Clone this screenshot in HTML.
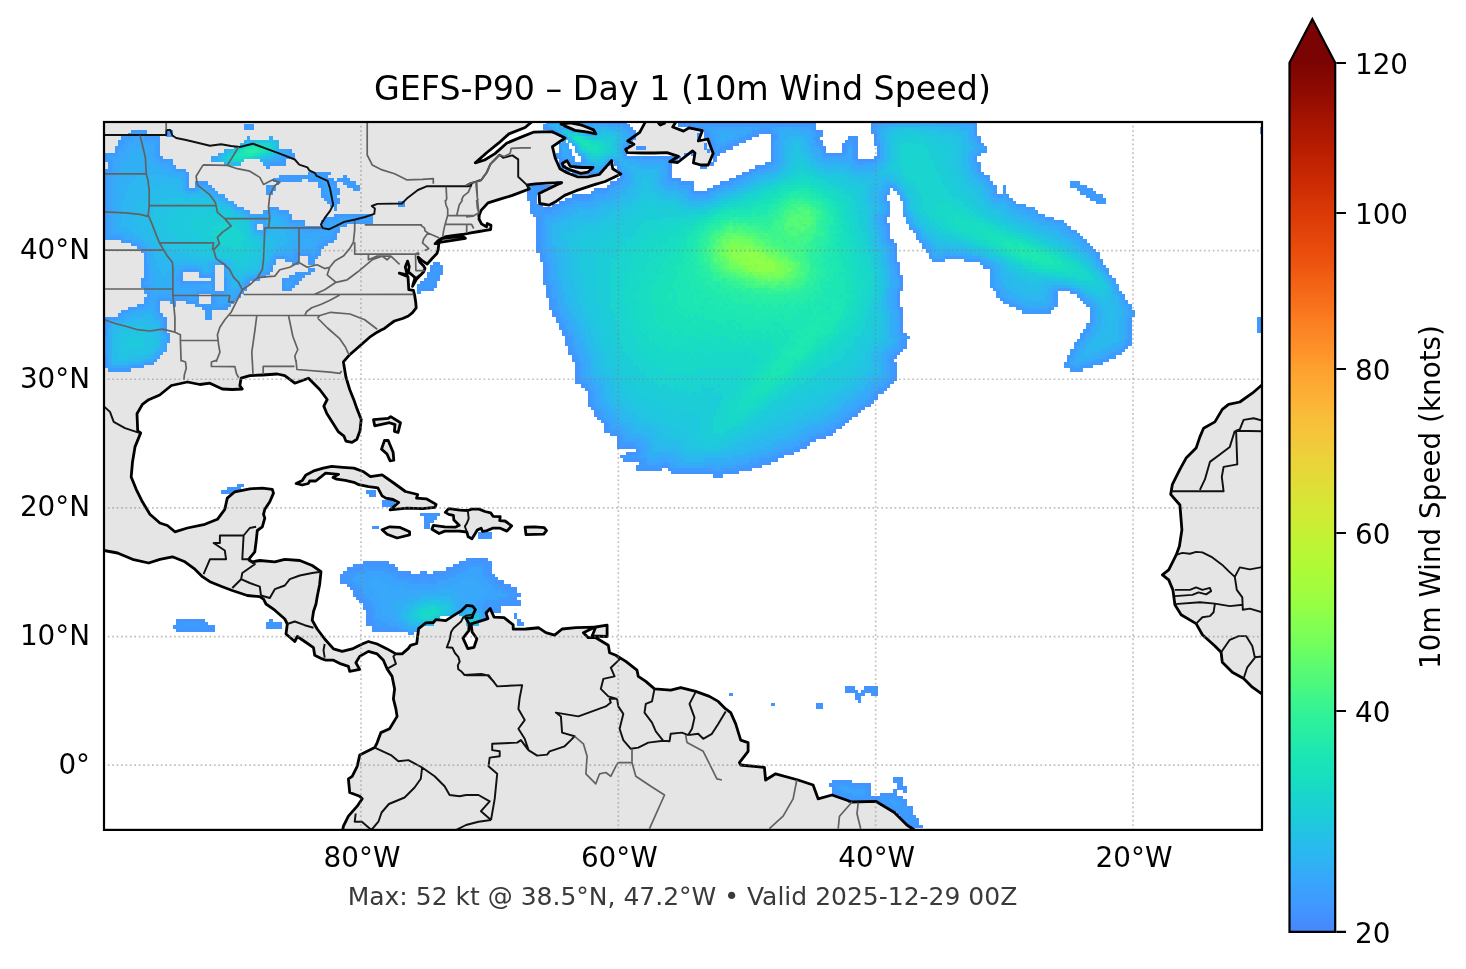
<!DOCTYPE html>
<html lang="en"><head><meta charset="utf-8"><title>GEFS-P90 – Day 1 (10m Wind Speed)</title>
<style>html,body{margin:0;padding:0;background:#fff;overflow:hidden}svg{display:block}</style></head>
<body>
<svg width="1466" height="969" viewBox="0 0 1466 969">
<defs><clipPath id="ax"><rect x="104" y="122" width="1158" height="707.9"/></clipPath>
<linearGradient id="cb" x1="0" y1="0" x2="0" y2="1"><stop offset="0.0000" stop-color="#7a0403"/><stop offset="0.0156" stop-color="#850702"/><stop offset="0.0312" stop-color="#8e0a01"/><stop offset="0.0469" stop-color="#980e01"/><stop offset="0.0625" stop-color="#a41301"/><stop offset="0.0781" stop-color="#ac1701"/><stop offset="0.0938" stop-color="#b41b01"/><stop offset="0.1094" stop-color="#be2102"/><stop offset="0.1250" stop-color="#c52603"/><stop offset="0.1406" stop-color="#cc2b04"/><stop offset="0.1562" stop-color="#d43305"/><stop offset="0.1719" stop-color="#da3907"/><stop offset="0.1875" stop-color="#df3f08"/><stop offset="0.2031" stop-color="#e5470b"/><stop offset="0.2188" stop-color="#ea4e0d"/><stop offset="0.2344" stop-color="#ed5510"/><stop offset="0.2500" stop-color="#f26014"/><stop offset="0.2656" stop-color="#f56918"/><stop offset="0.2812" stop-color="#f8721c"/><stop offset="0.2969" stop-color="#fb7e21"/><stop offset="0.3125" stop-color="#fc8725"/><stop offset="0.3281" stop-color="#fe9029"/><stop offset="0.3438" stop-color="#fe9b2d"/><stop offset="0.3594" stop-color="#fea431"/><stop offset="0.3750" stop-color="#fdac34"/><stop offset="0.3906" stop-color="#fcb336"/><stop offset="0.4062" stop-color="#f9bc39"/><stop offset="0.4219" stop-color="#f6c33a"/><stop offset="0.4375" stop-color="#f2c93a"/><stop offset="0.4531" stop-color="#ecd13a"/><stop offset="0.4688" stop-color="#e7d739"/><stop offset="0.4844" stop-color="#e1dd37"/><stop offset="0.5000" stop-color="#d9e436"/><stop offset="0.5156" stop-color="#d2e935"/><stop offset="0.5312" stop-color="#cbed34"/><stop offset="0.5469" stop-color="#c1f334"/><stop offset="0.5625" stop-color="#b9f635"/><stop offset="0.5781" stop-color="#b1f936"/><stop offset="0.5938" stop-color="#a7fc3a"/><stop offset="0.6094" stop-color="#9ffd3f"/><stop offset="0.6250" stop-color="#96fe44"/><stop offset="0.6406" stop-color="#88ff4e"/><stop offset="0.6562" stop-color="#7dff56"/><stop offset="0.6719" stop-color="#71fe5f"/><stop offset="0.6875" stop-color="#61fc6c"/><stop offset="0.7031" stop-color="#55fa76"/><stop offset="0.7188" stop-color="#4af880"/><stop offset="0.7344" stop-color="#3cf58e"/><stop offset="0.7500" stop-color="#32f298"/><stop offset="0.7656" stop-color="#2aefa1"/><stop offset="0.7812" stop-color="#22ebaa"/><stop offset="0.7969" stop-color="#1ce6b4"/><stop offset="0.8125" stop-color="#19e2bb"/><stop offset="0.8281" stop-color="#18ddc2"/><stop offset="0.8438" stop-color="#19d5cd"/><stop offset="0.8594" stop-color="#1bd0d5"/><stop offset="0.8750" stop-color="#1fc9dd"/><stop offset="0.8906" stop-color="#25c0e7"/><stop offset="0.9062" stop-color="#2ab9ee"/><stop offset="0.9219" stop-color="#2fb2f4"/><stop offset="0.9375" stop-color="#37a8fa"/><stop offset="0.9531" stop-color="#3ba0fd"/><stop offset="0.9688" stop-color="#4099ff"/><stop offset="0.9844" stop-color="#448ffe"/><stop offset="1.0000" stop-color="#4687fb"/></linearGradient>
</defs>
<rect width="1466" height="969" fill="#fff"/>
<g clip-path="url(#ax)">
<path d="M441.5 238.5 L462.5 236.1 465.4 238.4 439.8 242.3ZM562.2 163.5 L566.9 160.6 570.4 166.4 582 167.5 593 167.5 587.8 172.2 580.8 173.3 570.4 169.9 563.4 166.4ZM561.1 124.1 L570.4 122.9 582 125.2 593.6 129.9 595.9 133.9 587.8 132.2 575 130.4 565.7 126.4ZM296.1 483.5 L302.3 480.4 306 474.9 314.6 470.6 323.2 468.1 331.7 466.3 342.8 467.3 353.9 468.1 363.7 471.8 370.4 476.7 382.1 474.9 394.4 483.5 405.4 491.5 417.7 494.5 416.5 498.2 426.3 498.8 436.1 504.4 434.9 507.4 422.6 508.7 406.7 508.1 390.1 509.9 398.7 502.5 393.1 499.5 385.8 498.2 382.1 495.8 377.8 487.8 368.6 486.6 358.8 484.7 353.9 482.3 345.3 480.4 336.7 479.2 333 477.4 338.5 474.3 325.6 473.1 315.8 481 309.6 481 308.4 483.5 302.3 485ZM382.1 529.8 L389.6 526.8 399.6 527.3 409.6 531.8 409.6 534.8 397.1 538 387.1 534.3ZM373.5 419.6 L388.2 418.4 390.7 416.6 400.5 422.7 398.1 432.5 394.4 431.3 395 424.6 389.5 422.7 374.7 425.8ZM384.5 440.5 L388.2 440.5 393.1 452.2 393.8 460.2 390.1 460.8 387 454 381.5 449.1ZM525.1 527.2 L534.6 526.8 544.2 527.7 546.5 530.6 543.7 534.1 526 534.7ZM595.8 627 L607.1 625.2 607.1 636.5 592.1 636ZM445.3 512.4 L448.7 508.6 460.1 510.1 467.8 510.5 471.6 509.1 479.2 509.1 484.9 511.5 490.7 512.9 493.1 516.3 500.2 516.7 499.7 520.6 505 521 511.7 525.8 506.9 531.1 500.2 528.2 492.6 528.2 486.9 530.6 482.6 531.5 481.1 528.2 477.3 530.1 472 538.7 468.2 536.8 466.8 532 459.2 531.1 451.5 531.1 444.8 531.1 439.1 533.5 431.9 529.2 433.4 525.3 444.8 526.8 455.3 527.2 459.2 525.3 453.9 520.1 453.4 515.3 448.7 514.4ZM645.5 121.7 L639.7 132.4 627.7 141 633.9 144.3 625.7 149.3 627.3 152.6 643 153 654.6 153 666.9 152.6 678.5 156.3 669.8 161.7 677.7 162.5 692.5 150.9 695 153 693.4 162.9 700.8 165 708.2 165 713.2 153.4 707.8 139 698.3 141 702.4 130.7 689.2 127.8 683.5 131.1 672.7 127 676 121.7ZM532.7 120 L530.9 122.6 525.1 127.5 508.9 133.9 498.5 143.2 486.9 152.5 475.3 162.9 484.6 160 495 153.6 506.6 143.2 520.5 137.4 533.3 132.2 551.8 131.6 565.1 138 552.4 146.7 555.3 158.3 559.9 168.7 566.9 172.8 577.3 176.8 587.8 176.8 599.3 174.5 611.5 160.6 612.7 168.7 620.8 173.9 605.1 181.5 593.6 184.9 576.2 190.7 564.6 195.4 556.4 201.2 548.9 205.2 539.6 203.5 539.1 193.6 547.2 189.6 561.7 182.6 547.2 183.2 535.6 183.8 527.5 184.9 529.2 189 512.4 195.4 500.8 198.8 488 202.9 481.1 210.4 478.8 216.2 479.4 213.2 479 219 481.5 223.9 486.5 226.8 487.3 223.5 491 225.2 490.6 229.7 485.6 230.4 479 231.5 470.8 232.8 462.5 234.5 454.3 235.3 446 236.6 441.5 238.5 437.8 241 435.1 243.7 438.8 243.7 438.2 249.5 436.9 253.6 432.8 257.8 427.2 264 422.9 261.2 418.1 257.1 419.8 262.1 423.7 266 425 268.5 423.7 271.8 421.3 274.3 417.1 277.6 420.8 274.8 416.7 278.9 412.5 286.3 415 277.6 411.3 274.3 408.4 271.9 409.2 266.5 407.6 261.1 405.3 266.9 407.2 274.8 399.3 273.1 408 276.8 408.8 289.6 413.4 290.4 414.6 295 415.8 302.8 416.2 307.8 412.5 312.7 408.4 316 402.6 318.5 394.4 321 389.4 324.7 384.5 328.4 381.2 330 377.2 332.2 369.7 337.2 359.7 346 349.7 354.7 343.4 361.9 345.9 377 349.7 389.5 353.9 400 356.9 408.6 361.2 419.6 360 430.7 356.9 439.3 352 442.4 345.9 441.1 344 436.2 338.5 431.9 333 423.3 326.8 413.5 323.8 406.1 327.2 399.5 319.7 389.5 308.5 378.2 294.8 383.2 284.8 375.7 277.3 374 262.3 375 249.8 375.7 241.1 378.2 239.8 385.7 242.3 389 232.3 389.5 222.3 389 209.9 383.2 199.9 384.5 187.4 382 171.4 385.5 159.7 395 148.7 399.7 142.4 404.4 137 413.7 137.7 430.9 140.7 432.9 135 446.9 132.5 461.9 131.2 476.9 136.2 489.3 142.4 501.8 149.9 514.3 159.9 523 167.4 525.5 174.9 531.8 187.4 528 204.9 524.3 217.4 519.3 224.8 509.3 227.3 498.1 234.8 491.8 249.8 488.8 262.3 488.1 272.3 489.3 273.5 493.1 269.8 501.8 264.8 509.3 263.5 514.3 264.8 518.1 262.3 526.8 257.3 530.5 256.1 541.8 254.8 551.8 248.6 559.3 252.3 561.8 259.8 560.5 274.8 561.8 284.8 559.3 299.8 560.5 312.2 565.5 321 571.7 319.7 584.2 317.2 596.7 316 603.9 316 604 313.5 611.5 312.2 620.2 317.2 629 324.7 639 333.5 648.9 342.2 651.4 352.2 648.9 362.2 644 368.4 641.5 377.2 644 387.1 648.9 395.9 653.9 402.1 653.9 408.4 648.4 410.5 645.4 416.7 643.5 418.6 628.7 425.8 622.9 433.4 622.5 435.8 619.6 445.8 620.6 455.4 614.4 461.1 611 466.9 605.3 472.6 606.2 475.4 609.6 473.1 614.4 472.1 617.7 465.9 618.2 469.2 623.9 468.8 630.6 463 638.2 467.8 648.7 474 647.3 476.9 638.7 472.1 632 471.1 623.9 485 619.6 487.9 618.7 486 612.9 490.2 608.6 494.1 617.2 504.1 617.7 513.2 624.9 513.2 629.2 524.2 629.2 537.5 628.2 525.9 629 538.4 627.7 545.9 632.7 554.6 635.2 562.1 629 575.9 627.7 594.6 627.2 585.9 631.5 583.4 632.7 588.3 637.7 595.8 637.7 602.1 641.5 608.3 645.2 609.6 652.7 615.8 655.2 625.8 661.4 637 670.2 638.3 676.4 645.8 681.4 654.5 688.9 670.7 690.1 680.7 687.6 695.7 691.4 709.4 696.4 718.2 701.4 725.7 708.9 730.7 712.6 735.7 723.9 740.7 740.1 748.1 742.6 748.1 751.3 739.4 762.6 740.7 765 764.4 767.5 765.6 780 775.6 773.8 798.1 780 813.1 785 818.1 798.8 832 795 852 802 875.7 801.3 894.4 812.5 906.9 825 914.4 830 930 835 345 835 342.7 830 343.4 826.2 348.4 816.2 357.2 806.2 362.2 798.8 359.7 796.3 349.7 792.5 348.4 778.8 352.2 776.3 357.2 766.3 359.7 755.1 374.7 747.6 377.2 742.6 380.9 732.6 389.6 728.8 397.1 716.4 395.9 708.9 393.4 698.9 394.6 688.9 392.1 676.4 387.1 668.9 383.4 660.2 377.2 653.9 368.4 651.4 359.7 656.4 355.9 662.7 359.7 669.4 349.7 671.4 348.4 666.4 340.9 663.9 333.5 660.2 326 660.2 322.2 658.9 314.7 655.2 313.5 647.7 304.7 641.5 297.3 636.5 294.8 641.5 286 634 287.3 624 284.8 619 274.8 610.2 266 604 263.5 599.2 259.8 596.7 247.3 595.5 232.3 590.5 222.3 586.7 209.9 581.7 202.4 576.7 194.9 569.2 184.9 561.8 172.4 556.8 159.9 559.3 148.7 563 132.5 559.3 117.5 553 104 550.5 98 560 98 116 600 116ZM1266 381.5 L1261 385.7 1252.3 393.2 1239.8 402 1228.6 404.4 1222.3 409.4 1214.9 421.9 1203.6 428.2 1199.9 436.9 1196.1 448.1 1186.1 458.1 1179.9 469.4 1172.4 484.3 1170.7 494.3 1179.9 505 1181.9 529.9 1179.4 546.2 1176.2 554.9 1168.7 569.9 1162.4 574.9 1168.7 579.9 1172.9 589.9 1174.9 604.8 1181.1 614.8 1196.1 623.6 1202.4 634.8 1214.9 646 1221.1 652.3 1222.3 662.3 1232.3 672.3 1243.6 678.5 1252.3 687.2 1266 696.7 1272 700 1272 380Z" fill="#e5e5e5" fill-rule="nonzero"/>
<g shape-rendering="crispEdges">
<path fill="#4294ff" d="M607.0 120.3H626.6V123.8H607.0ZM677.8 120.3H816.4V123.8H677.8ZM870.8 120.3H877.5V123.8H870.8ZM626.3 123.5H629.8V127.0H626.3ZM677.8 123.5H691.0V127.0H677.8ZM812.9 123.5H816.4V127.0H812.9ZM870.8 123.5H874.3V127.0H870.8ZM629.5 126.7H633.1V130.2H629.5ZM690.7 126.7H703.8V130.2H690.7ZM812.9 126.7H816.4V130.2H812.9ZM870.8 126.7H874.3V130.2H870.8ZM632.8 129.9H636.3V133.5H632.8ZM703.5 129.9H707.0V133.5H703.5ZM758.2 129.9H771.4V133.5H758.2ZM816.1 129.9H822.8V133.5H816.1ZM870.8 129.9H874.3V133.5H870.8ZM632.8 133.2H636.3V136.7H632.8ZM697.1 133.2H700.6V136.7H697.1ZM703.5 133.2H707.0V136.7H703.5ZM751.8 133.2H758.5V136.7H751.8ZM771.1 133.2H774.6V136.7H771.1ZM819.3 133.2H822.8V136.7H819.3ZM874.0 133.2H877.5V136.7H874.0ZM632.8 136.4H636.3V139.9H632.8ZM697.1 136.4H700.6V139.9H697.1ZM703.5 136.4H710.3V139.9H703.5ZM745.3 136.4H752.1V139.9H745.3ZM771.1 136.4H774.6V139.9H771.1ZM816.1 136.4H819.6V139.9H816.1ZM848.3 136.4H858.2V139.9H848.3ZM874.0 136.4H877.5V139.9H874.0ZM710.0 139.6H713.5V143.1H710.0ZM738.9 139.6H745.6V143.1H738.9ZM771.1 139.6H774.6V143.1H771.1ZM819.3 139.6H822.8V143.1H819.3ZM845.1 139.6H848.6V143.1H845.1ZM854.7 139.6H858.2V143.1H854.7ZM703.5 142.8H707.0V146.3H703.5ZM710.0 142.8H713.5V146.3H710.0ZM732.5 142.8H739.2V146.3H732.5ZM771.1 142.8H774.6V146.3H771.1ZM819.3 142.8H822.8V146.3H819.3ZM841.8 142.8H845.4V146.3H841.8ZM854.7 142.8H858.2V146.3H854.7ZM639.2 146.0H645.9V149.5H639.2ZM703.5 146.0H707.0V149.5H703.5ZM710.0 146.0H713.5V149.5H710.0ZM726.0 146.0H732.8V149.5H726.0ZM771.1 146.0H774.6V149.5H771.1ZM822.5 146.0H826.1V149.5H822.5ZM841.8 146.0H845.4V149.5H841.8ZM854.7 146.0H858.2V149.5H854.7ZM706.7 149.2H710.3V152.8H706.7ZM713.2 149.2H716.7V152.8H713.2ZM719.6 149.2H726.3V152.8H719.6ZM771.1 149.2H774.6V152.8H771.1ZM822.5 149.2H826.1V152.8H822.5ZM841.8 149.2H845.4V152.8H841.8ZM854.7 149.2H858.2V152.8H854.7ZM555.6 152.5H559.1V156.0H555.6ZM684.2 152.5H687.7V156.0H684.2ZM690.7 152.5H694.2V156.0H690.7ZM713.2 152.5H719.9V156.0H713.2ZM771.1 152.5H774.6V156.0H771.1ZM825.8 152.5H842.1V156.0H825.8ZM854.7 152.5H858.2V156.0H854.7ZM555.6 155.7H559.1V159.2H555.6ZM642.4 155.7H681.3V159.2H642.4ZM713.2 155.7H716.7V159.2H713.2ZM771.1 155.7H774.6V159.2H771.1ZM854.7 155.7H858.2V159.2H854.7ZM558.8 158.9H565.5V162.4H558.8ZM671.4 158.9H678.1V162.4H671.4ZM713.2 158.9H716.7V162.4H713.2ZM771.1 158.9H774.6V162.4H771.1ZM857.9 158.9H874.3V162.4H857.9ZM558.8 162.1H562.3V165.6H558.8ZM568.4 162.1H571.9V165.6H568.4ZM668.1 162.1H671.7V165.6H668.1ZM710.0 162.1H713.5V165.6H710.0ZM764.6 162.1H771.4V165.6H764.6ZM558.8 165.3H565.5V168.8H558.8ZM574.9 165.3H578.4V168.8H574.9ZM668.1 165.3H671.7V168.8H668.1ZM700.3 165.3H707.0V168.8H700.3ZM755.0 165.3H764.9V168.8H755.0ZM565.2 168.5H571.9V172.1H565.2ZM668.1 168.5H671.7V172.1H668.1ZM748.6 168.5H755.3V172.1H748.6ZM571.6 171.8H594.5V175.3H571.6ZM668.1 171.8H671.7V175.3H668.1ZM742.1 171.8H748.9V175.3H742.1ZM619.9 175.0H623.4V178.5H619.9ZM668.1 175.0H671.7V178.5H668.1ZM735.7 175.0H742.4V178.5H735.7ZM616.7 178.2H620.2V181.7H616.7ZM671.4 178.2H681.3V181.7H671.4ZM729.3 178.2H736.0V181.7H729.3ZM555.6 181.4H562.3V184.9H555.6ZM610.2 181.4H617.0V184.9H610.2ZM681.0 181.4H694.2V184.9H681.0ZM719.6 181.4H729.6V184.9H719.6ZM529.8 184.6H552.6V188.1H529.8ZM607.0 184.6H610.5V188.1H607.0ZM690.7 184.6H694.2V188.1H690.7ZM713.2 184.6H719.9V188.1H713.2ZM526.6 187.8H530.1V191.4H526.6ZM539.5 187.8H546.2V191.4H539.5ZM594.2 187.8H607.3V191.4H594.2ZM690.7 187.8H694.2V191.4H690.7ZM706.7 187.8H713.5V191.4H706.7ZM526.6 191.1H530.1V194.6H526.6ZM536.3 191.1H539.8V194.6H536.3ZM590.9 191.1H594.5V194.6H590.9ZM693.9 191.1H707.0V194.6H693.9ZM526.6 194.3H530.1V197.8H526.6ZM533.0 194.3H536.6V197.8H533.0ZM571.6 194.3H591.2V197.8H571.6ZM526.6 197.5H530.1V201.0H526.6ZM533.0 197.5H536.6V201.0H533.0ZM565.2 197.5H571.9V201.0H565.2ZM529.8 200.7H536.6V204.2H529.8ZM558.8 200.7H565.5V204.2H558.8ZM529.8 203.9H533.3V207.4H529.8ZM536.3 203.9H543.0V207.4H536.3ZM552.3 203.9H559.1V207.4H552.3ZM529.8 207.1H533.3V210.7H529.8ZM542.7 207.1H552.6V210.7H542.7ZM529.8 210.4H533.3V213.9H529.8ZM533.0 213.6H536.6V217.1H533.0ZM886.9 213.6H890.4V217.1H886.9ZM903.0 213.6H906.5V217.1H903.0ZM536.3 216.8H539.8V220.3H536.3ZM883.7 216.8H887.2V220.3H883.7ZM536.3 220.0H539.8V223.5H536.3ZM883.7 220.0H887.2V223.5H883.7ZM536.3 223.2H539.8V226.7H536.3ZM886.9 223.2H890.4V226.7H886.9ZM536.3 226.4H539.8V230.0H536.3ZM886.9 226.4H890.4V230.0H886.9ZM536.3 229.7H539.8V233.2H536.3ZM886.9 229.7H890.4V233.2H886.9ZM536.3 232.9H539.8V236.4H536.3ZM886.9 232.9H890.4V236.4H886.9ZM536.3 236.1H539.8V239.6H536.3ZM886.9 236.1H890.4V239.6H886.9ZM536.3 239.3H539.8V242.8H536.3ZM890.1 239.3H893.6V242.8H890.1ZM536.3 242.5H539.8V246.0H536.3ZM893.3 242.5H896.8V246.0H893.3ZM536.3 245.7H539.8V249.3H536.3ZM893.3 245.7H896.8V249.3H893.3ZM536.3 249.0H539.8V252.5H536.3ZM893.3 249.0H896.8V252.5H893.3ZM539.5 252.2H543.0V255.7H539.5ZM893.3 252.2H896.8V255.7H893.3ZM539.5 255.4H543.0V258.9H539.5ZM893.3 255.4H896.8V258.9H893.3ZM539.5 258.6H543.0V262.1H539.5ZM893.3 258.6H896.8V262.1H893.3ZM433.3 261.8H440.1V265.3H433.3ZM542.7 261.8H546.2V265.3H542.7ZM896.5 261.8H900.0V265.3H896.5ZM430.1 265.0H433.6V268.6H430.1ZM439.8 265.0H443.3V268.6H439.8ZM542.7 265.0H546.2V268.6H542.7ZM896.5 265.0H900.0V268.6H896.5ZM430.1 268.3H433.6V271.8H430.1ZM439.8 268.3H443.3V271.8H439.8ZM542.7 268.3H546.2V271.8H542.7ZM896.5 268.3H900.0V271.8H896.5ZM426.9 271.5H430.4V275.0H426.9ZM439.8 271.5H443.3V275.0H439.8ZM542.7 271.5H546.2V275.0H542.7ZM896.5 271.5H900.0V275.0H896.5ZM426.9 274.7H430.4V278.2H426.9ZM436.5 274.7H440.1V278.2H436.5ZM542.7 274.7H546.2V278.2H542.7ZM899.7 274.7H903.3V278.2H899.7ZM423.7 277.9H427.2V281.4H423.7ZM436.5 277.9H440.1V281.4H436.5ZM542.7 277.9H546.2V281.4H542.7ZM899.7 277.9H903.3V281.4H899.7ZM420.4 281.1H424.0V284.6H420.4ZM433.3 281.1H436.8V284.6H433.3ZM542.7 281.1H546.2V284.6H542.7ZM899.7 281.1H903.3V284.6H899.7ZM433.3 284.3H436.8V287.9H433.3ZM545.9 284.3H549.4V287.9H545.9ZM899.7 284.3H903.3V287.9H899.7ZM420.4 287.6H433.6V291.1H420.4ZM545.9 287.6H549.4V291.1H545.9ZM899.7 287.6H903.3V291.1H899.7ZM545.9 290.8H549.4V294.3H545.9ZM896.5 290.8H900.0V294.3H896.5ZM545.9 294.0H549.4V297.5H545.9ZM896.5 294.0H900.0V297.5H896.5ZM549.1 297.2H552.6V300.7H549.1ZM896.5 297.2H900.0V300.7H896.5ZM549.1 300.4H552.6V303.9H549.1ZM896.5 300.4H900.0V303.9H896.5ZM549.1 303.6H552.6V307.2H549.1ZM896.5 303.6H900.0V307.2H896.5ZM549.1 306.9H552.6V310.4H549.1ZM899.7 306.9H903.3V310.4H899.7ZM552.3 310.1H555.9V313.6H552.3ZM899.7 310.1H903.3V313.6H899.7ZM552.3 313.3H555.9V316.8H552.3ZM899.7 313.3H903.3V316.8H899.7ZM555.6 316.5H559.1V320.0H555.6ZM899.7 316.5H903.3V320.0H899.7ZM555.6 319.7H559.1V323.2H555.6ZM899.7 319.7H903.3V323.2H899.7ZM558.8 322.9H562.3V326.5H558.8ZM899.7 322.9H903.3V326.5H899.7ZM558.8 326.2H562.3V329.7H558.8ZM899.7 326.2H903.3V329.7H899.7ZM562.0 329.4H565.5V332.9H562.0ZM899.7 329.4H903.3V332.9H899.7ZM562.0 332.6H565.5V336.1H562.0ZM903.0 332.6H906.5V336.1H903.0ZM565.2 335.8H568.7V339.3H565.2ZM565.2 339.0H568.7V342.5H565.2ZM903.0 339.0H906.5V342.5H903.0ZM565.2 342.2H568.7V345.8H565.2ZM903.0 342.2H906.5V345.8H903.0ZM568.4 345.5H571.9V349.0H568.4ZM903.0 345.5H906.5V349.0H903.0ZM568.4 348.7H571.9V352.2H568.4ZM899.7 348.7H903.3V352.2H899.7ZM568.4 351.9H571.9V355.4H568.4ZM896.5 351.9H900.0V355.4H896.5ZM571.6 355.1H575.2V358.6H571.6ZM893.3 355.1H896.8V358.6H893.3ZM571.6 358.3H575.2V361.8H571.6ZM890.1 358.3H893.6V361.8H890.1ZM574.9 361.5H578.4V365.1H574.9ZM893.3 361.5H896.8V365.1H893.3ZM574.9 364.8H578.4V368.3H574.9ZM893.3 364.8H896.8V368.3H893.3ZM574.9 368.0H578.4V371.5H574.9ZM893.3 368.0H896.8V371.5H893.3ZM574.9 371.2H578.4V374.7H574.9ZM893.3 371.2H896.8V374.7H893.3ZM574.9 374.4H578.4V377.9H574.9ZM893.3 374.4H896.8V377.9H893.3ZM574.9 377.6H578.4V381.1H574.9ZM893.3 377.6H896.8V381.1H893.3ZM574.9 380.8H581.6V384.4H574.9ZM890.1 380.8H893.6V384.4H890.1ZM581.3 384.1H584.8V387.6H581.3ZM886.9 384.1H890.4V387.6H886.9ZM584.5 387.3H588.0V390.8H584.5ZM883.7 387.3H887.2V390.8H883.7ZM587.7 390.5H591.2V394.0H587.7ZM877.2 390.5H884.0V394.0H877.2ZM587.7 393.7H591.2V397.2H587.7ZM874.0 393.7H877.5V397.2H874.0ZM587.7 396.9H591.2V400.4H587.7ZM874.0 396.9H877.5V400.4H874.0ZM587.7 400.1H591.2V403.7H587.7ZM870.8 400.1H874.3V403.7H870.8ZM587.7 403.4H591.2V406.9H587.7ZM864.4 403.4H871.1V406.9H864.4ZM590.9 406.6H594.5V410.1H590.9ZM861.1 406.6H864.7V410.1H861.1ZM594.2 409.8H597.7V413.3H594.2ZM857.9 409.8H861.4V413.3H857.9ZM594.2 413.0H597.7V416.5H594.2ZM851.5 413.0H858.2V416.5H851.5ZM597.4 416.2H600.9V419.7H597.4ZM848.3 416.2H851.8V419.7H848.3ZM600.6 419.4H604.1V423.0H600.6ZM845.1 419.4H848.6V423.0H845.1ZM603.8 422.7H607.3V426.2H603.8ZM841.8 422.7H845.4V426.2H841.8ZM603.8 425.9H607.3V429.4H603.8ZM835.4 425.9H842.1V429.4H835.4ZM603.8 429.1H610.5V432.6H603.8ZM832.2 429.1H835.7V432.6H832.2ZM610.2 432.3H617.0V435.8H610.2ZM825.8 432.3H832.5V435.8H825.8ZM616.7 435.5H620.2V439.0H616.7ZM816.1 435.5H826.1V439.0H816.1ZM616.7 438.7H620.2V442.3H616.7ZM809.7 438.7H816.4V442.3H809.7ZM616.7 442.0H620.2V445.5H616.7ZM806.5 442.0H810.0V445.5H806.5ZM616.7 445.2H636.3V448.7H616.7ZM800.0 445.2H806.8V448.7H800.0ZM636.0 448.4H639.5V451.9H636.0ZM793.6 448.4H800.3V451.9H793.6ZM626.3 451.6H636.3V455.1H626.3ZM783.9 451.6H793.9V455.1H783.9ZM619.9 454.8H626.6V458.4H619.9ZM777.5 454.8H784.2V458.4H777.5ZM623.1 458.1H639.5V461.6H623.1ZM771.1 458.1H777.8V461.6H771.1ZM639.2 461.3H642.7V464.8H639.2ZM761.4 461.3H771.4V464.8H761.4ZM636.0 464.5H639.5V468.0H636.0ZM661.7 464.5H668.4V468.0H661.7ZM751.8 464.5H761.7V468.0H751.8ZM636.0 467.7H662.0V471.2H636.0ZM668.1 467.7H671.7V471.2H668.1ZM738.9 467.7H752.1V471.2H738.9ZM671.4 470.9H713.5V474.4H671.4ZM722.8 470.9H739.2V474.4H722.8ZM713.2 474.1H723.1V477.7H713.2ZM237.1 483.8H243.8V487.3H237.1ZM227.4 487.0H240.6V490.5H227.4ZM221.0 490.2H234.2V493.7H221.0ZM365.8 490.2H375.7V493.7H365.8ZM369.0 493.4H375.7V497.0H369.0ZM381.8 499.9H395.0V503.4H381.8ZM381.8 503.1H395.0V506.6H381.8ZM420.4 512.7H440.1V516.3H420.4ZM423.7 516.0H427.2V519.5H423.7ZM433.3 516.0H436.8V519.5H433.3ZM423.7 519.2H427.2V522.7H423.7ZM430.1 519.2H433.6V522.7H430.1ZM423.7 522.4H430.4V525.9H423.7ZM372.2 525.6H378.9V529.1H372.2ZM423.7 525.6H430.4V529.1H423.7ZM478.4 532.0H491.5V535.6H478.4ZM478.4 535.3H491.5V538.8H478.4ZM465.5 557.8H488.3V561.3H465.5ZM362.5 561.0H388.6V564.5H362.5ZM459.1 561.0H491.5V564.5H459.1ZM352.9 564.2H395.0V567.7H352.9ZM452.6 564.2H465.8V567.7H452.6ZM484.8 564.2H491.5V567.7H484.8ZM346.5 567.4H362.8V570.9H346.5ZM388.3 567.4H398.2V570.9H388.3ZM446.2 567.4H459.4V570.9H446.2ZM484.8 567.4H491.5V570.9H484.8ZM343.2 570.6H353.2V574.2H343.2ZM394.7 570.6H411.1V574.2H394.7ZM420.4 570.6H427.2V574.2H420.4ZM433.3 570.6H452.9V574.2H433.3ZM484.8 570.6H491.5V574.2H484.8ZM340.0 573.9H346.8V577.4H340.0ZM397.9 573.9H446.5V577.4H397.9ZM488.0 573.9H494.7V577.4H488.0ZM340.0 577.1H346.8V580.6H340.0ZM410.8 577.1H420.7V580.6H410.8ZM426.9 577.1H433.6V580.6H426.9ZM491.2 577.1H498.0V580.6H491.2ZM340.0 580.3H350.0V583.8H340.0ZM494.4 580.3H504.4V583.8H494.4ZM346.5 583.5H353.2V587.0H346.5ZM497.7 583.5H510.8V587.0H497.7ZM349.7 586.7H356.4V590.2H349.7ZM504.1 586.7H517.3V590.2H504.1ZM352.9 589.9H359.6V593.5H352.9ZM510.5 589.9H517.3V593.5H510.5ZM352.9 593.2H359.6V596.7H352.9ZM513.7 593.2H520.5V596.7H513.7ZM356.1 596.4H362.8V599.9H356.1ZM510.5 596.4H517.3V599.9H510.5ZM359.3 599.6H366.1V603.1H359.3ZM500.9 599.6H520.5V603.1H500.9ZM362.5 602.8H369.3V606.3H362.5ZM497.7 602.8H520.5V606.3H497.7ZM362.5 606.0H369.3V609.5H362.5ZM484.8 606.0H494.7V609.5H484.8ZM497.7 606.0H501.2V609.5H497.7ZM365.8 609.2H372.5V612.8H365.8ZM484.8 609.2H488.3V612.8H484.8ZM491.2 609.2H501.2V612.8H491.2ZM365.8 612.5H372.5V616.0H365.8ZM513.7 612.5H517.3V616.0H513.7ZM365.8 615.7H372.5V619.2H365.8ZM513.7 615.7H517.3V619.2H513.7ZM176.0 618.9H205.2V622.4H176.0ZM269.3 618.9H272.8V622.4H269.3ZM365.8 618.9H372.5V622.4H365.8ZM517.0 618.9H520.5V622.4H517.0ZM176.0 622.1H179.5V625.6H176.0ZM204.9 622.1H208.4V625.6H204.9ZM266.0 622.1H269.6V625.6H266.0ZM272.5 622.1H282.4V625.6H272.5ZM365.8 622.1H375.7V625.6H365.8ZM517.0 622.1H523.7V625.6H517.0ZM172.8 625.3H176.3V628.8H172.8ZM208.1 625.3H214.9V628.8H208.1ZM266.0 625.3H282.4V628.8H266.0ZM372.2 625.3H375.7V628.8H372.2ZM176.0 628.5H214.9V632.1H176.0ZM372.2 628.5H398.2V632.1H372.2ZM845.1 686.4H855.0V690.0H845.1ZM864.4 686.4H877.5V690.0H864.4ZM845.1 689.7H858.2V693.2H845.1ZM861.1 689.7H871.1V693.2H861.1ZM874.0 689.7H877.5V693.2H874.0ZM729.3 692.9H732.8V696.4H729.3ZM854.7 692.9H864.7V696.4H854.7ZM870.8 692.9H877.5V696.4H870.8ZM854.7 696.1H861.4V699.6H854.7ZM857.9 699.3H861.4V702.8H857.9ZM771.1 702.5H774.6V706.0H771.1ZM816.1 702.5H822.8V706.0H816.1ZM816.1 705.7H822.8V709.3H816.1ZM893.3 776.5H903.3V780.0H893.3ZM832.2 779.7H851.8V783.2H832.2ZM893.3 779.7H896.8V783.2H893.3ZM899.7 779.7H903.3V783.2H899.7ZM829.0 782.9H832.5V786.5H829.0ZM851.5 782.9H871.1V786.5H851.5ZM896.5 782.9H903.3V786.5H896.5ZM832.2 786.2H835.7V789.7H832.2ZM867.6 786.2H871.1V789.7H867.6ZM896.5 786.2H906.5V789.7H896.5ZM832.2 789.4H835.7V792.9H832.2ZM867.6 789.4H871.1V792.9H867.6ZM893.3 789.4H896.8V792.9H893.3ZM903.0 789.4H906.5V792.9H903.0ZM832.2 792.6H838.9V796.1H832.2ZM867.6 792.6H871.1V796.1H867.6ZM880.4 792.6H896.8V796.1H880.4ZM838.6 795.8H848.6V799.3H838.6ZM870.8 795.8H880.7V799.3H870.8ZM896.5 795.8H903.3V799.3H896.5ZM848.3 799.0H880.7V802.5H848.3ZM903.0 799.0H906.5V802.5H903.0ZM880.4 802.2H887.2V805.8H880.4ZM903.0 802.2H906.5V805.8H903.0ZM886.9 805.5H890.4V809.0H886.9ZM906.2 805.5H912.9V809.0H906.2ZM890.1 808.7H896.8V812.2H890.1ZM909.4 808.7H912.9V812.2H909.4ZM896.5 811.9H900.0V815.4H896.5ZM909.4 811.9H912.9V815.4H909.4ZM899.7 815.1H903.3V818.6H899.7ZM912.6 815.1H916.1V818.6H912.6ZM903.0 818.3H906.5V821.8H903.0ZM915.8 818.3H919.3V821.8H915.8ZM906.2 821.5H909.7V825.1H906.2ZM915.8 821.5H919.3V825.1H915.8ZM909.4 824.8H922.6V828.3H909.4Z"/>
<path fill="#3e9bfe" d="M545.9 120.3H555.9V123.8H545.9ZM581.3 120.3H607.3V123.8H581.3ZM877.2 120.3H900.0V123.8H877.2ZM935.1 120.3H977.2V123.8H935.1ZM243.5 123.5H253.5V127.0H243.5ZM542.7 123.5H546.2V127.0H542.7ZM623.1 123.5H626.6V127.0H623.1ZM690.7 123.5H813.2V127.0H690.7ZM973.7 123.5H977.2V127.0H973.7ZM243.5 126.7H253.5V130.2H243.5ZM542.7 126.7H552.6V130.2H542.7ZM626.3 126.7H629.8V130.2H626.3ZM703.5 126.7H707.0V130.2H703.5ZM758.2 126.7H771.4V130.2H758.2ZM809.7 126.7H813.2V130.2H809.7ZM973.7 126.7H977.2V130.2H973.7ZM1260.0 126.7H1263.5V130.2H1260.0ZM130.9 129.9H147.3V133.5H130.9ZM166.3 129.9H173.1V133.5H166.3ZM629.5 129.9H633.1V133.5H629.5ZM706.7 129.9H710.3V133.5H706.7ZM751.8 129.9H758.5V133.5H751.8ZM771.1 129.9H774.6V133.5H771.1ZM812.9 129.9H816.4V133.5H812.9ZM874.0 129.9H877.5V133.5H874.0ZM973.7 129.9H977.2V133.5H973.7ZM1260.0 129.9H1263.5V133.5H1260.0ZM127.7 133.2H134.5V136.7H127.7ZM143.8 133.2H147.3V136.7H143.8ZM166.3 133.2H173.1V136.7H166.3ZM706.7 133.2H710.3V136.7H706.7ZM745.3 133.2H752.1V136.7H745.3ZM774.3 133.2H777.8V136.7H774.3ZM816.1 133.2H819.6V136.7H816.1ZM973.7 133.2H977.2V136.7H973.7ZM121.3 136.4H131.2V139.9H121.3ZM143.8 136.4H160.2V139.9H143.8ZM629.5 136.4H633.1V139.9H629.5ZM710.0 136.4H713.5V139.9H710.0ZM738.9 136.4H745.6V139.9H738.9ZM774.3 136.4H777.8V139.9H774.3ZM812.9 136.4H816.4V139.9H812.9ZM976.9 136.4H980.5V139.9H976.9ZM118.1 139.6H124.8V143.1H118.1ZM156.7 139.6H160.2V143.1H156.7ZM629.5 139.6H633.1V143.1H629.5ZM713.2 139.6H716.7V143.1H713.2ZM732.5 139.6H739.2V143.1H732.5ZM816.1 139.6H819.6V143.1H816.1ZM848.3 139.6H855.0V143.1H848.3ZM874.0 139.6H877.5V143.1H874.0ZM976.9 139.6H980.5V143.1H976.9ZM118.1 142.8H121.6V146.3H118.1ZM156.7 142.8H160.2V146.3H156.7ZM626.3 142.8H629.8V146.3H626.3ZM713.2 142.8H716.7V146.3H713.2ZM726.0 142.8H732.8V146.3H726.0ZM816.1 142.8H819.6V146.3H816.1ZM845.1 142.8H848.6V146.3H845.1ZM851.5 142.8H855.0V146.3H851.5ZM874.0 142.8H880.7V146.3H874.0ZM980.2 142.8H983.7V146.3H980.2ZM114.9 146.0H121.6V149.5H114.9ZM156.7 146.0H160.2V149.5H156.7ZM558.8 146.0H562.3V149.5H558.8ZM623.1 146.0H626.6V149.5H623.1ZM636.0 146.0H639.5V149.5H636.0ZM713.2 146.0H716.7V149.5H713.2ZM719.6 146.0H726.3V149.5H719.6ZM819.3 146.0H822.8V149.5H819.3ZM845.1 146.0H848.6V149.5H845.1ZM851.5 146.0H855.0V149.5H851.5ZM877.2 146.0H880.7V149.5H877.2ZM983.4 146.0H986.9V149.5H983.4ZM114.9 149.2H118.4V152.8H114.9ZM156.7 149.2H160.2V152.8H156.7ZM288.6 149.2H292.1V152.8H288.6ZM558.8 149.2H562.3V152.8H558.8ZM623.1 149.2H626.6V152.8H623.1ZM716.4 149.2H719.9V152.8H716.4ZM845.1 149.2H848.6V152.8H845.1ZM851.5 149.2H855.0V152.8H851.5ZM877.2 149.2H880.7V152.8H877.2ZM980.2 149.2H986.9V152.8H980.2ZM105.2 152.5H118.4V156.0H105.2ZM156.7 152.5H160.2V156.0H156.7ZM288.6 152.5H295.3V156.0H288.6ZM558.8 152.5H562.3V156.0H558.8ZM568.4 152.5H571.9V156.0H568.4ZM623.1 152.5H626.6V156.0H623.1ZM822.5 152.5H826.1V156.0H822.5ZM841.8 152.5H845.4V156.0H841.8ZM851.5 152.5H855.0V156.0H851.5ZM877.2 152.5H880.7V156.0H877.2ZM976.9 152.5H980.5V156.0H976.9ZM105.2 155.7H108.7V159.2H105.2ZM156.7 155.7H163.4V159.2H156.7ZM285.3 155.7H295.3V159.2H285.3ZM558.8 155.7H562.3V159.2H558.8ZM571.6 155.7H575.2V159.2H571.6ZM626.3 155.7H642.7V159.2H626.3ZM851.5 155.7H855.0V159.2H851.5ZM874.0 155.7H880.7V159.2H874.0ZM973.7 155.7H977.2V159.2H973.7ZM105.2 158.9H111.9V162.4H105.2ZM159.9 158.9H173.1V162.4H159.9ZM282.1 158.9H285.6V162.4H282.1ZM565.2 158.9H575.2V162.4H565.2ZM581.3 158.9H584.8V162.4H581.3ZM668.1 158.9H671.7V162.4H668.1ZM854.7 158.9H858.2V162.4H854.7ZM874.0 158.9H877.5V162.4H874.0ZM973.7 158.9H977.2V162.4H973.7ZM108.4 162.1H111.9V165.6H108.4ZM169.5 162.1H173.1V165.6H169.5ZM269.3 162.1H285.6V165.6H269.3ZM571.6 162.1H581.6V165.6H571.6ZM607.0 162.1H610.5V165.6H607.0ZM613.5 162.1H617.0V165.6H613.5ZM771.1 162.1H774.6V165.6H771.1ZM857.9 162.1H864.7V165.6H857.9ZM976.9 162.1H980.5V165.6H976.9ZM108.4 165.3H111.9V168.8H108.4ZM172.8 165.3H176.3V168.8H172.8ZM266.0 165.3H269.6V168.8H266.0ZM578.1 165.3H591.2V168.8H578.1ZM603.8 165.3H607.3V168.8H603.8ZM616.7 165.3H620.2V168.8H616.7ZM764.6 165.3H768.2V168.8H764.6ZM976.9 165.3H980.5V168.8H976.9ZM105.2 168.5H111.9V172.1H105.2ZM176.0 168.5H185.9V172.1H176.0ZM590.9 168.5H594.5V172.1H590.9ZM600.6 168.5H604.1V172.1H600.6ZM616.7 168.5H620.2V172.1H616.7ZM755.0 168.5H758.5V172.1H755.0ZM976.9 168.5H980.5V172.1H976.9ZM105.2 171.8H108.7V175.3H105.2ZM185.6 171.8H189.1V175.3H185.6ZM307.9 171.8H330.7V175.3H307.9ZM594.2 171.8H600.9V175.3H594.2ZM619.9 171.8H623.4V175.3H619.9ZM748.6 171.8H752.1V175.3H748.6ZM980.2 171.8H983.7V175.3H980.2ZM105.2 175.0H108.7V178.5H105.2ZM185.6 175.0H189.1V178.5H185.6ZM278.9 175.0H311.4V178.5H278.9ZM323.9 175.0H327.5V178.5H323.9ZM343.2 175.0H346.8V178.5H343.2ZM742.1 175.0H745.6V178.5H742.1ZM983.4 175.0H990.1V178.5H983.4ZM105.2 178.2H108.7V181.7H105.2ZM185.6 178.2H189.1V181.7H185.6ZM272.5 178.2H301.7V181.7H272.5ZM307.9 178.2H321.0V181.7H307.9ZM323.9 178.2H333.9V181.7H323.9ZM336.8 178.2H350.0V181.7H336.8ZM619.9 178.2H623.4V181.7H619.9ZM668.1 178.2H671.7V181.7H668.1ZM735.7 178.2H739.2V181.7H735.7ZM986.6 178.2H990.1V181.7H986.6ZM105.2 181.4H108.7V184.9H105.2ZM185.6 181.4H189.1V184.9H185.6ZM195.3 181.4H208.4V184.9H195.3ZM275.7 181.4H279.2V184.9H275.7ZM317.5 181.4H321.0V184.9H317.5ZM330.4 181.4H337.1V184.9H330.4ZM343.2 181.4H356.4V184.9H343.2ZM616.7 181.4H620.2V184.9H616.7ZM677.8 181.4H681.3V184.9H677.8ZM729.3 181.4H732.8V184.9H729.3ZM989.8 181.4H993.3V184.9H989.8ZM1070.2 181.4H1080.2V184.9H1070.2ZM105.2 184.6H108.7V188.1H105.2ZM185.6 184.6H189.1V188.1H185.6ZM195.3 184.6H198.8V188.1H195.3ZM208.1 184.6H211.7V188.1H208.1ZM266.0 184.6H276.0V188.1H266.0ZM317.5 184.6H324.2V188.1H317.5ZM333.6 184.6H337.1V188.1H333.6ZM346.5 184.6H359.6V188.1H346.5ZM610.2 184.6H613.8V188.1H610.2ZM719.6 184.6H723.1V188.1H719.6ZM890.1 184.6H893.6V188.1H890.1ZM993.0 184.6H996.5V188.1H993.0ZM1002.7 184.6H1006.2V188.1H1002.7ZM1070.2 184.6H1086.6V188.1H1070.2ZM105.2 187.8H108.7V191.4H105.2ZM188.8 187.8H195.6V191.4H188.8ZM211.4 187.8H214.9V191.4H211.4ZM266.0 187.8H269.6V191.4H266.0ZM272.5 187.8H276.0V191.4H272.5ZM320.7 187.8H324.2V191.4H320.7ZM333.6 187.8H340.3V191.4H333.6ZM352.9 187.8H359.6V191.4H352.9ZM529.8 187.8H539.8V191.4H529.8ZM607.0 187.8H610.5V191.4H607.0ZM713.2 187.8H716.7V191.4H713.2ZM886.9 187.8H890.4V191.4H886.9ZM893.3 187.8H896.8V191.4H893.3ZM993.0 187.8H996.5V191.4H993.0ZM1002.7 187.8H1006.2V191.4H1002.7ZM1076.7 187.8H1093.1V191.4H1076.7ZM105.2 191.1H108.7V194.6H105.2ZM266.0 191.1H272.8V194.6H266.0ZM320.7 191.1H324.2V194.6H320.7ZM333.6 191.1H340.3V194.6H333.6ZM529.8 191.1H536.6V194.6H529.8ZM594.2 191.1H607.3V194.6H594.2ZM690.7 191.1H694.2V194.6H690.7ZM706.7 191.1H710.3V194.6H706.7ZM886.9 191.1H890.4V194.6H886.9ZM993.0 191.1H996.5V194.6H993.0ZM1002.7 191.1H1006.2V194.6H1002.7ZM1079.9 191.1H1096.3V194.6H1079.9ZM105.2 194.3H108.7V197.8H105.2ZM320.7 194.3H327.5V197.8H320.7ZM333.6 194.3H337.1V197.8H333.6ZM529.8 194.3H533.3V197.8H529.8ZM590.9 194.3H594.5V197.8H590.9ZM883.7 194.3H887.2V197.8H883.7ZM996.2 194.3H1003.0V197.8H996.2ZM1005.9 194.3H1009.4V197.8H1005.9ZM1086.3 194.3H1102.7V197.8H1086.3ZM105.2 197.5H108.7V201.0H105.2ZM323.9 197.5H330.7V201.0H323.9ZM333.6 197.5H340.3V201.0H333.6ZM529.8 197.5H533.3V201.0H529.8ZM571.6 197.5H591.2V201.0H571.6ZM883.7 197.5H887.2V201.0H883.7ZM1009.1 197.5H1012.6V201.0H1009.1ZM1089.5 197.5H1105.9V201.0H1089.5ZM105.2 200.7H108.7V204.2H105.2ZM327.2 200.7H340.3V204.2H327.2ZM397.9 200.7H404.7V204.2H397.9ZM565.2 200.7H571.9V204.2H565.2ZM886.9 200.7H890.4V204.2H886.9ZM1012.3 200.7H1015.8V204.2H1012.3ZM1096.0 200.7H1105.9V204.2H1096.0ZM105.2 203.9H108.7V207.4H105.2ZM330.4 203.9H337.1V207.4H330.4ZM397.9 203.9H404.7V207.4H397.9ZM533.0 203.9H536.6V207.4H533.0ZM558.8 203.9H565.5V207.4H558.8ZM886.9 203.9H890.4V207.4H886.9ZM1015.5 203.9H1025.5V207.4H1015.5ZM105.2 207.1H108.7V210.7H105.2ZM269.3 207.1H279.2V210.7H269.3ZM333.6 207.1H337.1V210.7H333.6ZM533.0 207.1H543.0V210.7H533.0ZM552.3 207.1H559.1V210.7H552.3ZM886.9 207.1H890.4V210.7H886.9ZM1025.2 207.1H1035.1V210.7H1025.2ZM105.2 210.4H108.7V213.9H105.2ZM262.8 210.4H269.6V213.9H262.8ZM278.9 210.4H288.9V213.9H278.9ZM533.0 210.4H552.6V213.9H533.0ZM886.9 210.4H890.4V213.9H886.9ZM1034.8 210.4H1038.4V213.9H1034.8ZM105.2 213.6H108.7V217.1H105.2ZM288.6 213.6H292.1V217.1H288.6ZM333.6 213.6H372.5V217.1H333.6ZM536.3 213.6H543.0V217.1H536.3ZM883.7 213.6H887.2V217.1H883.7ZM1038.1 213.6H1044.8V217.1H1038.1ZM105.2 216.8H108.7V220.3H105.2ZM288.6 216.8H292.1V220.3H288.6ZM323.9 216.8H337.1V220.3H323.9ZM369.0 216.8H372.5V220.3H369.0ZM539.5 216.8H543.0V220.3H539.5ZM1044.5 216.8H1054.4V220.3H1044.5ZM105.2 220.0H108.7V223.5H105.2ZM288.6 220.0H304.9V223.5H288.6ZM320.7 220.0H327.5V223.5H320.7ZM343.2 220.0H372.5V223.5H343.2ZM539.5 220.0H543.0V223.5H539.5ZM1054.1 220.0H1064.1V223.5H1054.1ZM105.2 223.2H108.7V226.7H105.2ZM301.4 223.2H304.9V226.7H301.4ZM320.7 223.2H324.2V226.7H320.7ZM336.8 223.2H346.8V226.7H336.8ZM539.5 223.2H543.0V226.7H539.5ZM883.7 223.2H887.2V226.7H883.7ZM1063.8 223.2H1067.3V226.7H1063.8ZM105.2 226.4H108.7V230.0H105.2ZM301.4 226.4H324.2V230.0H301.4ZM336.8 226.4H340.3V230.0H336.8ZM539.5 226.4H543.0V230.0H539.5ZM909.4 226.4H912.9V230.0H909.4ZM1067.0 226.4H1070.5V230.0H1067.0ZM105.2 229.7H108.7V233.2H105.2ZM333.6 229.7H340.3V233.2H333.6ZM539.5 229.7H543.0V233.2H539.5ZM912.6 229.7H916.1V233.2H912.6ZM1070.2 229.7H1077.0V233.2H1070.2ZM105.2 232.9H108.7V236.4H105.2ZM333.6 232.9H337.1V236.4H333.6ZM539.5 232.9H543.0V236.4H539.5ZM915.8 232.9H919.3V236.4H915.8ZM1076.7 232.9H1080.2V236.4H1076.7ZM105.2 236.1H121.6V239.6H105.2ZM330.4 236.1H337.1V239.6H330.4ZM539.5 236.1H543.0V239.6H539.5ZM915.8 236.1H919.3V239.6H915.8ZM1079.9 236.1H1083.4V239.6H1079.9ZM121.3 239.3H131.2V242.8H121.3ZM323.9 239.3H333.9V242.8H323.9ZM539.5 239.3H543.0V242.8H539.5ZM886.9 239.3H890.4V242.8H886.9ZM919.0 239.3H922.6V242.8H919.0ZM1083.1 239.3H1086.6V242.8H1083.1ZM130.9 242.5H137.7V246.0H130.9ZM320.7 242.5H327.5V246.0H320.7ZM539.5 242.5H543.0V246.0H539.5ZM890.1 242.5H893.6V246.0H890.1ZM922.3 242.5H925.8V246.0H922.3ZM1086.3 242.5H1089.8V246.0H1086.3ZM137.4 245.7H140.9V249.3H137.4ZM317.5 245.7H324.2V249.3H317.5ZM539.5 245.7H543.0V249.3H539.5ZM922.3 245.7H925.8V249.3H922.3ZM1089.5 245.7H1093.1V249.3H1089.5ZM140.6 249.0H144.1V252.5H140.6ZM317.5 249.0H321.0V252.5H317.5ZM539.5 249.0H543.0V252.5H539.5ZM925.5 249.0H929.0V252.5H925.5ZM1092.8 249.0H1096.3V252.5H1092.8ZM143.8 252.2H147.3V255.7H143.8ZM295.0 252.2H311.4V255.7H295.0ZM314.3 252.2H321.0V255.7H314.3ZM542.7 252.2H546.2V255.7H542.7ZM928.7 252.2H932.2V255.7H928.7ZM1096.0 252.2H1099.5V255.7H1096.0ZM143.8 255.4H147.3V258.9H143.8ZM275.7 255.4H285.6V258.9H275.7ZM295.0 255.4H298.5V258.9H295.0ZM307.9 255.4H317.8V258.9H307.9ZM542.7 255.4H546.2V258.9H542.7ZM928.7 255.4H932.2V258.9H928.7ZM944.8 255.4H964.4V258.9H944.8ZM1096.0 255.4H1099.5V258.9H1096.0ZM143.8 258.6H147.3V262.1H143.8ZM272.5 258.6H276.0V262.1H272.5ZM285.3 258.6H298.5V262.1H285.3ZM307.9 258.6H314.6V262.1H307.9ZM542.7 258.6H546.2V262.1H542.7ZM931.9 258.6H945.1V262.1H931.9ZM964.1 258.6H980.5V262.1H964.1ZM1099.2 258.6H1102.7V262.1H1099.2ZM143.8 261.8H147.3V265.3H143.8ZM272.5 261.8H276.0V265.3H272.5ZM291.8 261.8H298.5V265.3H291.8ZM307.9 261.8H314.6V265.3H307.9ZM545.9 261.8H549.4V265.3H545.9ZM893.3 261.8H896.8V265.3H893.3ZM980.2 261.8H983.7V265.3H980.2ZM1099.2 261.8H1102.7V265.3H1099.2ZM143.8 265.0H147.3V268.6H143.8ZM269.3 265.0H272.8V268.6H269.3ZM433.3 265.0H440.1V268.6H433.3ZM545.9 265.0H549.4V268.6H545.9ZM983.4 265.0H990.1V268.6H983.4ZM1102.4 265.0H1105.9V268.6H1102.4ZM143.8 268.3H147.3V271.8H143.8ZM182.4 268.3H198.8V271.8H182.4ZM269.3 268.3H272.8V271.8H269.3ZM307.9 268.3H314.6V271.8H307.9ZM433.3 268.3H440.1V271.8H433.3ZM545.9 268.3H549.4V271.8H545.9ZM989.8 268.3H993.3V271.8H989.8ZM1105.6 268.3H1109.1V271.8H1105.6ZM143.8 271.5H147.3V275.0H143.8ZM179.2 271.5H182.7V275.0H179.2ZM198.5 271.5H202.0V275.0H198.5ZM211.4 271.5H214.9V275.0H211.4ZM266.0 271.5H269.6V275.0H266.0ZM295.0 271.5H311.4V275.0H295.0ZM430.1 271.5H440.1V275.0H430.1ZM545.9 271.5H549.4V275.0H545.9ZM989.8 271.5H993.3V275.0H989.8ZM1105.6 271.5H1109.1V275.0H1105.6ZM143.8 274.7H147.3V278.2H143.8ZM179.2 274.7H182.7V278.2H179.2ZM198.5 274.7H214.9V278.2H198.5ZM259.6 274.7H266.3V278.2H259.6ZM288.6 274.7H304.9V278.2H288.6ZM430.1 274.7H436.8V278.2H430.1ZM545.9 274.7H549.4V278.2H545.9ZM896.5 274.7H900.0V278.2H896.5ZM989.8 274.7H993.3V278.2H989.8ZM1108.8 274.7H1112.4V278.2H1108.8ZM140.6 277.9H147.3V281.4H140.6ZM179.2 277.9H182.7V281.4H179.2ZM211.4 277.9H214.9V281.4H211.4ZM224.2 277.9H227.7V281.4H224.2ZM250.0 277.9H259.9V281.4H250.0ZM282.1 277.9H292.1V281.4H282.1ZM295.0 277.9H301.7V281.4H295.0ZM426.9 277.9H436.8V281.4H426.9ZM545.9 277.9H549.4V281.4H545.9ZM989.8 277.9H993.3V281.4H989.8ZM1112.1 277.9H1115.6V281.4H1112.1ZM140.6 281.1H144.1V284.6H140.6ZM179.2 281.1H214.9V284.6H179.2ZM224.2 281.1H227.7V284.6H224.2ZM246.7 281.1H250.3V284.6H246.7ZM282.1 281.1H285.6V284.6H282.1ZM291.8 281.1H298.5V284.6H291.8ZM423.7 281.1H433.6V284.6H423.7ZM545.9 281.1H549.4V284.6H545.9ZM989.8 281.1H993.3V284.6H989.8ZM140.6 284.3H147.3V287.9H140.6ZM211.4 284.3H214.9V287.9H211.4ZM224.2 284.3H227.7V287.9H224.2ZM243.5 284.3H247.0V287.9H243.5ZM282.1 284.3H285.6V287.9H282.1ZM288.6 284.3H295.3V287.9H288.6ZM417.2 284.3H433.6V287.9H417.2ZM549.1 284.3H552.6V287.9H549.1ZM989.8 284.3H993.3V287.9H989.8ZM143.8 287.6H147.3V291.1H143.8ZM211.4 287.6H214.9V291.1H211.4ZM224.2 287.6H227.7V291.1H224.2ZM243.5 287.6H247.0V291.1H243.5ZM282.1 287.6H292.1V291.1H282.1ZM417.2 287.6H420.7V291.1H417.2ZM549.1 287.6H552.6V291.1H549.1ZM896.5 287.6H900.0V291.1H896.5ZM993.0 287.6H996.5V291.1H993.0ZM1057.4 287.6H1070.5V291.1H1057.4ZM143.8 290.8H150.5V294.3H143.8ZM195.3 290.8H211.7V294.3H195.3ZM214.6 290.8H224.5V294.3H214.6ZM240.3 290.8H243.8V294.3H240.3ZM417.2 290.8H420.7V294.3H417.2ZM549.1 290.8H552.6V294.3H549.1ZM996.2 290.8H999.8V294.3H996.2ZM1054.1 290.8H1057.7V294.3H1054.1ZM1070.2 290.8H1077.0V294.3H1070.2ZM1118.5 290.8H1122.0V294.3H1118.5ZM147.0 294.0H150.5V297.5H147.0ZM195.3 294.0H198.8V297.5H195.3ZM211.4 294.0H214.9V297.5H211.4ZM237.1 294.0H240.6V297.5H237.1ZM549.1 294.0H552.6V297.5H549.1ZM996.2 294.0H999.8V297.5H996.2ZM1054.1 294.0H1057.7V297.5H1054.1ZM1076.7 294.0H1080.2V297.5H1076.7ZM1121.7 294.0H1125.2V297.5H1121.7ZM143.8 297.2H150.5V300.7H143.8ZM156.7 297.2H189.1V300.7H156.7ZM195.3 297.2H198.8V300.7H195.3ZM211.4 297.2H214.9V300.7H211.4ZM233.9 297.2H237.4V300.7H233.9ZM552.3 297.2H555.9V300.7H552.3ZM999.5 297.2H1006.2V300.7H999.5ZM1054.1 297.2H1057.7V300.7H1054.1ZM1079.9 297.2H1083.4V300.7H1079.9ZM1121.7 297.2H1125.2V300.7H1121.7ZM143.8 300.4H147.3V303.9H143.8ZM156.7 300.4H160.2V303.9H156.7ZM169.5 300.4H176.3V303.9H169.5ZM185.6 300.4H198.8V303.9H185.6ZM211.4 300.4H214.9V303.9H211.4ZM230.7 300.4H234.2V303.9H230.7ZM552.3 300.4H555.9V303.9H552.3ZM1002.7 300.4H1012.6V303.9H1002.7ZM1054.1 300.4H1057.7V303.9H1054.1ZM1083.1 300.4H1086.6V303.9H1083.1ZM1124.9 300.4H1128.4V303.9H1124.9ZM137.4 303.6H144.1V307.2H137.4ZM156.7 303.6H160.2V307.2H156.7ZM172.8 303.6H176.3V307.2H172.8ZM195.3 303.6H214.9V307.2H195.3ZM224.2 303.6H231.0V307.2H224.2ZM552.3 303.6H555.9V307.2H552.3ZM1009.1 303.6H1019.1V307.2H1009.1ZM1054.1 303.6H1057.7V307.2H1054.1ZM1086.3 303.6H1089.8V307.2H1086.3ZM1128.1 303.6H1131.7V307.2H1128.1ZM127.7 306.9H137.7V310.4H127.7ZM156.7 306.9H160.2V310.4H156.7ZM201.7 306.9H227.7V310.4H201.7ZM552.3 306.9H555.9V310.4H552.3ZM896.5 306.9H900.0V310.4H896.5ZM1015.5 306.9H1025.5V310.4H1015.5ZM1047.7 306.9H1054.4V310.4H1047.7ZM1089.5 306.9H1093.1V310.4H1089.5ZM1128.1 306.9H1131.7V310.4H1128.1ZM121.3 310.1H128.0V313.6H121.3ZM156.7 310.1H160.2V313.6H156.7ZM204.9 310.1H211.7V313.6H204.9ZM555.6 310.1H559.1V313.6H555.6ZM1022.0 310.1H1051.2V313.6H1022.0ZM1089.5 310.1H1093.1V313.6H1089.5ZM1131.4 310.1H1134.9V313.6H1131.4ZM118.1 313.3H121.6V316.8H118.1ZM159.9 313.3H163.4V316.8H159.9ZM204.9 313.3H211.7V316.8H204.9ZM555.6 313.3H559.1V316.8H555.6ZM1089.5 313.3H1093.1V316.8H1089.5ZM1131.4 313.3H1134.9V316.8H1131.4ZM105.2 316.5H118.4V320.0H105.2ZM163.1 316.5H166.6V320.0H163.1ZM204.9 316.5H211.7V320.0H204.9ZM558.8 316.5H562.3V320.0H558.8ZM1089.5 316.5H1093.1V320.0H1089.5ZM1128.1 316.5H1131.7V320.0H1128.1ZM1256.8 316.5H1263.5V320.0H1256.8ZM105.2 319.7H108.7V323.2H105.2ZM163.1 319.7H166.6V323.2H163.1ZM558.8 319.7H562.3V323.2H558.8ZM1089.5 319.7H1093.1V323.2H1089.5ZM1128.1 319.7H1131.7V323.2H1128.1ZM1256.8 319.7H1263.5V323.2H1256.8ZM105.2 322.9H108.7V326.5H105.2ZM163.1 322.9H166.6V326.5H163.1ZM562.0 322.9H565.5V326.5H562.0ZM1086.3 322.9H1093.1V326.5H1086.3ZM1128.1 322.9H1131.7V326.5H1128.1ZM1256.8 322.9H1263.5V326.5H1256.8ZM105.2 326.2H108.7V329.7H105.2ZM163.1 326.2H166.6V329.7H163.1ZM562.0 326.2H565.5V329.7H562.0ZM1086.3 326.2H1089.8V329.7H1086.3ZM1128.1 326.2H1131.7V329.7H1128.1ZM1256.8 326.2H1263.5V329.7H1256.8ZM105.2 329.4H108.7V332.9H105.2ZM163.1 329.4H166.6V332.9H163.1ZM565.2 329.4H568.7V332.9H565.2ZM1083.1 329.4H1089.8V332.9H1083.1ZM1128.1 329.4H1131.7V332.9H1128.1ZM1256.8 329.4H1263.5V332.9H1256.8ZM105.2 332.6H108.7V336.1H105.2ZM166.3 332.6H169.8V336.1H166.3ZM565.2 332.6H568.7V336.1H565.2ZM899.7 332.6H903.3V336.1H899.7ZM1079.9 332.6H1086.6V336.1H1079.9ZM1128.1 332.6H1131.7V336.1H1128.1ZM166.3 335.8H169.8V339.3H166.3ZM568.4 335.8H571.9V339.3H568.4ZM903.0 335.8H909.7V339.3H903.0ZM1079.9 335.8H1083.4V339.3H1079.9ZM1128.1 335.8H1131.7V339.3H1128.1ZM166.3 339.0H169.8V342.5H166.3ZM568.4 339.0H571.9V342.5H568.4ZM899.7 339.0H903.3V342.5H899.7ZM1076.7 339.0H1083.4V342.5H1076.7ZM1128.1 339.0H1131.7V342.5H1128.1ZM568.4 342.2H571.9V345.8H568.4ZM899.7 342.2H903.3V345.8H899.7ZM1073.5 342.2H1080.2V345.8H1073.5ZM1124.9 342.2H1131.7V345.8H1124.9ZM571.6 345.5H575.2V349.0H571.6ZM899.7 345.5H903.3V349.0H899.7ZM1073.5 345.5H1077.0V349.0H1073.5ZM1121.7 345.5H1128.4V349.0H1121.7ZM571.6 348.7H575.2V352.2H571.6ZM896.5 348.7H900.0V352.2H896.5ZM1070.2 348.7H1077.0V352.2H1070.2ZM1118.5 348.7H1125.2V352.2H1118.5ZM571.6 351.9H575.2V355.4H571.6ZM893.3 351.9H896.8V355.4H893.3ZM1070.2 351.9H1073.8V355.4H1070.2ZM1112.1 351.9H1122.0V355.4H1112.1ZM105.2 355.1H108.7V358.6H105.2ZM574.9 355.1H578.4V358.6H574.9ZM890.1 355.1H893.6V358.6H890.1ZM1067.0 355.1H1073.8V358.6H1067.0ZM1105.6 355.1H1115.6V358.6H1105.6ZM105.2 358.3H108.7V361.8H105.2ZM153.5 358.3H157.0V361.8H153.5ZM574.9 358.3H578.4V361.8H574.9ZM886.9 358.3H890.4V361.8H886.9ZM1067.0 358.3H1070.5V361.8H1067.0ZM1099.2 358.3H1109.1V361.8H1099.2ZM105.2 361.5H108.7V365.1H105.2ZM143.8 361.5H153.8V365.1H143.8ZM578.1 361.5H581.6V365.1H578.1ZM890.1 361.5H893.6V365.1H890.1ZM1063.8 361.5H1070.5V365.1H1063.8ZM1089.5 361.5H1102.7V365.1H1089.5ZM105.2 364.8H108.7V368.3H105.2ZM130.9 364.8H144.1V368.3H130.9ZM578.1 364.8H581.6V368.3H578.1ZM890.1 364.8H893.6V368.3H890.1ZM1063.8 364.8H1073.8V368.3H1063.8ZM1079.9 364.8H1093.1V368.3H1079.9ZM108.4 368.0H131.2V371.5H108.4ZM578.1 368.0H581.6V371.5H578.1ZM890.1 368.0H893.6V371.5H890.1ZM1070.2 368.0H1083.4V371.5H1070.2ZM578.1 371.2H581.6V374.7H578.1ZM890.1 371.2H893.6V374.7H890.1ZM578.1 374.4H581.6V377.9H578.1ZM890.1 374.4H893.6V377.9H890.1ZM578.1 377.6H581.6V381.1H578.1ZM890.1 377.6H893.6V381.1H890.1ZM581.3 380.8H584.8V384.4H581.3ZM886.9 380.8H890.4V384.4H886.9ZM584.5 384.1H588.0V387.6H584.5ZM883.7 384.1H887.2V387.6H883.7ZM587.7 387.3H591.2V390.8H587.7ZM877.2 387.3H884.0V390.8H877.2ZM590.9 390.5H594.5V394.0H590.9ZM874.0 390.5H877.5V394.0H874.0ZM590.9 393.7H594.5V397.2H590.9ZM870.8 393.7H874.3V397.2H870.8ZM590.9 396.9H594.5V400.4H590.9ZM870.8 396.9H874.3V400.4H870.8ZM590.9 400.1H594.5V403.7H590.9ZM864.4 400.1H871.1V403.7H864.4ZM590.9 403.4H594.5V406.9H590.9ZM861.1 403.4H864.7V406.9H861.1ZM594.2 406.6H597.7V410.1H594.2ZM857.9 406.6H861.4V410.1H857.9ZM597.4 409.8H600.9V413.3H597.4ZM851.5 409.8H858.2V413.3H851.5ZM597.4 413.0H600.9V416.5H597.4ZM848.3 413.0H851.8V416.5H848.3ZM600.6 416.2H604.1V419.7H600.6ZM845.1 416.2H848.6V419.7H845.1ZM603.8 419.4H607.3V423.0H603.8ZM841.8 419.4H845.4V423.0H841.8ZM607.0 422.7H610.5V426.2H607.0ZM835.4 422.7H842.1V426.2H835.4ZM607.0 425.9H610.5V429.4H607.0ZM832.2 425.9H835.7V429.4H832.2ZM610.2 429.1H617.0V432.6H610.2ZM825.8 429.1H832.5V432.6H825.8ZM616.7 432.3H620.2V435.8H616.7ZM816.1 432.3H826.1V435.8H816.1ZM619.9 435.5H623.4V439.0H619.9ZM809.7 435.5H816.4V439.0H809.7ZM619.9 438.7H623.4V442.3H619.9ZM806.5 438.7H810.0V442.3H806.5ZM619.9 442.0H636.3V445.5H619.9ZM800.0 442.0H806.8V445.5H800.0ZM636.0 445.2H639.5V448.7H636.0ZM793.6 445.2H800.3V448.7H793.6ZM639.2 448.4H642.7V451.9H639.2ZM783.9 448.4H793.9V451.9H783.9ZM636.0 451.6H639.5V455.1H636.0ZM777.5 451.6H784.2V455.1H777.5ZM626.3 454.8H639.5V458.4H626.3ZM771.1 454.8H777.8V458.4H771.1ZM639.2 458.1H645.9V461.6H639.2ZM758.2 458.1H771.4V461.6H758.2ZM642.4 461.3H645.9V464.8H642.4ZM661.7 461.3H668.4V464.8H661.7ZM748.6 461.3H761.7V464.8H748.6ZM639.2 464.5H662.0V468.0H639.2ZM668.1 464.5H671.7V468.0H668.1ZM735.7 464.5H752.1V468.0H735.7ZM671.4 467.7H713.5V471.2H671.4ZM722.8 467.7H739.2V471.2H722.8ZM713.2 470.9H723.1V474.4H713.2ZM426.9 516.0H433.6V519.5H426.9ZM426.9 519.2H430.4V522.7H426.9ZM465.5 564.2H485.1V567.7H465.5ZM362.5 567.4H388.6V570.9H362.5ZM459.1 567.4H469.0V570.9H459.1ZM481.6 567.4H485.1V570.9H481.6ZM352.9 570.6H366.1V574.2H352.9ZM385.1 570.6H395.0V574.2H385.1ZM452.6 570.6H462.6V574.2H452.6ZM481.6 570.6H485.1V574.2H481.6ZM346.5 573.9H356.4V577.4H346.5ZM391.5 573.9H398.2V577.4H391.5ZM446.2 573.9H456.1V577.4H446.2ZM481.6 573.9H488.3V577.4H481.6ZM346.5 577.1H353.2V580.6H346.5ZM394.7 577.1H411.1V580.6H394.7ZM420.4 577.1H427.2V580.6H420.4ZM433.3 577.1H449.7V580.6H433.3ZM484.8 577.1H491.5V580.6H484.8ZM349.7 580.3H356.4V583.8H349.7ZM407.6 580.3H436.8V583.8H407.6ZM488.0 580.3H494.7V583.8H488.0ZM352.9 583.5H359.6V587.0H352.9ZM491.2 583.5H498.0V587.0H491.2ZM356.1 586.7H362.8V590.2H356.1ZM494.4 586.7H504.4V590.2H494.4ZM359.3 589.9H362.8V593.5H359.3ZM500.9 589.9H510.8V593.5H500.9ZM359.3 593.2H366.1V596.7H359.3ZM507.3 593.2H514.0V596.7H507.3ZM362.5 596.4H369.3V599.9H362.5ZM497.7 596.4H510.8V599.9H497.7ZM365.8 599.6H372.5V603.1H365.8ZM484.8 599.6H501.2V603.1H484.8ZM369.0 602.8H372.5V606.3H369.0ZM481.6 602.8H498.0V606.3H481.6ZM369.0 606.0H375.7V609.5H369.0ZM481.6 606.0H485.1V609.5H481.6ZM494.4 606.0H498.0V609.5H494.4ZM372.2 609.2H375.7V612.8H372.2ZM481.6 609.2H485.1V612.8H481.6ZM372.2 612.5H375.7V616.0H372.2ZM484.8 612.5H488.3V616.0H484.8ZM372.2 615.7H375.7V619.2H372.2ZM484.8 615.7H488.3V619.2H484.8ZM372.2 618.9H378.9V622.4H372.2ZM179.2 622.1H205.2V625.6H179.2ZM269.3 622.1H272.8V625.6H269.3ZM375.4 622.1H388.6V625.6H375.4ZM176.0 625.3H208.4V628.8H176.0ZM375.4 625.3H398.2V628.8H375.4ZM397.9 628.5H407.9V632.1H397.9ZM407.6 631.8H414.3V635.3H407.6ZM870.8 689.7H874.3V693.2H870.8ZM896.5 779.7H900.0V783.2H896.5ZM832.2 782.9H851.8V786.5H832.2ZM835.4 786.2H838.9V789.7H835.4ZM848.3 786.2H867.9V789.7H848.3ZM835.4 789.4H842.1V792.9H835.4ZM864.4 789.4H867.9V792.9H864.4ZM838.6 792.6H851.8V796.1H838.6ZM864.4 792.6H867.9V796.1H864.4ZM848.3 795.8H871.1V799.3H848.3ZM880.4 795.8H896.8V799.3H880.4ZM880.4 799.0H890.4V802.5H880.4ZM893.3 799.0H903.3V802.5H893.3ZM886.9 802.2H893.6V805.8H886.9ZM899.7 802.2H903.3V805.8H899.7ZM890.1 805.5H906.5V809.0H890.1ZM896.5 808.7H909.7V812.2H896.5ZM899.7 811.9H909.7V815.4H899.7ZM903.0 815.1H912.9V818.6H903.0ZM906.2 818.3H916.1V821.8H906.2ZM909.4 821.5H916.1V825.1H909.4Z"/>
<path fill="#3aa3fc" d="M555.6 120.3H581.6V123.8H555.6ZM899.7 120.3H935.4V123.8H899.7ZM545.9 123.5H549.4V127.0H545.9ZM558.8 123.5H562.3V127.0H558.8ZM581.3 123.5H594.5V127.0H581.3ZM607.0 123.5H623.4V127.0H607.0ZM874.0 123.5H884.0V127.0H874.0ZM590.9 126.7H594.5V130.2H590.9ZM623.1 126.7H626.6V130.2H623.1ZM706.7 126.7H745.6V130.2H706.7ZM751.8 126.7H758.5V130.2H751.8ZM771.1 126.7H777.8V130.2H771.1ZM796.8 126.7H810.0V130.2H796.8ZM874.0 126.7H877.5V130.2H874.0ZM552.3 129.9H559.1V133.5H552.3ZM594.2 129.9H597.7V133.5H594.2ZM626.3 129.9H629.8V133.5H626.3ZM710.0 129.9H713.5V133.5H710.0ZM745.3 129.9H752.1V133.5H745.3ZM774.3 129.9H777.8V133.5H774.3ZM809.7 129.9H813.2V133.5H809.7ZM134.2 133.2H144.1V136.7H134.2ZM629.5 133.2H633.1V136.7H629.5ZM710.0 133.2H716.7V136.7H710.0ZM738.9 133.2H745.6V136.7H738.9ZM809.7 133.2H816.4V136.7H809.7ZM877.2 133.2H880.7V136.7H877.2ZM130.9 136.4H137.7V139.9H130.9ZM140.6 136.4H144.1V139.9H140.6ZM246.7 136.4H250.3V139.9H246.7ZM713.2 136.4H716.7V139.9H713.2ZM732.5 136.4H739.2V139.9H732.5ZM877.2 136.4H880.7V139.9H877.2ZM973.7 136.4H977.2V139.9H973.7ZM124.5 139.6H134.5V143.1H124.5ZM140.6 139.6H157.0V143.1H140.6ZM626.3 139.6H629.8V143.1H626.3ZM726.0 139.6H732.8V143.1H726.0ZM774.3 139.6H777.8V143.1H774.3ZM812.9 139.6H816.4V143.1H812.9ZM877.2 139.6H880.7V143.1H877.2ZM121.3 142.8H128.0V146.3H121.3ZM153.5 142.8H157.0V146.3H153.5ZM558.8 142.8H562.3V146.3H558.8ZM623.1 142.8H626.6V146.3H623.1ZM716.4 142.8H726.3V146.3H716.4ZM774.3 142.8H777.8V146.3H774.3ZM812.9 142.8H816.4V146.3H812.9ZM848.3 142.8H851.8V146.3H848.3ZM976.9 142.8H980.5V146.3H976.9ZM121.3 146.0H124.8V149.5H121.3ZM153.5 146.0H157.0V149.5H153.5ZM565.2 146.0H568.7V149.5H565.2ZM716.4 146.0H719.9V149.5H716.4ZM774.3 146.0H777.8V149.5H774.3ZM816.1 146.0H819.6V149.5H816.1ZM848.3 146.0H851.8V149.5H848.3ZM980.2 146.0H983.7V149.5H980.2ZM118.1 149.2H124.8V152.8H118.1ZM153.5 149.2H157.0V152.8H153.5ZM282.1 149.2H288.9V152.8H282.1ZM568.4 149.2H571.9V152.8H568.4ZM774.3 149.2H777.8V152.8H774.3ZM819.3 149.2H822.8V152.8H819.3ZM976.9 149.2H980.5V152.8H976.9ZM118.1 152.5H121.6V156.0H118.1ZM153.5 152.5H157.0V156.0H153.5ZM285.3 152.5H288.9V156.0H285.3ZM578.1 152.5H581.6V156.0H578.1ZM774.3 152.5H777.8V156.0H774.3ZM819.3 152.5H822.8V156.0H819.3ZM845.1 152.5H848.6V156.0H845.1ZM973.7 152.5H977.2V156.0H973.7ZM108.4 155.7H118.4V159.2H108.4ZM153.5 155.7H157.0V159.2H153.5ZM211.4 155.7H214.9V159.2H211.4ZM282.1 155.7H285.6V159.2H282.1ZM562.0 155.7H565.5V159.2H562.0ZM568.4 155.7H571.9V159.2H568.4ZM581.3 155.7H584.8V159.2H581.3ZM623.1 155.7H626.6V159.2H623.1ZM774.3 155.7H777.8V159.2H774.3ZM822.5 155.7H848.6V159.2H822.5ZM111.6 158.9H115.2V162.4H111.6ZM156.7 158.9H160.2V162.4H156.7ZM275.7 158.9H282.4V162.4H275.7ZM610.2 158.9H617.0V162.4H610.2ZM636.0 158.9H668.4V162.4H636.0ZM774.3 158.9H777.8V162.4H774.3ZM851.5 158.9H855.0V162.4H851.5ZM111.6 162.1H115.2V165.6H111.6ZM159.9 162.1H169.8V165.6H159.9ZM262.8 162.1H269.6V165.6H262.8ZM581.3 162.1H584.8V165.6H581.3ZM616.7 162.1H620.2V165.6H616.7ZM664.9 162.1H668.4V165.6H664.9ZM774.3 162.1H777.8V165.6H774.3ZM854.7 162.1H858.2V165.6H854.7ZM864.4 162.1H874.3V165.6H864.4ZM973.7 162.1H977.2V165.6H973.7ZM111.6 165.3H115.2V168.8H111.6ZM169.5 165.3H173.1V168.8H169.5ZM590.9 165.3H594.5V168.8H590.9ZM600.6 165.3H604.1V168.8H600.6ZM664.9 165.3H668.4V168.8H664.9ZM767.9 165.3H774.6V168.8H767.9ZM111.6 168.5H115.2V172.1H111.6ZM172.8 168.5H176.3V172.1H172.8ZM597.4 168.5H600.9V172.1H597.4ZM619.9 168.5H623.4V172.1H619.9ZM664.9 168.5H668.4V172.1H664.9ZM758.2 168.5H768.2V172.1H758.2ZM108.4 171.8H111.9V175.3H108.4ZM182.4 171.8H185.9V175.3H182.4ZM623.1 171.8H626.6V175.3H623.1ZM664.9 171.8H668.4V175.3H664.9ZM751.8 171.8H758.5V175.3H751.8ZM976.9 171.8H980.5V175.3H976.9ZM108.4 175.0H111.9V178.5H108.4ZM311.1 175.0H324.2V178.5H311.1ZM623.1 175.0H626.6V178.5H623.1ZM664.9 175.0H668.4V178.5H664.9ZM745.3 175.0H752.1V178.5H745.3ZM980.2 175.0H983.7V178.5H980.2ZM108.4 178.2H111.9V181.7H108.4ZM320.7 178.2H324.2V181.7H320.7ZM623.1 178.2H626.6V181.7H623.1ZM664.9 178.2H668.4V181.7H664.9ZM738.9 178.2H745.6V181.7H738.9ZM108.4 181.4H111.9V184.9H108.4ZM320.7 181.4H330.7V184.9H320.7ZM619.9 181.4H623.4V184.9H619.9ZM668.1 181.4H678.1V184.9H668.1ZM732.5 181.4H739.2V184.9H732.5ZM986.6 181.4H990.1V184.9H986.6ZM108.4 184.6H111.9V188.1H108.4ZM204.9 184.6H208.4V188.1H204.9ZM323.9 184.6H333.9V188.1H323.9ZM613.5 184.6H620.2V188.1H613.5ZM677.8 184.6H691.0V188.1H677.8ZM722.8 184.6H732.8V188.1H722.8ZM886.9 184.6H890.4V188.1H886.9ZM989.8 184.6H993.3V188.1H989.8ZM108.4 187.8H111.9V191.4H108.4ZM185.6 187.8H189.1V191.4H185.6ZM195.3 187.8H198.8V191.4H195.3ZM208.1 187.8H211.7V191.4H208.1ZM269.3 187.8H272.8V191.4H269.3ZM323.9 187.8H327.5V191.4H323.9ZM330.4 187.8H333.9V191.4H330.4ZM610.2 187.8H617.0V191.4H610.2ZM687.4 187.8H691.0V191.4H687.4ZM716.4 187.8H723.1V191.4H716.4ZM108.4 191.1H111.9V194.6H108.4ZM214.6 191.1H218.1V194.6H214.6ZM323.9 191.1H333.9V194.6H323.9ZM607.0 191.1H613.8V194.6H607.0ZM687.4 191.1H691.0V194.6H687.4ZM710.0 191.1H716.7V194.6H710.0ZM883.7 191.1H887.2V194.6H883.7ZM896.5 191.1H900.0V194.6H896.5ZM108.4 194.3H111.9V197.8H108.4ZM217.8 194.3H224.5V197.8H217.8ZM327.2 194.3H333.9V197.8H327.2ZM594.2 194.3H607.3V197.8H594.2ZM690.7 194.3H710.3V197.8H690.7ZM899.7 194.3H903.3V197.8H899.7ZM993.0 194.3H996.5V197.8H993.0ZM1002.7 194.3H1006.2V197.8H1002.7ZM108.4 197.5H111.9V201.0H108.4ZM224.2 197.5H227.7V201.0H224.2ZM330.4 197.5H333.9V201.0H330.4ZM590.9 197.5H597.7V201.0H590.9ZM899.7 197.5H903.3V201.0H899.7ZM1005.9 197.5H1009.4V201.0H1005.9ZM108.4 200.7H111.9V204.2H108.4ZM227.4 200.7H234.2V204.2H227.4ZM571.6 200.7H591.2V204.2H571.6ZM883.7 200.7H887.2V204.2H883.7ZM903.0 200.7H906.5V204.2H903.0ZM1009.1 200.7H1012.6V204.2H1009.1ZM108.4 203.9H111.9V207.4H108.4ZM233.9 203.9H237.4V207.4H233.9ZM565.2 203.9H575.2V207.4H565.2ZM903.0 203.9H906.5V207.4H903.0ZM1012.3 203.9H1015.8V207.4H1012.3ZM108.4 207.1H111.9V210.7H108.4ZM237.1 207.1H243.8V210.7H237.1ZM558.8 207.1H568.7V210.7H558.8ZM903.0 207.1H906.5V210.7H903.0ZM1015.5 207.1H1025.5V210.7H1015.5ZM108.4 210.4H111.9V213.9H108.4ZM243.5 210.4H250.3V213.9H243.5ZM269.3 210.4H272.8V213.9H269.3ZM275.7 210.4H279.2V213.9H275.7ZM552.3 210.4H562.3V213.9H552.3ZM903.0 210.4H906.5V213.9H903.0ZM1025.2 210.4H1035.1V213.9H1025.2ZM108.4 213.6H111.9V217.1H108.4ZM250.0 213.6H266.3V217.1H250.0ZM282.1 213.6H288.9V217.1H282.1ZM542.7 213.6H555.9V217.1H542.7ZM880.4 213.6H884.0V217.1H880.4ZM1034.8 213.6H1038.4V217.1H1034.8ZM108.4 216.8H111.9V220.3H108.4ZM285.3 216.8H288.9V220.3H285.3ZM336.8 216.8H369.3V220.3H336.8ZM542.7 216.8H546.2V220.3H542.7ZM880.4 216.8H884.0V220.3H880.4ZM906.2 216.8H909.7V220.3H906.2ZM1038.1 216.8H1044.8V220.3H1038.1ZM108.4 220.0H111.9V223.5H108.4ZM256.4 220.0H266.3V223.5H256.4ZM327.2 220.0H343.5V223.5H327.2ZM542.7 220.0H546.2V223.5H542.7ZM880.4 220.0H884.0V223.5H880.4ZM906.2 220.0H909.7V223.5H906.2ZM1044.5 220.0H1054.4V223.5H1044.5ZM108.4 223.2H111.9V226.7H108.4ZM253.2 223.2H256.7V226.7H253.2ZM262.8 223.2H266.3V226.7H262.8ZM291.8 223.2H301.7V226.7H291.8ZM323.9 223.2H330.7V226.7H323.9ZM333.6 223.2H337.1V226.7H333.6ZM542.7 223.2H546.2V226.7H542.7ZM880.4 223.2H884.0V226.7H880.4ZM909.4 223.2H912.9V226.7H909.4ZM1054.1 223.2H1064.1V226.7H1054.1ZM108.4 226.4H111.9V230.0H108.4ZM253.2 226.4H256.7V230.0H253.2ZM262.8 226.4H266.3V230.0H262.8ZM298.2 226.4H301.7V230.0H298.2ZM323.9 226.4H327.5V230.0H323.9ZM330.4 226.4H337.1V230.0H330.4ZM542.7 226.4H546.2V230.0H542.7ZM883.7 226.4H887.2V230.0H883.7ZM912.6 226.4H916.1V230.0H912.6ZM1063.8 226.4H1067.3V230.0H1063.8ZM108.4 229.7H111.9V233.2H108.4ZM256.4 229.7H263.1V233.2H256.4ZM301.4 229.7H327.5V233.2H301.4ZM330.4 229.7H333.9V233.2H330.4ZM542.7 229.7H546.2V233.2H542.7ZM883.7 229.7H887.2V233.2H883.7ZM915.8 229.7H919.3V233.2H915.8ZM1067.0 229.7H1070.5V233.2H1067.0ZM108.4 232.9H121.6V236.4H108.4ZM327.2 232.9H333.9V236.4H327.2ZM542.7 232.9H546.2V236.4H542.7ZM883.7 232.9H887.2V236.4H883.7ZM1070.2 232.9H1077.0V236.4H1070.2ZM121.3 236.1H124.8V239.6H121.3ZM320.7 236.1H330.7V239.6H320.7ZM542.7 236.1H546.2V239.6H542.7ZM883.7 236.1H887.2V239.6H883.7ZM919.0 236.1H922.6V239.6H919.0ZM1076.7 236.1H1080.2V239.6H1076.7ZM130.9 239.3H134.5V242.8H130.9ZM317.5 239.3H324.2V242.8H317.5ZM542.7 239.3H546.2V242.8H542.7ZM883.7 239.3H887.2V242.8H883.7ZM922.3 239.3H925.8V242.8H922.3ZM1079.9 239.3H1083.4V242.8H1079.9ZM137.4 242.5H140.9V246.0H137.4ZM317.5 242.5H321.0V246.0H317.5ZM542.7 242.5H546.2V246.0H542.7ZM886.9 242.5H890.4V246.0H886.9ZM1083.1 242.5H1086.6V246.0H1083.1ZM140.6 245.7H144.1V249.3H140.6ZM314.3 245.7H317.8V249.3H314.3ZM542.7 245.7H546.2V249.3H542.7ZM890.1 245.7H893.6V249.3H890.1ZM925.5 245.7H929.0V249.3H925.5ZM1086.3 245.7H1089.8V249.3H1086.3ZM143.8 249.0H147.3V252.5H143.8ZM295.0 249.0H311.4V252.5H295.0ZM314.3 249.0H317.8V252.5H314.3ZM542.7 249.0H549.4V252.5H542.7ZM890.1 249.0H893.6V252.5H890.1ZM928.7 249.0H932.2V252.5H928.7ZM1089.5 249.0H1093.1V252.5H1089.5ZM282.1 252.2H285.6V255.7H282.1ZM291.8 252.2H295.3V255.7H291.8ZM311.1 252.2H314.6V255.7H311.1ZM545.9 252.2H549.4V255.7H545.9ZM890.1 252.2H893.6V255.7H890.1ZM1092.8 252.2H1096.3V255.7H1092.8ZM272.5 255.4H276.0V258.9H272.5ZM285.3 255.4H295.3V258.9H285.3ZM545.9 255.4H549.4V258.9H545.9ZM890.1 255.4H893.6V258.9H890.1ZM931.9 255.4H935.4V258.9H931.9ZM941.6 255.4H945.1V258.9H941.6ZM964.1 255.4H967.6V258.9H964.1ZM545.9 258.6H552.6V262.1H545.9ZM890.1 258.6H893.6V262.1H890.1ZM980.2 258.6H983.7V262.1H980.2ZM1096.0 258.6H1099.5V262.1H1096.0ZM147.0 261.8H150.5V265.3H147.0ZM214.6 261.8H224.5V265.3H214.6ZM269.3 261.8H272.8V265.3H269.3ZM549.1 261.8H552.6V265.3H549.1ZM890.1 261.8H893.6V265.3H890.1ZM983.4 261.8H986.9V265.3H983.4ZM147.0 265.0H150.5V268.6H147.0ZM211.4 265.0H214.9V268.6H211.4ZM224.2 265.0H227.7V268.6H224.2ZM549.1 265.0H552.6V268.6H549.1ZM893.3 265.0H896.8V268.6H893.3ZM989.8 265.0H993.3V268.6H989.8ZM1099.2 265.0H1102.7V268.6H1099.2ZM147.0 268.3H150.5V271.8H147.0ZM179.2 268.3H182.7V271.8H179.2ZM198.5 268.3H202.0V271.8H198.5ZM211.4 268.3H214.9V271.8H211.4ZM224.2 268.3H227.7V271.8H224.2ZM266.0 268.3H269.6V271.8H266.0ZM549.1 268.3H552.6V271.8H549.1ZM893.3 268.3H896.8V271.8H893.3ZM1102.4 268.3H1105.9V271.8H1102.4ZM147.0 271.5H150.5V275.0H147.0ZM224.2 271.5H227.7V275.0H224.2ZM262.8 271.5H266.3V275.0H262.8ZM549.1 271.5H552.6V275.0H549.1ZM893.3 271.5H896.8V275.0H893.3ZM147.0 274.7H150.5V278.2H147.0ZM176.0 274.7H179.5V278.2H176.0ZM224.2 274.7H227.7V278.2H224.2ZM256.4 274.7H259.9V278.2H256.4ZM549.1 274.7H552.6V278.2H549.1ZM893.3 274.7H896.8V278.2H893.3ZM993.0 274.7H996.5V278.2H993.0ZM147.0 277.9H150.5V281.4H147.0ZM176.0 277.9H179.5V281.4H176.0ZM246.7 277.9H250.3V281.4H246.7ZM291.8 277.9H295.3V281.4H291.8ZM549.1 277.9H552.6V281.4H549.1ZM896.5 277.9H900.0V281.4H896.5ZM993.0 277.9H996.5V281.4H993.0ZM143.8 281.1H147.3V284.6H143.8ZM243.5 281.1H247.0V284.6H243.5ZM285.3 281.1H292.1V284.6H285.3ZM549.1 281.1H555.9V284.6H549.1ZM896.5 281.1H900.0V284.6H896.5ZM993.0 281.1H996.5V284.6H993.0ZM1112.1 281.1H1115.6V284.6H1112.1ZM147.0 284.3H150.5V287.9H147.0ZM179.2 284.3H202.0V287.9H179.2ZM285.3 284.3H288.9V287.9H285.3ZM552.3 284.3H555.9V287.9H552.3ZM896.5 284.3H900.0V287.9H896.5ZM993.0 284.3H996.5V287.9H993.0ZM1115.3 284.3H1118.8V287.9H1115.3ZM147.0 287.6H150.5V291.1H147.0ZM198.5 287.6H208.4V291.1H198.5ZM240.3 287.6H243.8V291.1H240.3ZM552.3 287.6H555.9V291.1H552.3ZM893.3 287.6H896.8V291.1H893.3ZM996.2 287.6H999.8V291.1H996.2ZM1054.1 287.6H1057.7V291.1H1054.1ZM1070.2 287.6H1073.8V291.1H1070.2ZM1115.3 287.6H1118.8V291.1H1115.3ZM150.2 290.8H153.8V294.3H150.2ZM192.1 290.8H195.6V294.3H192.1ZM211.4 290.8H214.9V294.3H211.4ZM224.2 290.8H227.7V294.3H224.2ZM237.1 290.8H240.6V294.3H237.1ZM552.3 290.8H555.9V294.3H552.3ZM893.3 290.8H896.8V294.3H893.3ZM999.5 290.8H1003.0V294.3H999.5ZM1076.7 290.8H1080.2V294.3H1076.7ZM1115.3 290.8H1118.8V294.3H1115.3ZM150.2 294.0H153.8V297.5H150.2ZM156.7 294.0H189.1V297.5H156.7ZM192.1 294.0H195.6V297.5H192.1ZM214.6 294.0H221.3V297.5H214.6ZM233.9 294.0H237.4V297.5H233.9ZM552.3 294.0H559.1V297.5H552.3ZM893.3 294.0H896.8V297.5H893.3ZM999.5 294.0H1003.0V297.5H999.5ZM1050.9 294.0H1054.4V297.5H1050.9ZM1079.9 294.0H1083.4V297.5H1079.9ZM1118.5 294.0H1122.0V297.5H1118.5ZM150.2 297.2H157.0V300.7H150.2ZM188.8 297.2H195.6V300.7H188.8ZM214.6 297.2H218.1V300.7H214.6ZM230.7 297.2H234.2V300.7H230.7ZM555.6 297.2H559.1V300.7H555.6ZM893.3 297.2H896.8V300.7H893.3ZM1005.9 297.2H1009.4V300.7H1005.9ZM1050.9 297.2H1054.4V300.7H1050.9ZM1083.1 297.2H1086.6V300.7H1083.1ZM147.0 300.4H150.5V303.9H147.0ZM153.5 300.4H157.0V303.9H153.5ZM214.6 300.4H218.1V303.9H214.6ZM227.4 300.4H231.0V303.9H227.4ZM555.6 300.4H559.1V303.9H555.6ZM893.3 300.4H896.8V303.9H893.3ZM1012.3 300.4H1015.8V303.9H1012.3ZM1050.9 300.4H1054.4V303.9H1050.9ZM1086.3 300.4H1089.8V303.9H1086.3ZM1121.7 300.4H1125.2V303.9H1121.7ZM143.8 303.6H147.3V307.2H143.8ZM153.5 303.6H157.0V307.2H153.5ZM214.6 303.6H224.5V307.2H214.6ZM555.6 303.6H559.1V307.2H555.6ZM893.3 303.6H896.8V307.2H893.3ZM1018.8 303.6H1022.3V307.2H1018.8ZM1050.9 303.6H1054.4V307.2H1050.9ZM1089.5 303.6H1093.1V307.2H1089.5ZM1124.9 303.6H1128.4V307.2H1124.9ZM137.4 306.9H144.1V310.4H137.4ZM153.5 306.9H157.0V310.4H153.5ZM555.6 306.9H562.3V310.4H555.6ZM893.3 306.9H896.8V310.4H893.3ZM1025.2 306.9H1048.0V310.4H1025.2ZM1092.8 306.9H1096.3V310.4H1092.8ZM127.7 310.1H131.2V313.6H127.7ZM558.8 310.1H562.3V313.6H558.8ZM896.5 310.1H900.0V313.6H896.5ZM1092.8 310.1H1096.3V313.6H1092.8ZM1128.1 310.1H1131.7V313.6H1128.1ZM121.3 313.3H124.8V316.8H121.3ZM156.7 313.3H160.2V316.8H156.7ZM558.8 313.3H565.5V316.8H558.8ZM896.5 313.3H900.0V316.8H896.5ZM1092.8 313.3H1096.3V316.8H1092.8ZM1128.1 313.3H1131.7V316.8H1128.1ZM118.1 316.5H121.6V320.0H118.1ZM159.9 316.5H163.4V320.0H159.9ZM562.0 316.5H565.5V320.0H562.0ZM896.5 316.5H900.0V320.0H896.5ZM1092.8 316.5H1096.3V320.0H1092.8ZM1124.9 316.5H1128.4V320.0H1124.9ZM562.0 319.7H568.7V323.2H562.0ZM896.5 319.7H900.0V323.2H896.5ZM1092.8 319.7H1096.3V323.2H1092.8ZM1124.9 319.7H1128.4V323.2H1124.9ZM565.2 322.9H568.7V326.5H565.2ZM896.5 322.9H900.0V326.5H896.5ZM1124.9 322.9H1128.4V326.5H1124.9ZM565.2 326.2H568.7V329.7H565.2ZM896.5 326.2H900.0V329.7H896.5ZM1089.5 326.2H1093.1V329.7H1089.5ZM1124.9 326.2H1128.4V329.7H1124.9ZM568.4 329.4H571.9V332.9H568.4ZM896.5 329.4H900.0V332.9H896.5ZM1124.9 329.4H1128.4V332.9H1124.9ZM163.1 332.6H166.6V336.1H163.1ZM568.4 332.6H571.9V336.1H568.4ZM896.5 332.6H900.0V336.1H896.5ZM1124.9 332.6H1128.4V336.1H1124.9ZM105.2 335.8H108.7V339.3H105.2ZM571.6 335.8H575.2V339.3H571.6ZM896.5 335.8H903.3V339.3H896.5ZM1083.1 335.8H1086.6V339.3H1083.1ZM1124.9 335.8H1128.4V339.3H1124.9ZM105.2 339.0H108.7V342.5H105.2ZM571.6 339.0H575.2V342.5H571.6ZM1124.9 339.0H1128.4V342.5H1124.9ZM105.2 342.2H108.7V345.8H105.2ZM163.1 342.2H166.6V345.8H163.1ZM571.6 342.2H575.2V345.8H571.6ZM896.5 342.2H900.0V345.8H896.5ZM105.2 345.5H108.7V349.0H105.2ZM163.1 345.5H166.6V349.0H163.1ZM574.9 345.5H578.4V349.0H574.9ZM893.3 345.5H900.0V349.0H893.3ZM1076.7 345.5H1080.2V349.0H1076.7ZM105.2 348.7H108.7V352.2H105.2ZM163.1 348.7H166.6V352.2H163.1ZM574.9 348.7H578.4V352.2H574.9ZM890.1 348.7H896.8V352.2H890.1ZM1115.3 348.7H1118.8V352.2H1115.3ZM105.2 351.9H108.7V355.4H105.2ZM159.9 351.9H163.4V355.4H159.9ZM574.9 351.9H578.4V355.4H574.9ZM886.9 351.9H893.6V355.4H886.9ZM1073.5 351.9H1077.0V355.4H1073.5ZM1108.8 351.9H1112.4V355.4H1108.8ZM156.7 355.1H160.2V358.6H156.7ZM578.1 355.1H581.6V358.6H578.1ZM886.9 355.1H890.4V358.6H886.9ZM1102.4 355.1H1105.9V358.6H1102.4ZM150.2 358.3H153.8V361.8H150.2ZM578.1 358.3H581.6V361.8H578.1ZM1070.2 358.3H1073.8V361.8H1070.2ZM1092.8 358.3H1099.5V361.8H1092.8ZM140.6 361.5H144.1V365.1H140.6ZM581.3 361.5H584.8V365.1H581.3ZM886.9 361.5H890.4V365.1H886.9ZM1083.1 361.5H1089.8V365.1H1083.1ZM108.4 364.8H111.9V368.3H108.4ZM127.7 364.8H131.2V368.3H127.7ZM581.3 364.8H584.8V368.3H581.3ZM886.9 364.8H890.4V368.3H886.9ZM1073.5 364.8H1080.2V368.3H1073.5ZM581.3 368.0H584.8V371.5H581.3ZM886.9 368.0H890.4V371.5H886.9ZM581.3 371.2H584.8V374.7H581.3ZM886.9 371.2H890.4V374.7H886.9ZM581.3 374.4H584.8V377.9H581.3ZM886.9 374.4H890.4V377.9H886.9ZM581.3 377.6H588.0V381.1H581.3ZM883.7 377.6H890.4V381.1H883.7ZM584.5 380.8H591.2V384.4H584.5ZM880.4 380.8H887.2V384.4H880.4ZM587.7 384.1H594.5V387.6H587.7ZM877.2 384.1H884.0V387.6H877.2ZM590.9 387.3H594.5V390.8H590.9ZM870.8 387.3H877.5V390.8H870.8ZM594.2 390.5H597.7V394.0H594.2ZM870.8 390.5H874.3V394.0H870.8ZM594.2 393.7H597.7V397.2H594.2ZM867.6 393.7H871.1V397.2H867.6ZM594.2 396.9H597.7V400.4H594.2ZM864.4 396.9H871.1V400.4H864.4ZM594.2 400.1H597.7V403.7H594.2ZM857.9 400.1H864.7V403.7H857.9ZM594.2 403.4H600.9V406.9H594.2ZM854.7 403.4H861.4V406.9H854.7ZM597.4 406.6H604.1V410.1H597.4ZM851.5 406.6H858.2V410.1H851.5ZM600.6 409.8H604.1V413.3H600.6ZM845.1 409.8H851.8V413.3H845.1ZM600.6 413.0H607.3V416.5H600.6ZM841.8 413.0H848.6V416.5H841.8ZM603.8 416.2H610.5V419.7H603.8ZM838.6 416.2H845.4V419.7H838.6ZM607.0 419.4H613.8V423.0H607.0ZM835.4 419.4H842.1V423.0H835.4ZM610.2 422.7H613.8V426.2H610.2ZM829.0 422.7H835.7V426.2H829.0ZM610.2 425.9H620.2V429.4H610.2ZM822.5 425.9H832.5V429.4H822.5ZM616.7 429.1H623.4V432.6H616.7ZM812.9 429.1H826.1V432.6H812.9ZM619.9 432.3H626.6V435.8H619.9ZM806.5 432.3H816.4V435.8H806.5ZM623.1 435.5H626.6V439.0H623.1ZM803.2 435.5H810.0V439.0H803.2ZM623.1 438.7H639.5V442.3H623.1ZM796.8 438.7H806.8V442.3H796.8ZM636.0 442.0H642.7V445.5H636.0ZM790.4 442.0H800.3V445.5H790.4ZM639.2 445.2H645.9V448.7H639.2ZM780.7 445.2H793.9V448.7H780.7ZM642.4 448.4H645.9V451.9H642.4ZM774.3 448.4H784.2V451.9H774.3ZM639.2 451.6H645.9V455.1H639.2ZM767.9 451.6H777.8V455.1H767.9ZM639.2 454.8H645.9V458.4H639.2ZM758.2 454.8H771.4V458.4H758.2ZM645.6 458.1H649.1V461.6H645.6ZM658.5 458.1H668.4V461.6H658.5ZM748.6 458.1H758.5V461.6H748.6ZM645.6 461.3H662.0V464.8H645.6ZM668.1 461.3H674.9V464.8H668.1ZM735.7 461.3H748.9V464.8H735.7ZM671.4 464.5H678.1V468.0H671.4ZM703.5 464.5H716.7V468.0H703.5ZM719.6 464.5H736.0V468.0H719.6ZM713.2 467.7H723.1V471.2H713.2ZM468.7 567.4H481.9V570.9H468.7ZM365.8 570.6H385.4V574.2H365.8ZM462.3 570.6H481.9V574.2H462.3ZM356.1 573.9H391.8V577.4H356.1ZM455.8 573.9H481.9V577.4H455.8ZM352.9 577.1H372.5V580.6H352.9ZM378.6 577.1H395.0V580.6H378.6ZM449.4 577.1H465.8V580.6H449.4ZM475.1 577.1H485.1V580.6H475.1ZM356.1 580.3H369.3V583.8H356.1ZM385.1 580.3H407.9V583.8H385.1ZM436.5 580.3H459.4V583.8H436.5ZM478.4 580.3H488.3V583.8H478.4ZM359.3 583.5H369.3V587.0H359.3ZM388.3 583.5H452.9V587.0H388.3ZM478.4 583.5H491.5V587.0H478.4ZM362.5 586.7H372.5V590.2H362.5ZM404.4 586.7H436.8V590.2H404.4ZM481.6 586.7H494.7V590.2H481.6ZM362.5 589.9H375.7V593.5H362.5ZM484.8 589.9H501.2V593.5H484.8ZM365.8 593.2H378.9V596.7H365.8ZM481.6 593.2H507.6V596.7H481.6ZM369.0 596.4H378.9V599.9H369.0ZM478.4 596.4H498.0V599.9H478.4ZM372.2 599.6H378.9V603.1H372.2ZM475.1 599.6H485.1V603.1H475.1ZM372.2 602.8H382.1V606.3H372.2ZM475.1 602.8H481.9V606.3H475.1ZM375.4 606.0H382.1V609.5H375.4ZM478.4 606.0H481.9V609.5H478.4ZM375.4 609.2H382.1V612.8H375.4ZM375.4 612.5H382.1V616.0H375.4ZM481.6 612.5H485.1V616.0H481.6ZM375.4 615.7H388.6V619.2H375.4ZM481.6 615.7H485.1V619.2H481.6ZM378.6 618.9H391.8V622.4H378.6ZM388.3 622.1H398.2V625.6H388.3ZM397.9 625.3H404.7V628.8H397.9ZM407.6 628.5H417.5V632.1H407.6ZM838.6 786.2H848.6V789.7H838.6ZM841.8 789.4H864.7V792.9H841.8ZM851.5 792.6H864.7V796.1H851.5ZM890.1 799.0H893.6V802.5H890.1ZM893.3 802.2H900.0V805.8H893.3Z"/>
<path fill="#37a8fa" d="M594.2 123.5H607.3V127.0H594.2ZM883.7 123.5H893.6V127.0H883.7ZM944.8 123.5H974.0V127.0H944.8ZM552.3 126.7H555.9V130.2H552.3ZM562.0 126.7H571.9V130.2H562.0ZM594.2 126.7H597.7V130.2H594.2ZM619.9 126.7H623.4V130.2H619.9ZM745.3 126.7H752.1V130.2H745.3ZM777.5 126.7H797.1V130.2H777.5ZM877.2 126.7H880.7V130.2H877.2ZM970.5 126.7H974.0V130.2H970.5ZM581.3 129.9H584.8V133.5H581.3ZM623.1 129.9H626.6V133.5H623.1ZM713.2 129.9H745.6V133.5H713.2ZM777.5 129.9H781.0V133.5H777.5ZM800.0 129.9H810.0V133.5H800.0ZM877.2 129.9H880.7V133.5H877.2ZM970.5 129.9H974.0V133.5H970.5ZM558.8 133.2H565.5V136.7H558.8ZM587.7 133.2H594.5V136.7H587.7ZM626.3 133.2H629.8V136.7H626.3ZM716.4 133.2H719.9V136.7H716.4ZM732.5 133.2H739.2V136.7H732.5ZM777.5 133.2H781.0V136.7H777.5ZM806.5 133.2H810.0V136.7H806.5ZM970.5 133.2H974.0V136.7H970.5ZM137.4 136.4H140.9V139.9H137.4ZM565.2 136.4H568.7V139.9H565.2ZM626.3 136.4H629.8V139.9H626.3ZM716.4 136.4H719.9V139.9H716.4ZM726.0 136.4H732.8V139.9H726.0ZM777.5 136.4H781.0V139.9H777.5ZM809.7 136.4H813.2V139.9H809.7ZM970.5 136.4H974.0V139.9H970.5ZM134.2 139.6H140.9V143.1H134.2ZM562.0 139.6H565.5V143.1H562.0ZM623.1 139.6H626.6V143.1H623.1ZM716.4 139.6H726.3V143.1H716.4ZM777.5 139.6H781.0V143.1H777.5ZM809.7 139.6H813.2V143.1H809.7ZM973.7 139.6H977.2V143.1H973.7ZM127.7 142.8H153.8V146.3H127.7ZM562.0 142.8H568.7V146.3H562.0ZM571.6 142.8H575.2V146.3H571.6ZM777.5 142.8H781.0V146.3H777.5ZM809.7 142.8H813.2V146.3H809.7ZM880.4 142.8H884.0V146.3H880.4ZM973.7 142.8H977.2V146.3H973.7ZM124.5 146.0H153.8V149.5H124.5ZM574.9 146.0H578.4V149.5H574.9ZM777.5 146.0H781.0V149.5H777.5ZM812.9 146.0H816.4V149.5H812.9ZM880.4 146.0H884.0V149.5H880.4ZM976.9 146.0H980.5V149.5H976.9ZM124.5 149.2H131.2V152.8H124.5ZM147.0 149.2H153.8V152.8H147.0ZM278.9 149.2H282.4V152.8H278.9ZM565.2 149.2H568.7V152.8H565.2ZM574.9 149.2H578.4V152.8H574.9ZM777.5 149.2H781.0V152.8H777.5ZM812.9 149.2H819.6V152.8H812.9ZM848.3 149.2H851.8V152.8H848.3ZM880.4 149.2H884.0V152.8H880.4ZM973.7 149.2H977.2V152.8H973.7ZM121.3 152.5H131.2V156.0H121.3ZM147.0 152.5H153.8V156.0H147.0ZM217.8 152.5H221.3V156.0H217.8ZM278.9 152.5H285.6V156.0H278.9ZM562.0 152.5H568.7V156.0H562.0ZM777.5 152.5H781.0V156.0H777.5ZM816.1 152.5H819.6V156.0H816.1ZM848.3 152.5H851.8V156.0H848.3ZM880.4 152.5H884.0V156.0H880.4ZM970.5 152.5H974.0V156.0H970.5ZM118.1 155.7H128.0V159.2H118.1ZM147.0 155.7H153.8V159.2H147.0ZM214.6 155.7H218.1V159.2H214.6ZM278.9 155.7H282.4V159.2H278.9ZM565.2 155.7H568.7V159.2H565.2ZM777.5 155.7H781.0V159.2H777.5ZM819.3 155.7H822.8V159.2H819.3ZM848.3 155.7H851.8V159.2H848.3ZM880.4 155.7H884.0V159.2H880.4ZM970.5 155.7H974.0V159.2H970.5ZM114.9 158.9H124.8V162.4H114.9ZM150.2 158.9H157.0V162.4H150.2ZM211.4 158.9H214.9V162.4H211.4ZM269.3 158.9H276.0V162.4H269.3ZM607.0 158.9H610.5V162.4H607.0ZM626.3 158.9H636.3V162.4H626.3ZM777.5 158.9H781.0V162.4H777.5ZM822.5 158.9H851.8V162.4H822.5ZM877.2 158.9H880.7V162.4H877.2ZM970.5 158.9H974.0V162.4H970.5ZM114.9 162.1H121.6V165.6H114.9ZM153.5 162.1H160.2V165.6H153.5ZM584.5 162.1H588.0V165.6H584.5ZM603.8 162.1H607.3V165.6H603.8ZM639.2 162.1H665.2V165.6H639.2ZM777.5 162.1H781.0V165.6H777.5ZM848.3 162.1H855.0V165.6H848.3ZM874.0 162.1H877.5V165.6H874.0ZM970.5 162.1H974.0V165.6H970.5ZM114.9 165.3H121.6V168.8H114.9ZM159.9 165.3H169.8V168.8H159.9ZM619.9 165.3H623.4V168.8H619.9ZM661.7 165.3H665.2V168.8H661.7ZM774.3 165.3H777.8V168.8H774.3ZM851.5 165.3H874.3V168.8H851.5ZM973.7 165.3H977.2V168.8H973.7ZM114.9 168.5H121.6V172.1H114.9ZM166.3 168.5H173.1V172.1H166.3ZM594.2 168.5H597.7V172.1H594.2ZM623.1 168.5H626.6V172.1H623.1ZM661.7 168.5H665.2V172.1H661.7ZM767.9 168.5H774.6V172.1H767.9ZM973.7 168.5H977.2V172.1H973.7ZM111.6 171.8H118.4V175.3H111.6ZM172.8 171.8H182.7V175.3H172.8ZM661.7 171.8H665.2V175.3H661.7ZM758.2 171.8H764.9V175.3H758.2ZM973.7 171.8H977.2V175.3H973.7ZM111.6 175.0H118.4V178.5H111.6ZM182.4 175.0H185.9V178.5H182.4ZM626.3 175.0H629.8V178.5H626.3ZM661.7 175.0H665.2V178.5H661.7ZM751.8 175.0H755.3V178.5H751.8ZM976.9 175.0H980.5V178.5H976.9ZM111.6 178.2H118.4V181.7H111.6ZM182.4 178.2H185.9V181.7H182.4ZM626.3 178.2H629.8V181.7H626.3ZM661.7 178.2H665.2V181.7H661.7ZM745.3 178.2H748.9V181.7H745.3ZM980.2 178.2H986.9V181.7H980.2ZM111.6 181.4H118.4V184.9H111.6ZM182.4 181.4H185.9V184.9H182.4ZM623.1 181.4H629.8V184.9H623.1ZM661.7 181.4H668.4V184.9H661.7ZM738.9 181.4H742.4V184.9H738.9ZM983.4 181.4H986.9V184.9H983.4ZM111.6 184.6H115.2V188.1H111.6ZM182.4 184.6H185.9V188.1H182.4ZM198.5 184.6H205.2V188.1H198.5ZM619.9 184.6H626.6V188.1H619.9ZM664.9 184.6H678.1V188.1H664.9ZM732.5 184.6H736.0V188.1H732.5ZM883.7 184.6H887.2V188.1H883.7ZM893.3 184.6H896.8V188.1H893.3ZM986.6 184.6H990.1V188.1H986.6ZM111.6 187.8H115.2V191.4H111.6ZM327.2 187.8H330.7V191.4H327.2ZM616.7 187.8H623.4V191.4H616.7ZM677.8 187.8H687.7V191.4H677.8ZM722.8 187.8H726.3V191.4H722.8ZM883.7 187.8H887.2V191.4H883.7ZM896.5 187.8H900.0V191.4H896.5ZM989.8 187.8H993.3V191.4H989.8ZM111.6 191.1H115.2V194.6H111.6ZM211.4 191.1H214.9V194.6H211.4ZM613.5 191.1H617.0V194.6H613.5ZM684.2 191.1H687.7V194.6H684.2ZM716.4 191.1H719.9V194.6H716.4ZM880.4 191.1H884.0V194.6H880.4ZM899.7 191.1H903.3V194.6H899.7ZM989.8 191.1H993.3V194.6H989.8ZM111.6 194.3H115.2V197.8H111.6ZM214.6 194.3H218.1V197.8H214.6ZM607.0 194.3H613.8V197.8H607.0ZM687.4 194.3H691.0V197.8H687.4ZM710.0 194.3H713.5V197.8H710.0ZM880.4 194.3H884.0V197.8H880.4ZM989.8 194.3H993.3V197.8H989.8ZM111.6 197.5H115.2V201.0H111.6ZM221.0 197.5H224.5V201.0H221.0ZM597.4 197.5H607.3V201.0H597.4ZM693.9 197.5H700.6V201.0H693.9ZM880.4 197.5H884.0V201.0H880.4ZM903.0 197.5H906.5V201.0H903.0ZM993.0 197.5H1006.2V201.0H993.0ZM111.6 200.7H115.2V204.2H111.6ZM224.2 200.7H227.7V204.2H224.2ZM590.9 200.7H597.7V204.2H590.9ZM880.4 200.7H884.0V204.2H880.4ZM1005.9 200.7H1009.4V204.2H1005.9ZM111.6 203.9H115.2V207.4H111.6ZM230.7 203.9H234.2V207.4H230.7ZM574.9 203.9H594.5V207.4H574.9ZM883.7 203.9H887.2V207.4H883.7ZM1009.1 203.9H1012.6V207.4H1009.1ZM111.6 207.1H115.2V210.7H111.6ZM233.9 207.1H237.4V210.7H233.9ZM568.4 207.1H575.2V210.7H568.4ZM883.7 207.1H887.2V210.7H883.7ZM1012.3 207.1H1015.8V210.7H1012.3ZM111.6 210.4H115.2V213.9H111.6ZM240.3 210.4H243.8V213.9H240.3ZM272.5 210.4H276.0V213.9H272.5ZM562.0 210.4H568.7V213.9H562.0ZM883.7 210.4H887.2V213.9H883.7ZM1022.0 210.4H1025.5V213.9H1022.0ZM111.6 213.6H115.2V217.1H111.6ZM246.7 213.6H250.3V217.1H246.7ZM266.0 213.6H272.8V217.1H266.0ZM275.7 213.6H282.4V217.1H275.7ZM555.6 213.6H562.3V217.1H555.6ZM877.2 213.6H880.7V217.1H877.2ZM906.2 213.6H909.7V217.1H906.2ZM1028.4 213.6H1035.1V217.1H1028.4ZM111.6 216.8H115.2V220.3H111.6ZM282.1 216.8H285.6V220.3H282.1ZM545.9 216.8H555.9V220.3H545.9ZM877.2 216.8H880.7V220.3H877.2ZM1031.6 216.8H1038.4V220.3H1031.6ZM111.6 220.0H115.2V223.5H111.6ZM253.2 220.0H256.7V223.5H253.2ZM285.3 220.0H288.9V223.5H285.3ZM545.9 220.0H549.4V223.5H545.9ZM877.2 220.0H880.7V223.5H877.2ZM909.4 220.0H912.9V223.5H909.4ZM1038.1 220.0H1044.8V223.5H1038.1ZM111.6 223.2H115.2V226.7H111.6ZM285.3 223.2H292.1V226.7H285.3ZM330.4 223.2H333.9V226.7H330.4ZM545.9 223.2H549.4V226.7H545.9ZM877.2 223.2H880.7V226.7H877.2ZM1047.7 223.2H1054.4V226.7H1047.7ZM111.6 226.4H115.2V230.0H111.6ZM288.6 226.4H298.5V230.0H288.6ZM327.2 226.4H330.7V230.0H327.2ZM545.9 226.4H549.4V230.0H545.9ZM880.4 226.4H884.0V230.0H880.4ZM1057.4 226.4H1064.1V230.0H1057.4ZM111.6 229.7H118.4V233.2H111.6ZM253.2 229.7H256.7V233.2H253.2ZM262.8 229.7H266.3V233.2H262.8ZM295.0 229.7H301.7V233.2H295.0ZM327.2 229.7H330.7V233.2H327.2ZM545.9 229.7H549.4V233.2H545.9ZM880.4 229.7H884.0V233.2H880.4ZM1060.6 229.7H1067.3V233.2H1060.6ZM121.3 232.9H124.8V236.4H121.3ZM298.2 232.9H327.5V236.4H298.2ZM545.9 232.9H549.4V236.4H545.9ZM880.4 232.9H884.0V236.4H880.4ZM919.0 232.9H922.6V236.4H919.0ZM1063.8 232.9H1070.5V236.4H1063.8ZM124.5 236.1H134.5V239.6H124.5ZM301.4 236.1H321.0V239.6H301.4ZM545.9 236.1H549.4V239.6H545.9ZM880.4 236.1H884.0V239.6H880.4ZM1070.2 236.1H1077.0V239.6H1070.2ZM134.2 239.3H140.9V242.8H134.2ZM311.1 239.3H317.8V242.8H311.1ZM545.9 239.3H549.4V242.8H545.9ZM880.4 239.3H884.0V242.8H880.4ZM1076.7 239.3H1080.2V242.8H1076.7ZM140.6 242.5H144.1V246.0H140.6ZM298.2 242.5H317.8V246.0H298.2ZM545.9 242.5H549.4V246.0H545.9ZM883.7 242.5H887.2V246.0H883.7ZM925.5 242.5H929.0V246.0H925.5ZM1079.9 242.5H1083.4V246.0H1079.9ZM143.8 245.7H147.3V249.3H143.8ZM291.8 245.7H314.6V249.3H291.8ZM545.9 245.7H549.4V249.3H545.9ZM886.9 245.7H890.4V249.3H886.9ZM928.7 245.7H932.2V249.3H928.7ZM1083.1 245.7H1086.6V249.3H1083.1ZM147.0 249.0H150.5V252.5H147.0ZM291.8 249.0H295.3V252.5H291.8ZM311.1 249.0H314.6V252.5H311.1ZM549.1 249.0H552.6V252.5H549.1ZM886.9 249.0H890.4V252.5H886.9ZM931.9 249.0H935.4V252.5H931.9ZM1086.3 249.0H1089.8V252.5H1086.3ZM147.0 252.2H150.5V255.7H147.0ZM272.5 252.2H282.4V255.7H272.5ZM285.3 252.2H292.1V255.7H285.3ZM549.1 252.2H552.6V255.7H549.1ZM886.9 252.2H890.4V255.7H886.9ZM931.9 252.2H935.4V255.7H931.9ZM941.6 252.2H967.6V255.7H941.6ZM1089.5 252.2H1093.1V255.7H1089.5ZM147.0 255.4H150.5V258.9H147.0ZM549.1 255.4H552.6V258.9H549.1ZM886.9 255.4H890.4V258.9H886.9ZM935.1 255.4H941.9V258.9H935.1ZM967.3 255.4H980.5V258.9H967.3ZM1092.8 255.4H1096.3V258.9H1092.8ZM147.0 258.6H150.5V262.1H147.0ZM269.3 258.6H272.8V262.1H269.3ZM552.3 258.6H555.9V262.1H552.3ZM886.9 258.6H890.4V262.1H886.9ZM983.4 258.6H986.9V262.1H983.4ZM211.4 261.8H214.9V265.3H211.4ZM224.2 261.8H227.7V265.3H224.2ZM552.3 261.8H555.9V265.3H552.3ZM986.6 261.8H993.3V265.3H986.6ZM1096.0 261.8H1099.5V265.3H1096.0ZM179.2 265.0H198.8V268.6H179.2ZM266.0 265.0H269.6V268.6H266.0ZM552.3 265.0H555.9V268.6H552.3ZM890.1 265.0H893.6V268.6H890.1ZM993.0 265.0H996.5V268.6H993.0ZM150.2 268.3H153.8V271.8H150.2ZM176.0 268.3H179.5V271.8H176.0ZM552.3 268.3H555.9V271.8H552.3ZM890.1 268.3H893.6V271.8H890.1ZM993.0 268.3H996.5V271.8H993.0ZM150.2 271.5H153.8V275.0H150.2ZM176.0 271.5H179.5V275.0H176.0ZM201.7 271.5H211.7V275.0H201.7ZM259.6 271.5H263.1V275.0H259.6ZM552.3 271.5H555.9V275.0H552.3ZM890.1 271.5H893.6V275.0H890.1ZM993.0 271.5H996.5V275.0H993.0ZM150.2 274.7H153.8V278.2H150.2ZM253.2 274.7H256.7V278.2H253.2ZM552.3 274.7H555.9V278.2H552.3ZM890.1 274.7H893.6V278.2H890.1ZM1105.6 274.7H1109.1V278.2H1105.6ZM150.2 277.9H153.8V281.4H150.2ZM172.8 277.9H176.3V281.4H172.8ZM552.3 277.9H555.9V281.4H552.3ZM893.3 277.9H896.8V281.4H893.3ZM1108.8 277.9H1112.4V281.4H1108.8ZM147.0 281.1H153.8V284.6H147.0ZM172.8 281.1H179.5V284.6H172.8ZM227.4 281.1H231.0V284.6H227.4ZM555.6 281.1H559.1V284.6H555.6ZM893.3 281.1H896.8V284.6H893.3ZM996.2 281.1H999.8V284.6H996.2ZM150.2 284.3H153.8V287.9H150.2ZM172.8 284.3H179.5V287.9H172.8ZM201.7 284.3H211.7V287.9H201.7ZM227.4 284.3H231.0V287.9H227.4ZM240.3 284.3H243.8V287.9H240.3ZM555.6 284.3H559.1V287.9H555.6ZM893.3 284.3H896.8V287.9H893.3ZM996.2 284.3H1003.0V287.9H996.2ZM1057.4 284.3H1060.9V287.9H1057.4ZM1112.1 284.3H1115.6V287.9H1112.1ZM150.2 287.6H157.0V291.1H150.2ZM176.0 287.6H198.8V291.1H176.0ZM208.1 287.6H211.7V291.1H208.1ZM227.4 287.6H231.0V291.1H227.4ZM237.1 287.6H240.6V291.1H237.1ZM555.6 287.6H559.1V291.1H555.6ZM890.1 287.6H893.6V291.1H890.1ZM999.5 287.6H1003.0V291.1H999.5ZM1050.9 287.6H1054.4V291.1H1050.9ZM153.5 290.8H192.4V294.3H153.5ZM227.4 290.8H231.0V294.3H227.4ZM233.9 290.8H237.4V294.3H233.9ZM555.6 290.8H559.1V294.3H555.6ZM890.1 290.8H893.6V294.3H890.1ZM1002.7 290.8H1006.2V294.3H1002.7ZM1050.9 290.8H1054.4V294.3H1050.9ZM153.5 294.0H157.0V297.5H153.5ZM188.8 294.0H192.4V297.5H188.8ZM221.0 294.0H227.7V297.5H221.0ZM230.7 294.0H234.2V297.5H230.7ZM558.8 294.0H562.3V297.5H558.8ZM890.1 294.0H893.6V297.5H890.1ZM1002.7 294.0H1009.4V297.5H1002.7ZM1083.1 294.0H1086.6V297.5H1083.1ZM217.8 297.2H231.0V300.7H217.8ZM558.8 297.2H562.3V300.7H558.8ZM890.1 297.2H893.6V300.7H890.1ZM1009.1 297.2H1015.8V300.7H1009.1ZM1086.3 297.2H1089.8V300.7H1086.3ZM1118.5 297.2H1122.0V300.7H1118.5ZM150.2 300.4H153.8V303.9H150.2ZM217.8 300.4H227.7V303.9H217.8ZM558.8 300.4H562.3V303.9H558.8ZM890.1 300.4H893.6V303.9H890.1ZM1015.5 300.4H1022.3V303.9H1015.5ZM1047.7 300.4H1051.2V303.9H1047.7ZM1089.5 300.4H1093.1V303.9H1089.5ZM1118.5 300.4H1122.0V303.9H1118.5ZM147.0 303.6H153.8V307.2H147.0ZM558.8 303.6H562.3V307.2H558.8ZM890.1 303.6H893.6V307.2H890.1ZM1022.0 303.6H1028.7V307.2H1022.0ZM1044.5 303.6H1051.2V307.2H1044.5ZM1092.8 303.6H1096.3V307.2H1092.8ZM1121.7 303.6H1125.2V307.2H1121.7ZM143.8 306.9H150.5V310.4H143.8ZM562.0 306.9H565.5V310.4H562.0ZM890.1 306.9H893.6V310.4H890.1ZM1124.9 306.9H1128.4V310.4H1124.9ZM130.9 310.1H140.9V313.6H130.9ZM153.5 310.1H157.0V313.6H153.5ZM562.0 310.1H565.5V313.6H562.0ZM893.3 310.1H896.8V313.6H893.3ZM1124.9 310.1H1128.4V313.6H1124.9ZM124.5 313.3H131.2V316.8H124.5ZM153.5 313.3H157.0V316.8H153.5ZM565.2 313.3H568.7V316.8H565.2ZM893.3 313.3H896.8V316.8H893.3ZM1124.9 313.3H1128.4V316.8H1124.9ZM121.3 316.5H124.8V320.0H121.3ZM156.7 316.5H160.2V320.0H156.7ZM565.2 316.5H568.7V320.0H565.2ZM893.3 316.5H896.8V320.0H893.3ZM108.4 319.7H118.4V323.2H108.4ZM159.9 319.7H163.4V323.2H159.9ZM568.4 319.7H571.9V323.2H568.4ZM893.3 319.7H896.8V323.2H893.3ZM108.4 322.9H111.9V326.5H108.4ZM159.9 322.9H163.4V326.5H159.9ZM568.4 322.9H571.9V326.5H568.4ZM893.3 322.9H896.8V326.5H893.3ZM1092.8 322.9H1096.3V326.5H1092.8ZM108.4 326.2H111.9V329.7H108.4ZM159.9 326.2H163.4V329.7H159.9ZM568.4 326.2H575.2V329.7H568.4ZM893.3 326.2H896.8V329.7H893.3ZM1092.8 326.2H1096.3V329.7H1092.8ZM571.6 329.4H575.2V332.9H571.6ZM893.3 329.4H896.8V332.9H893.3ZM1089.5 329.4H1093.1V332.9H1089.5ZM571.6 332.6H578.4V336.1H571.6ZM893.3 332.6H896.8V336.1H893.3ZM1086.3 332.6H1093.1V336.1H1086.3ZM574.9 335.8H578.4V339.3H574.9ZM893.3 335.8H896.8V339.3H893.3ZM1086.3 335.8H1089.8V339.3H1086.3ZM163.1 339.0H166.6V342.5H163.1ZM574.9 339.0H578.4V342.5H574.9ZM896.5 339.0H900.0V342.5H896.5ZM1083.1 339.0H1086.6V342.5H1083.1ZM1121.7 339.0H1125.2V342.5H1121.7ZM574.9 342.2H581.6V345.8H574.9ZM893.3 342.2H896.8V345.8H893.3ZM1079.9 342.2H1086.6V345.8H1079.9ZM1118.5 342.2H1125.2V345.8H1118.5ZM578.1 345.5H581.6V349.0H578.1ZM890.1 345.5H893.6V349.0H890.1ZM1079.9 345.5H1083.4V349.0H1079.9ZM1115.3 345.5H1122.0V349.0H1115.3ZM159.9 348.7H163.4V352.2H159.9ZM578.1 348.7H581.6V352.2H578.1ZM886.9 348.7H890.4V352.2H886.9ZM1076.7 348.7H1080.2V352.2H1076.7ZM1108.8 348.7H1115.6V352.2H1108.8ZM156.7 351.9H160.2V355.4H156.7ZM578.1 351.9H584.8V355.4H578.1ZM883.7 351.9H887.2V355.4H883.7ZM1076.7 351.9H1080.2V355.4H1076.7ZM1102.4 351.9H1109.1V355.4H1102.4ZM153.5 355.1H157.0V358.6H153.5ZM581.3 355.1H584.8V358.6H581.3ZM883.7 355.1H887.2V358.6H883.7ZM1073.5 355.1H1077.0V358.6H1073.5ZM1096.0 355.1H1102.7V358.6H1096.0ZM108.4 358.3H111.9V361.8H108.4ZM581.3 358.3H588.0V361.8H581.3ZM883.7 358.3H887.2V361.8H883.7ZM1073.5 358.3H1077.0V361.8H1073.5ZM1086.3 358.3H1093.1V361.8H1086.3ZM108.4 361.5H111.9V365.1H108.4ZM584.5 361.5H588.0V365.1H584.5ZM883.7 361.5H887.2V365.1H883.7ZM1070.2 361.5H1083.4V365.1H1070.2ZM111.6 364.8H128.0V368.3H111.6ZM584.5 364.8H588.0V368.3H584.5ZM883.7 364.8H887.2V368.3H883.7ZM584.5 368.0H588.0V371.5H584.5ZM883.7 368.0H887.2V371.5H883.7ZM584.5 371.2H588.0V374.7H584.5ZM883.7 371.2H887.2V374.7H883.7ZM584.5 374.4H591.2V377.9H584.5ZM883.7 374.4H887.2V377.9H883.7ZM587.7 377.6H594.5V381.1H587.7ZM880.4 377.6H884.0V381.1H880.4ZM590.9 380.8H594.5V384.4H590.9ZM877.2 380.8H880.7V384.4H877.2ZM594.2 384.1H597.7V387.6H594.2ZM870.8 384.1H877.5V387.6H870.8ZM594.2 387.3H600.9V390.8H594.2ZM867.6 387.3H871.1V390.8H867.6ZM597.4 390.5H600.9V394.0H597.4ZM864.4 390.5H871.1V394.0H864.4ZM597.4 393.7H600.9V397.2H597.4ZM861.1 393.7H867.9V397.2H861.1ZM597.4 396.9H600.9V400.4H597.4ZM857.9 396.9H864.7V400.4H857.9ZM597.4 400.1H604.1V403.7H597.4ZM854.7 400.1H858.2V403.7H854.7ZM600.6 403.4H604.1V406.9H600.6ZM848.3 403.4H855.0V406.9H848.3ZM603.8 406.6H607.3V410.1H603.8ZM845.1 406.6H851.8V410.1H845.1ZM603.8 409.8H610.5V413.3H603.8ZM841.8 409.8H845.4V413.3H841.8ZM607.0 413.0H613.8V416.5H607.0ZM835.4 413.0H842.1V416.5H835.4ZM610.2 416.2H613.8V419.7H610.2ZM832.2 416.2H838.9V419.7H832.2ZM613.5 419.4H617.0V423.0H613.5ZM825.8 419.4H835.7V423.0H825.8ZM613.5 422.7H620.2V426.2H613.5ZM822.5 422.7H829.3V426.2H822.5ZM619.9 425.9H626.6V429.4H619.9ZM812.9 425.9H822.8V429.4H812.9ZM623.1 429.1H626.6V432.6H623.1ZM806.5 429.1H813.2V432.6H806.5ZM626.3 432.3H629.8V435.8H626.3ZM800.0 432.3H806.8V435.8H800.0ZM626.3 435.5H639.5V439.0H626.3ZM796.8 435.5H803.5V439.0H796.8ZM639.2 438.7H645.9V442.3H639.2ZM790.4 438.7H797.1V442.3H790.4ZM642.4 442.0H645.9V445.5H642.4ZM780.7 442.0H790.7V445.5H780.7ZM645.6 445.2H649.1V448.7H645.6ZM774.3 445.2H781.0V448.7H774.3ZM645.6 448.4H649.1V451.9H645.6ZM767.9 448.4H774.6V451.9H767.9ZM645.6 451.6H649.1V455.1H645.6ZM758.2 451.6H768.2V455.1H758.2ZM645.6 454.8H649.1V458.4H645.6ZM658.5 454.8H671.7V458.4H658.5ZM748.6 454.8H758.5V458.4H748.6ZM648.8 458.1H658.8V461.6H648.8ZM668.1 458.1H674.9V461.6H668.1ZM735.7 458.1H748.9V461.6H735.7ZM674.6 461.3H678.1V464.8H674.6ZM706.7 461.3H716.7V464.8H706.7ZM719.6 461.3H736.0V464.8H719.6ZM677.8 464.5H703.8V468.0H677.8ZM716.4 464.5H719.9V468.0H716.4ZM372.2 577.1H378.9V580.6H372.2ZM465.5 577.1H475.4V580.6H465.5ZM369.0 580.3H385.4V583.8H369.0ZM459.1 580.3H478.7V583.8H459.1ZM369.0 583.5H388.6V587.0H369.0ZM452.6 583.5H478.7V587.0H452.6ZM372.2 586.7H404.7V590.2H372.2ZM436.5 586.7H481.9V590.2H436.5ZM375.4 589.9H440.1V593.5H375.4ZM452.6 589.9H485.1V593.5H452.6ZM378.6 593.2H420.7V596.7H378.6ZM455.8 593.2H481.9V596.7H455.8ZM378.6 596.4H407.9V599.9H378.6ZM459.1 596.4H478.7V599.9H459.1ZM378.6 599.6H395.0V603.1H378.6ZM459.1 599.6H475.4V603.1H459.1ZM381.8 602.8H395.0V606.3H381.8ZM459.1 602.8H475.4V606.3H459.1ZM381.8 606.0H395.0V609.5H381.8ZM459.1 606.0H472.2V609.5H459.1ZM475.1 606.0H478.7V609.5H475.1ZM381.8 609.2H395.0V612.8H381.8ZM455.8 609.2H459.4V612.8H455.8ZM478.4 609.2H481.9V612.8H478.4ZM381.8 612.5H395.0V616.0H381.8ZM388.3 615.7H398.2V619.2H388.3ZM391.5 618.9H398.2V622.4H391.5ZM397.9 622.1H404.7V625.6H397.9ZM404.4 625.3H407.9V628.8H404.4Z"/>
<path fill="#31aff5" d="M549.1 123.5H552.6V127.0H549.1ZM893.3 123.5H945.1V127.0H893.3ZM558.8 126.7H562.3V130.2H558.8ZM597.4 126.7H600.9V130.2H597.4ZM607.0 126.7H620.2V130.2H607.0ZM880.4 126.7H887.2V130.2H880.4ZM957.6 126.7H970.8V130.2H957.6ZM558.8 129.9H562.3V133.5H558.8ZM571.6 129.9H581.6V133.5H571.6ZM619.9 129.9H623.4V133.5H619.9ZM780.7 129.9H800.3V133.5H780.7ZM880.4 129.9H884.0V133.5H880.4ZM967.3 129.9H970.8V133.5H967.3ZM584.5 133.2H588.0V136.7H584.5ZM594.2 133.2H597.7V136.7H594.2ZM623.1 133.2H626.6V136.7H623.1ZM719.6 133.2H732.8V136.7H719.6ZM780.7 133.2H806.8V136.7H780.7ZM880.4 133.2H884.0V136.7H880.4ZM967.3 133.2H970.8V136.7H967.3ZM269.3 136.4H272.8V139.9H269.3ZM623.1 136.4H626.6V139.9H623.1ZM719.6 136.4H726.3V139.9H719.6ZM780.7 136.4H787.5V139.9H780.7ZM803.2 136.4H810.0V139.9H803.2ZM880.4 136.4H884.0V139.9H880.4ZM967.3 136.4H970.8V139.9H967.3ZM243.5 139.6H247.0V143.1H243.5ZM568.4 139.6H571.9V143.1H568.4ZM780.7 139.6H784.2V143.1H780.7ZM806.5 139.6H810.0V143.1H806.5ZM880.4 139.6H884.0V143.1H880.4ZM970.5 139.6H974.0V143.1H970.5ZM619.9 142.8H623.4V146.3H619.9ZM780.7 142.8H784.2V146.3H780.7ZM806.5 142.8H810.0V146.3H806.5ZM970.5 142.8H974.0V146.3H970.5ZM562.0 146.0H565.5V149.5H562.0ZM619.9 146.0H623.4V149.5H619.9ZM780.7 146.0H784.2V149.5H780.7ZM809.7 146.0H813.2V149.5H809.7ZM973.7 146.0H977.2V149.5H973.7ZM130.9 149.2H147.3V152.8H130.9ZM224.2 149.2H227.7V152.8H224.2ZM562.0 149.2H565.5V152.8H562.0ZM619.9 149.2H623.4V152.8H619.9ZM780.7 149.2H784.2V152.8H780.7ZM809.7 149.2H813.2V152.8H809.7ZM970.5 149.2H974.0V152.8H970.5ZM130.9 152.5H147.3V156.0H130.9ZM275.7 152.5H279.2V156.0H275.7ZM581.3 152.5H584.8V156.0H581.3ZM619.9 152.5H623.4V156.0H619.9ZM780.7 152.5H784.2V156.0H780.7ZM812.9 152.5H816.4V156.0H812.9ZM967.3 152.5H970.8V156.0H967.3ZM127.7 155.7H147.3V159.2H127.7ZM272.5 155.7H279.2V159.2H272.5ZM619.9 155.7H623.4V159.2H619.9ZM780.7 155.7H784.2V159.2H780.7ZM812.9 155.7H819.6V159.2H812.9ZM967.3 155.7H970.8V159.2H967.3ZM124.5 158.9H150.5V162.4H124.5ZM214.6 158.9H218.1V162.4H214.6ZM259.6 158.9H269.6V162.4H259.6ZM584.5 158.9H588.0V162.4H584.5ZM616.7 158.9H620.2V162.4H616.7ZM623.1 158.9H626.6V162.4H623.1ZM780.7 158.9H784.2V162.4H780.7ZM816.1 158.9H822.8V162.4H816.1ZM880.4 158.9H884.0V162.4H880.4ZM967.3 158.9H970.8V162.4H967.3ZM121.3 162.1H153.8V165.6H121.3ZM587.7 162.1H594.5V165.6H587.7ZM619.9 162.1H623.4V165.6H619.9ZM626.3 162.1H639.5V165.6H626.3ZM780.7 162.1H784.2V165.6H780.7ZM822.5 162.1H848.6V165.6H822.5ZM877.2 162.1H880.7V165.6H877.2ZM121.3 165.3H160.2V168.8H121.3ZM594.2 165.3H600.9V168.8H594.2ZM623.1 165.3H626.6V168.8H623.1ZM636.0 165.3H662.0V168.8H636.0ZM777.5 165.3H781.0V168.8H777.5ZM848.3 165.3H851.8V168.8H848.3ZM874.0 165.3H877.5V168.8H874.0ZM970.5 165.3H974.0V168.8H970.5ZM121.3 168.5H166.6V172.1H121.3ZM626.3 168.5H629.8V172.1H626.3ZM658.5 168.5H662.0V172.1H658.5ZM774.3 168.5H777.8V172.1H774.3ZM851.5 168.5H874.3V172.1H851.5ZM970.5 168.5H974.0V172.1H970.5ZM118.1 171.8H173.1V175.3H118.1ZM626.3 171.8H633.1V175.3H626.3ZM658.5 171.8H662.0V175.3H658.5ZM764.6 171.8H771.4V175.3H764.6ZM118.1 175.0H137.7V178.5H118.1ZM166.3 175.0H182.7V178.5H166.3ZM629.5 175.0H633.1V178.5H629.5ZM658.5 175.0H662.0V178.5H658.5ZM755.0 175.0H761.7V178.5H755.0ZM973.7 175.0H977.2V178.5H973.7ZM118.1 178.2H134.5V181.7H118.1ZM179.2 178.2H182.7V181.7H179.2ZM629.5 178.2H633.1V181.7H629.5ZM658.5 178.2H662.0V181.7H658.5ZM748.6 178.2H755.3V181.7H748.6ZM976.9 178.2H980.5V181.7H976.9ZM118.1 181.4H131.2V184.9H118.1ZM629.5 181.4H633.1V184.9H629.5ZM658.5 181.4H662.0V184.9H658.5ZM742.1 181.4H748.9V184.9H742.1ZM883.7 181.4H896.8V184.9H883.7ZM980.2 181.4H983.7V184.9H980.2ZM114.9 184.6H128.0V188.1H114.9ZM626.3 184.6H629.8V188.1H626.3ZM661.7 184.6H665.2V188.1H661.7ZM735.7 184.6H742.4V188.1H735.7ZM880.4 184.6H884.0V188.1H880.4ZM983.4 184.6H986.9V188.1H983.4ZM114.9 187.8H128.0V191.4H114.9ZM182.4 187.8H185.9V191.4H182.4ZM198.5 187.8H202.0V191.4H198.5ZM204.9 187.8H208.4V191.4H204.9ZM623.1 187.8H626.6V191.4H623.1ZM664.9 187.8H678.1V191.4H664.9ZM726.0 187.8H736.0V191.4H726.0ZM880.4 187.8H884.0V191.4H880.4ZM986.6 187.8H990.1V191.4H986.6ZM114.9 191.1H124.8V194.6H114.9ZM185.6 191.1H198.8V194.6H185.6ZM208.1 191.1H211.7V194.6H208.1ZM616.7 191.1H626.6V194.6H616.7ZM677.8 191.1H684.5V194.6H677.8ZM719.6 191.1H726.3V194.6H719.6ZM877.2 191.1H880.7V194.6H877.2ZM986.6 191.1H990.1V194.6H986.6ZM114.9 194.3H124.8V197.8H114.9ZM211.4 194.3H214.9V197.8H211.4ZM613.5 194.3H620.2V197.8H613.5ZM684.2 194.3H687.7V197.8H684.2ZM713.2 194.3H716.7V197.8H713.2ZM877.2 194.3H880.7V197.8H877.2ZM114.9 197.5H124.8V201.0H114.9ZM217.8 197.5H221.3V201.0H217.8ZM607.0 197.5H617.0V201.0H607.0ZM687.4 197.5H694.2V201.0H687.4ZM700.3 197.5H710.3V201.0H700.3ZM877.2 197.5H880.7V201.0H877.2ZM989.8 197.5H993.3V201.0H989.8ZM114.9 200.7H121.6V204.2H114.9ZM597.4 200.7H610.5V204.2H597.4ZM877.2 200.7H880.7V204.2H877.2ZM993.0 200.7H1006.2V204.2H993.0ZM114.9 203.9H121.6V207.4H114.9ZM594.2 203.9H600.9V207.4H594.2ZM880.4 203.9H884.0V207.4H880.4ZM1005.9 203.9H1009.4V207.4H1005.9ZM114.9 207.1H121.6V210.7H114.9ZM574.9 207.1H597.7V210.7H574.9ZM880.4 207.1H884.0V210.7H880.4ZM1009.1 207.1H1012.6V210.7H1009.1ZM114.9 210.4H121.6V213.9H114.9ZM568.4 210.4H578.4V213.9H568.4ZM877.2 210.4H884.0V213.9H877.2ZM906.2 210.4H909.7V213.9H906.2ZM1012.3 210.4H1022.3V213.9H1012.3ZM114.9 213.6H121.6V217.1H114.9ZM272.5 213.6H276.0V217.1H272.5ZM562.0 213.6H571.9V217.1H562.0ZM874.0 213.6H877.5V217.1H874.0ZM1018.8 213.6H1028.7V217.1H1018.8ZM114.9 216.8H121.6V220.3H114.9ZM253.2 216.8H266.3V220.3H253.2ZM275.7 216.8H282.4V220.3H275.7ZM555.6 216.8H565.5V220.3H555.6ZM874.0 216.8H877.5V220.3H874.0ZM909.4 216.8H912.9V220.3H909.4ZM1028.4 216.8H1031.9V220.3H1028.4ZM114.9 220.0H121.6V223.5H114.9ZM266.0 220.0H269.6V223.5H266.0ZM278.9 220.0H285.6V223.5H278.9ZM549.1 220.0H559.1V223.5H549.1ZM874.0 220.0H877.5V223.5H874.0ZM1031.6 220.0H1038.4V223.5H1031.6ZM114.9 223.2H121.6V226.7H114.9ZM266.0 223.2H269.6V226.7H266.0ZM282.1 223.2H285.6V226.7H282.1ZM549.1 223.2H552.6V226.7H549.1ZM912.6 223.2H916.1V226.7H912.6ZM1038.1 223.2H1048.0V226.7H1038.1ZM114.9 226.4H128.0V230.0H114.9ZM266.0 226.4H269.6V230.0H266.0ZM282.1 226.4H288.9V230.0H282.1ZM549.1 226.4H552.6V230.0H549.1ZM877.2 226.4H880.7V230.0H877.2ZM915.8 226.4H919.3V230.0H915.8ZM1047.7 226.4H1057.7V230.0H1047.7ZM118.1 229.7H131.2V233.2H118.1ZM266.0 229.7H269.6V233.2H266.0ZM285.3 229.7H295.3V233.2H285.3ZM549.1 229.7H552.6V233.2H549.1ZM877.2 229.7H880.7V233.2H877.2ZM919.0 229.7H922.6V233.2H919.0ZM1057.4 229.7H1060.9V233.2H1057.4ZM124.5 232.9H134.5V236.4H124.5ZM259.6 232.9H266.3V236.4H259.6ZM285.3 232.9H298.5V236.4H285.3ZM549.1 232.9H552.6V236.4H549.1ZM877.2 232.9H880.7V236.4H877.2ZM1060.6 232.9H1064.1V236.4H1060.6ZM134.2 236.1H140.9V239.6H134.2ZM288.6 236.1H301.7V239.6H288.6ZM549.1 236.1H552.6V239.6H549.1ZM922.3 236.1H925.8V239.6H922.3ZM1063.8 236.1H1070.5V239.6H1063.8ZM140.6 239.3H144.1V242.8H140.6ZM288.6 239.3H311.4V242.8H288.6ZM549.1 239.3H552.6V242.8H549.1ZM925.5 239.3H929.0V242.8H925.5ZM1070.2 239.3H1077.0V242.8H1070.2ZM143.8 242.5H147.3V246.0H143.8ZM285.3 242.5H298.5V246.0H285.3ZM549.1 242.5H552.6V246.0H549.1ZM880.4 242.5H884.0V246.0H880.4ZM928.7 242.5H932.2V246.0H928.7ZM1073.5 242.5H1080.2V246.0H1073.5ZM147.0 245.7H150.5V249.3H147.0ZM278.9 245.7H292.1V249.3H278.9ZM549.1 245.7H555.9V249.3H549.1ZM883.7 245.7H887.2V249.3H883.7ZM931.9 245.7H935.4V249.3H931.9ZM1079.9 245.7H1083.4V249.3H1079.9ZM150.2 249.0H153.8V252.5H150.2ZM275.7 249.0H292.1V252.5H275.7ZM552.3 249.0H555.9V252.5H552.3ZM935.1 249.0H938.6V252.5H935.1ZM944.8 249.0H951.5V252.5H944.8ZM1083.1 249.0H1086.6V252.5H1083.1ZM150.2 252.2H153.8V255.7H150.2ZM552.3 252.2H555.9V255.7H552.3ZM935.1 252.2H941.9V255.7H935.1ZM967.3 252.2H970.8V255.7H967.3ZM1086.3 252.2H1089.8V255.7H1086.3ZM150.2 255.4H153.8V258.9H150.2ZM269.3 255.4H272.8V258.9H269.3ZM552.3 255.4H559.1V258.9H552.3ZM980.2 255.4H983.7V258.9H980.2ZM1089.5 255.4H1093.1V258.9H1089.5ZM150.2 258.6H157.0V262.1H150.2ZM555.6 258.6H559.1V262.1H555.6ZM1092.8 258.6H1096.3V262.1H1092.8ZM150.2 261.8H157.0V265.3H150.2ZM208.1 261.8H211.7V265.3H208.1ZM266.0 261.8H269.6V265.3H266.0ZM555.6 261.8H559.1V265.3H555.6ZM886.9 261.8H890.4V265.3H886.9ZM993.0 261.8H996.5V265.3H993.0ZM150.2 265.0H157.0V268.6H150.2ZM172.8 265.0H179.5V268.6H172.8ZM198.5 265.0H202.0V268.6H198.5ZM208.1 265.0H211.7V268.6H208.1ZM555.6 265.0H559.1V268.6H555.6ZM886.9 265.0H890.4V268.6H886.9ZM996.2 265.0H999.8V268.6H996.2ZM1096.0 265.0H1099.5V268.6H1096.0ZM153.5 268.3H160.2V271.8H153.5ZM169.5 268.3H176.3V271.8H169.5ZM201.7 268.3H205.2V271.8H201.7ZM208.1 268.3H211.7V271.8H208.1ZM227.4 268.3H231.0V271.8H227.4ZM262.8 268.3H266.3V271.8H262.8ZM555.6 268.3H559.1V271.8H555.6ZM996.2 268.3H999.8V271.8H996.2ZM1099.2 268.3H1102.7V271.8H1099.2ZM153.5 271.5H163.4V275.0H153.5ZM166.3 271.5H176.3V275.0H166.3ZM227.4 271.5H231.0V275.0H227.4ZM256.4 271.5H259.9V275.0H256.4ZM555.6 271.5H559.1V275.0H555.6ZM996.2 271.5H999.8V275.0H996.2ZM1102.4 271.5H1105.9V275.0H1102.4ZM153.5 274.7H176.3V278.2H153.5ZM227.4 274.7H231.0V278.2H227.4ZM246.7 274.7H253.5V278.2H246.7ZM555.6 274.7H559.1V278.2H555.6ZM996.2 274.7H999.8V278.2H996.2ZM153.5 277.9H173.1V281.4H153.5ZM227.4 277.9H231.0V281.4H227.4ZM243.5 277.9H247.0V281.4H243.5ZM555.6 277.9H562.3V281.4H555.6ZM890.1 277.9H893.6V281.4H890.1ZM996.2 277.9H1003.0V281.4H996.2ZM153.5 281.1H173.1V284.6H153.5ZM240.3 281.1H243.8V284.6H240.3ZM558.8 281.1H562.3V284.6H558.8ZM890.1 281.1H893.6V284.6H890.1ZM999.5 281.1H1003.0V284.6H999.5ZM1108.8 281.1H1112.4V284.6H1108.8ZM153.5 284.3H173.1V287.9H153.5ZM237.1 284.3H240.6V287.9H237.1ZM558.8 284.3H562.3V287.9H558.8ZM890.1 284.3H893.6V287.9H890.1ZM1002.7 284.3H1006.2V287.9H1002.7ZM1050.9 284.3H1057.7V287.9H1050.9ZM1060.6 284.3H1070.5V287.9H1060.6ZM156.7 287.6H176.3V291.1H156.7ZM230.7 287.6H237.4V291.1H230.7ZM558.8 287.6H562.3V291.1H558.8ZM886.9 287.6H890.4V291.1H886.9ZM1002.7 287.6H1009.4V291.1H1002.7ZM1047.7 287.6H1051.2V291.1H1047.7ZM1073.5 287.6H1080.2V291.1H1073.5ZM1112.1 287.6H1115.6V291.1H1112.1ZM230.7 290.8H234.2V294.3H230.7ZM558.8 290.8H565.5V294.3H558.8ZM886.9 290.8H890.4V294.3H886.9ZM1005.9 290.8H1012.6V294.3H1005.9ZM1047.7 290.8H1051.2V294.3H1047.7ZM1079.9 290.8H1083.4V294.3H1079.9ZM1112.1 290.8H1115.6V294.3H1112.1ZM227.4 294.0H231.0V297.5H227.4ZM562.0 294.0H565.5V297.5H562.0ZM886.9 294.0H890.4V297.5H886.9ZM1009.1 294.0H1019.1V297.5H1009.1ZM1044.5 294.0H1051.2V297.5H1044.5ZM1115.3 294.0H1118.8V297.5H1115.3ZM562.0 297.2H565.5V300.7H562.0ZM886.9 297.2H890.4V300.7H886.9ZM1015.5 297.2H1025.5V300.7H1015.5ZM1044.5 297.2H1051.2V300.7H1044.5ZM1089.5 297.2H1093.1V300.7H1089.5ZM562.0 300.4H565.5V303.9H562.0ZM886.9 300.4H890.4V303.9H886.9ZM1022.0 300.4H1048.0V303.9H1022.0ZM1092.8 300.4H1096.3V303.9H1092.8ZM562.0 303.6H568.7V307.2H562.0ZM886.9 303.6H890.4V307.2H886.9ZM1028.4 303.6H1044.8V307.2H1028.4ZM1096.0 303.6H1099.5V307.2H1096.0ZM1118.5 303.6H1122.0V307.2H1118.5ZM150.2 306.9H153.8V310.4H150.2ZM565.2 306.9H568.7V310.4H565.2ZM886.9 306.9H890.4V310.4H886.9ZM1096.0 306.9H1099.5V310.4H1096.0ZM1121.7 306.9H1125.2V310.4H1121.7ZM140.6 310.1H153.8V313.6H140.6ZM565.2 310.1H571.9V313.6H565.2ZM890.1 310.1H893.6V313.6H890.1ZM1096.0 310.1H1102.7V313.6H1096.0ZM1121.7 310.1H1125.2V313.6H1121.7ZM130.9 313.3H144.1V316.8H130.9ZM150.2 313.3H153.8V316.8H150.2ZM568.4 313.3H571.9V316.8H568.4ZM890.1 313.3H893.6V316.8H890.1ZM1096.0 313.3H1102.7V316.8H1096.0ZM1121.7 313.3H1125.2V316.8H1121.7ZM124.5 316.5H131.2V320.0H124.5ZM153.5 316.5H157.0V320.0H153.5ZM568.4 316.5H575.2V320.0H568.4ZM890.1 316.5H893.6V320.0H890.1ZM1096.0 316.5H1102.7V320.0H1096.0ZM1118.5 316.5H1125.2V320.0H1118.5ZM118.1 319.7H124.8V323.2H118.1ZM156.7 319.7H160.2V323.2H156.7ZM571.6 319.7H575.2V323.2H571.6ZM890.1 319.7H893.6V323.2H890.1ZM1096.0 319.7H1102.7V323.2H1096.0ZM1118.5 319.7H1125.2V323.2H1118.5ZM571.6 322.9H578.4V326.5H571.6ZM890.1 322.9H893.6V326.5H890.1ZM1096.0 322.9H1102.7V326.5H1096.0ZM1118.5 322.9H1125.2V326.5H1118.5ZM574.9 326.2H578.4V329.7H574.9ZM890.1 326.2H893.6V329.7H890.1ZM1096.0 326.2H1099.5V329.7H1096.0ZM1118.5 326.2H1125.2V329.7H1118.5ZM108.4 329.4H111.9V332.9H108.4ZM159.9 329.4H163.4V332.9H159.9ZM574.9 329.4H581.6V332.9H574.9ZM890.1 329.4H893.6V332.9H890.1ZM1092.8 329.4H1099.5V332.9H1092.8ZM1118.5 329.4H1125.2V332.9H1118.5ZM108.4 332.6H111.9V336.1H108.4ZM159.9 332.6H163.4V336.1H159.9ZM578.1 332.6H581.6V336.1H578.1ZM890.1 332.6H893.6V336.1H890.1ZM1092.8 332.6H1096.3V336.1H1092.8ZM1118.5 332.6H1125.2V336.1H1118.5ZM108.4 335.8H111.9V339.3H108.4ZM163.1 335.8H166.6V339.3H163.1ZM578.1 335.8H581.6V339.3H578.1ZM890.1 335.8H893.6V339.3H890.1ZM1089.5 335.8H1093.1V339.3H1089.5ZM1118.5 335.8H1125.2V339.3H1118.5ZM108.4 339.0H111.9V342.5H108.4ZM159.9 339.0H163.4V342.5H159.9ZM578.1 339.0H584.8V342.5H578.1ZM893.3 339.0H896.8V342.5H893.3ZM1086.3 339.0H1093.1V342.5H1086.3ZM1118.5 339.0H1122.0V342.5H1118.5ZM108.4 342.2H111.9V345.8H108.4ZM159.9 342.2H163.4V345.8H159.9ZM581.3 342.2H584.8V345.8H581.3ZM890.1 342.2H893.6V345.8H890.1ZM1086.3 342.2H1089.8V345.8H1086.3ZM1112.1 342.2H1118.8V345.8H1112.1ZM108.4 345.5H111.9V349.0H108.4ZM159.9 345.5H163.4V349.0H159.9ZM581.3 345.5H584.8V349.0H581.3ZM886.9 345.5H890.4V349.0H886.9ZM1083.1 345.5H1086.6V349.0H1083.1ZM1105.6 345.5H1115.6V349.0H1105.6ZM108.4 348.7H111.9V352.2H108.4ZM156.7 348.7H160.2V352.2H156.7ZM581.3 348.7H588.0V352.2H581.3ZM883.7 348.7H887.2V352.2H883.7ZM1079.9 348.7H1086.6V352.2H1079.9ZM1099.2 348.7H1109.1V352.2H1099.2ZM108.4 351.9H111.9V355.4H108.4ZM153.5 351.9H157.0V355.4H153.5ZM584.5 351.9H588.0V355.4H584.5ZM880.4 351.9H884.0V355.4H880.4ZM1079.9 351.9H1083.4V355.4H1079.9ZM1089.5 351.9H1102.7V355.4H1089.5ZM108.4 355.1H111.9V358.6H108.4ZM150.2 355.1H153.8V358.6H150.2ZM584.5 355.1H591.2V358.6H584.5ZM880.4 355.1H884.0V358.6H880.4ZM1076.7 355.1H1096.3V358.6H1076.7ZM140.6 358.3H150.5V361.8H140.6ZM587.7 358.3H591.2V361.8H587.7ZM877.2 358.3H884.0V361.8H877.2ZM1076.7 358.3H1086.6V361.8H1076.7ZM127.7 361.5H140.9V365.1H127.7ZM587.7 361.5H591.2V365.1H587.7ZM880.4 361.5H884.0V365.1H880.4ZM587.7 364.8H591.2V368.3H587.7ZM880.4 364.8H884.0V368.3H880.4ZM587.7 368.0H591.2V371.5H587.7ZM880.4 368.0H884.0V371.5H880.4ZM587.7 371.2H591.2V374.7H587.7ZM880.4 371.2H884.0V374.7H880.4ZM590.9 374.4H594.5V377.9H590.9ZM877.2 374.4H884.0V377.9H877.2ZM594.2 377.6H597.7V381.1H594.2ZM874.0 377.6H880.7V381.1H874.0ZM594.2 380.8H600.9V384.4H594.2ZM867.6 380.8H877.5V384.4H867.6ZM597.4 384.1H604.1V387.6H597.4ZM864.4 384.1H871.1V387.6H864.4ZM600.6 387.3H604.1V390.8H600.6ZM864.4 387.3H867.9V390.8H864.4ZM600.6 390.5H604.1V394.0H600.6ZM857.9 390.5H864.7V394.0H857.9ZM600.6 393.7H604.1V397.2H600.6ZM854.7 393.7H861.4V397.2H854.7ZM600.6 396.9H604.1V400.4H600.6ZM851.5 396.9H858.2V400.4H851.5ZM603.8 400.1H607.3V403.7H603.8ZM845.1 400.1H855.0V403.7H845.1ZM603.8 403.4H610.5V406.9H603.8ZM841.8 403.4H848.6V406.9H841.8ZM607.0 406.6H610.5V410.1H607.0ZM838.6 406.6H845.4V410.1H838.6ZM610.2 409.8H613.8V413.3H610.2ZM835.4 409.8H842.1V413.3H835.4ZM613.5 413.0H617.0V416.5H613.5ZM829.0 413.0H835.7V416.5H829.0ZM613.5 416.2H620.2V419.7H613.5ZM825.8 416.2H832.5V419.7H825.8ZM616.7 419.4H623.4V423.0H616.7ZM819.3 419.4H826.1V423.0H819.3ZM619.9 422.7H629.8V426.2H619.9ZM809.7 422.7H822.8V426.2H809.7ZM626.3 425.9H629.8V429.4H626.3ZM803.2 425.9H813.2V429.4H803.2ZM626.3 429.1H633.1V432.6H626.3ZM796.8 429.1H806.8V432.6H796.8ZM629.5 432.3H642.7V435.8H629.5ZM793.6 432.3H800.3V435.8H793.6ZM639.2 435.5H649.1V439.0H639.2ZM787.2 435.5H797.1V439.0H787.2ZM645.6 438.7H649.1V442.3H645.6ZM777.5 438.7H790.7V442.3H777.5ZM645.6 442.0H652.4V445.5H645.6ZM771.1 442.0H781.0V445.5H771.1ZM648.8 445.2H652.4V448.7H648.8ZM764.6 445.2H774.6V448.7H764.6ZM648.8 448.4H652.4V451.9H648.8ZM755.0 448.4H768.2V451.9H755.0ZM648.8 451.6H674.9V455.1H648.8ZM745.3 451.6H758.5V455.1H745.3ZM648.8 454.8H658.8V458.4H648.8ZM671.4 454.8H678.1V458.4H671.4ZM732.5 454.8H748.9V458.4H732.5ZM674.6 458.1H684.5V461.6H674.6ZM703.5 458.1H736.0V461.6H703.5ZM677.8 461.3H707.0V464.8H677.8ZM716.4 461.3H719.9V464.8H716.4ZM439.8 589.9H452.9V593.5H439.8ZM420.4 593.2H456.1V596.7H420.4ZM407.6 596.4H420.7V599.9H407.6ZM449.4 596.4H459.4V599.9H449.4ZM394.7 599.6H414.3V603.1H394.7ZM452.6 599.6H459.4V603.1H452.6ZM394.7 602.8H407.9V606.3H394.7ZM455.8 602.8H459.4V606.3H455.8ZM394.7 606.0H404.7V609.5H394.7ZM455.8 606.0H459.4V609.5H455.8ZM471.9 606.0H475.4V609.5H471.9ZM394.7 609.2H401.4V612.8H394.7ZM452.6 609.2H456.1V612.8H452.6ZM459.1 609.2H465.8V612.8H459.1ZM475.1 609.2H478.7V612.8H475.1ZM394.7 612.5H401.4V616.0H394.7ZM452.6 612.5H456.1V616.0H452.6ZM459.1 612.5H462.6V616.0H459.1ZM478.4 612.5H481.9V616.0H478.4ZM397.9 615.7H401.4V619.2H397.9ZM478.4 615.7H481.9V619.2H478.4ZM397.9 618.9H404.7V622.4H397.9ZM478.4 618.9H481.9V622.4H478.4ZM404.4 622.1H407.9V625.6H404.4ZM407.6 625.3H420.7V628.8H407.6Z"/>
<path fill="#2cb7f0" d="M552.3 123.5H559.1V127.0H552.3ZM600.6 126.7H607.3V130.2H600.6ZM886.9 126.7H893.6V130.2H886.9ZM938.3 126.7H957.9V130.2H938.3ZM597.4 129.9H600.9V133.5H597.4ZM610.2 129.9H620.2V133.5H610.2ZM883.7 129.9H887.2V133.5H883.7ZM957.6 129.9H967.6V133.5H957.6ZM619.9 133.2H623.4V136.7H619.9ZM883.7 133.2H887.2V136.7H883.7ZM964.1 133.2H967.6V136.7H964.1ZM619.9 136.4H623.4V139.9H619.9ZM787.2 136.4H803.5V139.9H787.2ZM883.7 136.4H887.2V139.9H883.7ZM964.1 136.4H967.6V139.9H964.1ZM246.7 139.6H253.5V143.1H246.7ZM275.7 139.6H279.2V143.1H275.7ZM619.9 139.6H623.4V143.1H619.9ZM783.9 139.6H790.7V143.1H783.9ZM800.0 139.6H806.8V143.1H800.0ZM883.7 139.6H887.2V143.1H883.7ZM964.1 139.6H970.8V143.1H964.1ZM783.9 142.8H790.7V146.3H783.9ZM803.2 142.8H806.8V146.3H803.2ZM883.7 142.8H887.2V146.3H883.7ZM967.3 142.8H970.8V146.3H967.3ZM275.7 146.0H279.2V149.5H275.7ZM783.9 146.0H787.5V149.5H783.9ZM803.2 146.0H810.0V149.5H803.2ZM883.7 146.0H887.2V149.5H883.7ZM967.3 146.0H974.0V149.5H967.3ZM275.7 149.2H279.2V152.8H275.7ZM578.1 149.2H581.6V152.8H578.1ZM783.9 149.2H787.5V152.8H783.9ZM806.5 149.2H810.0V152.8H806.5ZM883.7 149.2H887.2V152.8H883.7ZM967.3 149.2H970.8V152.8H967.3ZM221.0 152.5H224.5V156.0H221.0ZM783.9 152.5H787.5V156.0H783.9ZM809.7 152.5H813.2V156.0H809.7ZM883.7 152.5H887.2V156.0H883.7ZM964.1 152.5H967.6V156.0H964.1ZM217.8 155.7H221.3V159.2H217.8ZM269.3 155.7H272.8V159.2H269.3ZM584.5 155.7H588.0V159.2H584.5ZM610.2 155.7H617.0V159.2H610.2ZM783.9 155.7H787.5V159.2H783.9ZM809.7 155.7H813.2V159.2H809.7ZM883.7 155.7H887.2V159.2H883.7ZM964.1 155.7H967.6V159.2H964.1ZM217.8 158.9H221.3V162.4H217.8ZM603.8 158.9H607.3V162.4H603.8ZM619.9 158.9H623.4V162.4H619.9ZM783.9 158.9H787.5V162.4H783.9ZM812.9 158.9H816.4V162.4H812.9ZM883.7 158.9H887.2V162.4H883.7ZM964.1 158.9H967.6V162.4H964.1ZM600.6 162.1H604.1V165.6H600.6ZM623.1 162.1H626.6V165.6H623.1ZM783.9 162.1H787.5V165.6H783.9ZM816.1 162.1H822.8V165.6H816.1ZM880.4 162.1H884.0V165.6H880.4ZM964.1 162.1H970.8V165.6H964.1ZM626.3 165.3H636.3V168.8H626.3ZM780.7 165.3H784.2V168.8H780.7ZM822.5 165.3H848.6V168.8H822.5ZM877.2 165.3H884.0V168.8H877.2ZM967.3 165.3H970.8V168.8H967.3ZM629.5 168.5H658.8V172.1H629.5ZM777.5 168.5H781.0V172.1H777.5ZM845.1 168.5H851.8V172.1H845.1ZM874.0 168.5H880.7V172.1H874.0ZM967.3 168.5H970.8V172.1H967.3ZM632.8 171.8H636.3V175.3H632.8ZM648.8 171.8H658.8V175.3H648.8ZM771.1 171.8H777.8V175.3H771.1ZM851.5 171.8H877.5V175.3H851.5ZM967.3 171.8H974.0V175.3H967.3ZM137.4 175.0H166.6V178.5H137.4ZM632.8 175.0H636.3V178.5H632.8ZM652.1 175.0H658.8V178.5H652.1ZM761.4 175.0H771.4V178.5H761.4ZM970.5 175.0H974.0V178.5H970.5ZM134.2 178.2H179.5V181.7H134.2ZM632.8 178.2H636.3V181.7H632.8ZM655.3 178.2H658.8V181.7H655.3ZM755.0 178.2H761.7V181.7H755.0ZM880.4 178.2H890.4V181.7H880.4ZM973.7 178.2H977.2V181.7H973.7ZM130.9 181.4H182.7V184.9H130.9ZM632.8 181.4H636.3V184.9H632.8ZM655.3 181.4H658.8V184.9H655.3ZM748.6 181.4H755.3V184.9H748.6ZM877.2 181.4H884.0V184.9H877.2ZM973.7 181.4H980.5V184.9H973.7ZM127.7 184.6H163.4V188.1H127.7ZM172.8 184.6H182.7V188.1H172.8ZM629.5 184.6H636.3V188.1H629.5ZM655.3 184.6H662.0V188.1H655.3ZM742.1 184.6H745.6V188.1H742.1ZM874.0 184.6H880.7V188.1H874.0ZM896.5 184.6H900.0V188.1H896.5ZM980.2 184.6H983.7V188.1H980.2ZM127.7 187.8H153.8V191.4H127.7ZM176.0 187.8H182.7V191.4H176.0ZM201.7 187.8H205.2V191.4H201.7ZM626.3 187.8H633.1V191.4H626.3ZM658.5 187.8H665.2V191.4H658.5ZM735.7 187.8H739.2V191.4H735.7ZM874.0 187.8H880.7V191.4H874.0ZM899.7 187.8H903.3V191.4H899.7ZM980.2 187.8H986.9V191.4H980.2ZM124.5 191.1H147.3V194.6H124.5ZM182.4 191.1H185.9V194.6H182.4ZM198.5 191.1H202.0V194.6H198.5ZM204.9 191.1H208.4V194.6H204.9ZM626.3 191.1H629.8V194.6H626.3ZM664.9 191.1H678.1V194.6H664.9ZM726.0 191.1H732.8V194.6H726.0ZM870.8 191.1H877.5V194.6H870.8ZM903.0 191.1H906.5V194.6H903.0ZM983.4 191.1H986.9V194.6H983.4ZM124.5 194.3H144.1V197.8H124.5ZM619.9 194.3H629.8V197.8H619.9ZM677.8 194.3H684.5V197.8H677.8ZM716.4 194.3H723.1V197.8H716.4ZM870.8 194.3H877.5V197.8H870.8ZM903.0 194.3H906.5V197.8H903.0ZM983.4 194.3H990.1V197.8H983.4ZM124.5 197.5H140.9V201.0H124.5ZM214.6 197.5H218.1V201.0H214.6ZM616.7 197.5H623.4V201.0H616.7ZM681.0 197.5H687.7V201.0H681.0ZM710.0 197.5H716.7V201.0H710.0ZM870.8 197.5H877.5V201.0H870.8ZM906.2 197.5H909.7V201.0H906.2ZM986.6 197.5H990.1V201.0H986.6ZM121.3 200.7H140.9V204.2H121.3ZM221.0 200.7H224.5V204.2H221.0ZM610.2 200.7H620.2V204.2H610.2ZM687.4 200.7H710.3V204.2H687.4ZM874.0 200.7H877.5V204.2H874.0ZM906.2 200.7H909.7V204.2H906.2ZM989.8 200.7H993.3V204.2H989.8ZM121.3 203.9H137.7V207.4H121.3ZM224.2 203.9H231.0V207.4H224.2ZM600.6 203.9H617.0V207.4H600.6ZM874.0 203.9H880.7V207.4H874.0ZM906.2 203.9H909.7V207.4H906.2ZM993.0 203.9H1006.2V207.4H993.0ZM121.3 207.1H137.7V210.7H121.3ZM230.7 207.1H234.2V210.7H230.7ZM597.4 207.1H604.1V210.7H597.4ZM877.2 207.1H880.7V210.7H877.2ZM906.2 207.1H909.7V210.7H906.2ZM1002.7 207.1H1009.4V210.7H1002.7ZM121.3 210.4H134.5V213.9H121.3ZM233.9 210.4H240.6V213.9H233.9ZM578.1 210.4H600.9V213.9H578.1ZM874.0 210.4H877.5V213.9H874.0ZM1005.9 210.4H1012.6V213.9H1005.9ZM121.3 213.6H134.5V217.1H121.3ZM240.3 213.6H247.0V217.1H240.3ZM571.6 213.6H594.5V217.1H571.6ZM909.4 213.6H912.9V217.1H909.4ZM1009.1 213.6H1019.1V217.1H1009.1ZM121.3 216.8H134.5V220.3H121.3ZM246.7 216.8H253.5V220.3H246.7ZM266.0 216.8H276.0V220.3H266.0ZM565.2 216.8H578.4V220.3H565.2ZM870.8 216.8H874.3V220.3H870.8ZM1015.5 216.8H1028.7V220.3H1015.5ZM121.3 220.0H134.5V223.5H121.3ZM250.0 220.0H253.5V223.5H250.0ZM269.3 220.0H279.2V223.5H269.3ZM558.8 220.0H571.9V223.5H558.8ZM912.6 220.0H916.1V223.5H912.6ZM1022.0 220.0H1031.9V223.5H1022.0ZM121.3 223.2H137.7V226.7H121.3ZM250.0 223.2H253.5V226.7H250.0ZM269.3 223.2H282.4V226.7H269.3ZM552.3 223.2H565.5V226.7H552.3ZM874.0 223.2H877.5V226.7H874.0ZM1028.4 223.2H1038.4V226.7H1028.4ZM127.7 226.4H140.9V230.0H127.7ZM250.0 226.4H253.5V230.0H250.0ZM269.3 226.4H282.4V230.0H269.3ZM552.3 226.4H559.1V230.0H552.3ZM874.0 226.4H877.5V230.0H874.0ZM919.0 226.4H922.6V230.0H919.0ZM1034.8 226.4H1048.0V230.0H1034.8ZM130.9 229.7H140.9V233.2H130.9ZM269.3 229.7H285.6V233.2H269.3ZM552.3 229.7H559.1V233.2H552.3ZM1044.5 229.7H1057.7V233.2H1044.5ZM134.2 232.9H144.1V236.4H134.2ZM253.2 232.9H259.9V236.4H253.2ZM266.0 232.9H285.6V236.4H266.0ZM552.3 232.9H559.1V236.4H552.3ZM922.3 232.9H925.8V236.4H922.3ZM1050.9 232.9H1060.9V236.4H1050.9ZM140.6 236.1H147.3V239.6H140.6ZM275.7 236.1H288.9V239.6H275.7ZM552.3 236.1H559.1V239.6H552.3ZM877.2 236.1H880.7V239.6H877.2ZM925.5 236.1H929.0V239.6H925.5ZM1057.4 236.1H1064.1V239.6H1057.4ZM143.8 239.3H150.5V242.8H143.8ZM275.7 239.3H288.9V242.8H275.7ZM552.3 239.3H559.1V242.8H552.3ZM877.2 239.3H880.7V242.8H877.2ZM928.7 239.3H932.2V242.8H928.7ZM1063.8 239.3H1070.5V242.8H1063.8ZM147.0 242.5H153.8V246.0H147.0ZM275.7 242.5H285.6V246.0H275.7ZM552.3 242.5H559.1V246.0H552.3ZM877.2 242.5H880.7V246.0H877.2ZM931.9 242.5H935.4V246.0H931.9ZM1070.2 242.5H1073.8V246.0H1070.2ZM150.2 245.7H157.0V249.3H150.2ZM272.5 245.7H279.2V249.3H272.5ZM555.6 245.7H562.3V249.3H555.6ZM880.4 245.7H884.0V249.3H880.4ZM935.1 245.7H938.6V249.3H935.1ZM941.6 245.7H948.3V249.3H941.6ZM1073.5 245.7H1080.2V249.3H1073.5ZM153.5 249.0H160.2V252.5H153.5ZM269.3 249.0H276.0V252.5H269.3ZM555.6 249.0H562.3V252.5H555.6ZM883.7 249.0H887.2V252.5H883.7ZM938.3 249.0H945.1V252.5H938.3ZM951.2 249.0H967.6V252.5H951.2ZM1076.7 249.0H1083.4V252.5H1076.7ZM153.5 252.2H160.2V255.7H153.5ZM269.3 252.2H272.8V255.7H269.3ZM555.6 252.2H562.3V255.7H555.6ZM883.7 252.2H887.2V255.7H883.7ZM970.5 252.2H980.5V255.7H970.5ZM1083.1 252.2H1086.6V255.7H1083.1ZM153.5 255.4H163.4V258.9H153.5ZM266.0 255.4H269.6V258.9H266.0ZM558.8 255.4H565.5V258.9H558.8ZM883.7 255.4H887.2V258.9H883.7ZM983.4 255.4H986.9V258.9H983.4ZM1086.3 255.4H1089.8V258.9H1086.3ZM156.7 258.6H189.1V262.1H156.7ZM211.4 258.6H224.5V262.1H211.4ZM266.0 258.6H269.6V262.1H266.0ZM558.8 258.6H565.5V262.1H558.8ZM883.7 258.6H887.2V262.1H883.7ZM986.6 258.6H993.3V262.1H986.6ZM1089.5 258.6H1093.1V262.1H1089.5ZM156.7 261.8H202.0V265.3H156.7ZM227.4 261.8H231.0V265.3H227.4ZM262.8 261.8H266.3V265.3H262.8ZM558.8 261.8H565.5V265.3H558.8ZM883.7 261.8H887.2V265.3H883.7ZM996.2 261.8H999.8V265.3H996.2ZM1092.8 261.8H1096.3V265.3H1092.8ZM156.7 265.0H173.1V268.6H156.7ZM201.7 265.0H208.4V268.6H201.7ZM227.4 265.0H231.0V268.6H227.4ZM262.8 265.0H266.3V268.6H262.8ZM558.8 265.0H565.5V268.6H558.8ZM883.7 265.0H887.2V268.6H883.7ZM999.5 265.0H1003.0V268.6H999.5ZM159.9 268.3H169.8V271.8H159.9ZM204.9 268.3H208.4V271.8H204.9ZM256.4 268.3H263.1V271.8H256.4ZM558.8 268.3H565.5V271.8H558.8ZM886.9 268.3H890.4V271.8H886.9ZM999.5 268.3H1003.0V271.8H999.5ZM163.1 271.5H166.6V275.0H163.1ZM253.2 271.5H256.7V275.0H253.2ZM558.8 271.5H565.5V275.0H558.8ZM886.9 271.5H890.4V275.0H886.9ZM999.5 271.5H1006.2V275.0H999.5ZM243.5 274.7H247.0V278.2H243.5ZM558.8 274.7H565.5V278.2H558.8ZM886.9 274.7H890.4V278.2H886.9ZM999.5 274.7H1006.2V278.2H999.5ZM1102.4 274.7H1105.9V278.2H1102.4ZM230.7 277.9H234.2V281.4H230.7ZM240.3 277.9H243.8V281.4H240.3ZM562.0 277.9H568.7V281.4H562.0ZM886.9 277.9H890.4V281.4H886.9ZM1002.7 277.9H1009.4V281.4H1002.7ZM1105.6 277.9H1109.1V281.4H1105.6ZM230.7 281.1H240.6V284.6H230.7ZM562.0 281.1H568.7V284.6H562.0ZM1002.7 281.1H1012.6V284.6H1002.7ZM230.7 284.3H237.4V287.9H230.7ZM562.0 284.3H568.7V287.9H562.0ZM886.9 284.3H890.4V287.9H886.9ZM1005.9 284.3H1012.6V287.9H1005.9ZM1044.5 284.3H1051.2V287.9H1044.5ZM1070.2 284.3H1073.8V287.9H1070.2ZM1108.8 284.3H1112.4V287.9H1108.8ZM562.0 287.6H568.7V291.1H562.0ZM1009.1 287.6H1019.1V291.1H1009.1ZM1041.3 287.6H1048.0V291.1H1041.3ZM565.2 290.8H568.7V294.3H565.2ZM883.7 290.8H887.2V294.3H883.7ZM1012.3 290.8H1025.5V294.3H1012.3ZM1041.3 290.8H1048.0V294.3H1041.3ZM1083.1 290.8H1086.6V294.3H1083.1ZM565.2 294.0H571.9V297.5H565.2ZM883.7 294.0H887.2V297.5H883.7ZM1018.8 294.0H1044.8V297.5H1018.8ZM1086.3 294.0H1093.1V297.5H1086.3ZM1112.1 294.0H1115.6V297.5H1112.1ZM565.2 297.2H571.9V300.7H565.2ZM883.7 297.2H887.2V300.7H883.7ZM1025.2 297.2H1044.8V300.7H1025.2ZM1092.8 297.2H1096.3V300.7H1092.8ZM1112.1 297.2H1118.8V300.7H1112.1ZM565.2 300.4H571.9V303.9H565.2ZM883.7 300.4H887.2V303.9H883.7ZM1096.0 300.4H1102.7V303.9H1096.0ZM1112.1 300.4H1118.8V303.9H1112.1ZM568.4 303.6H571.9V307.2H568.4ZM883.7 303.6H887.2V307.2H883.7ZM1099.2 303.6H1102.7V307.2H1099.2ZM1112.1 303.6H1118.8V307.2H1112.1ZM568.4 306.9H575.2V310.4H568.4ZM883.7 306.9H887.2V310.4H883.7ZM1099.2 306.9H1105.9V310.4H1099.2ZM1112.1 306.9H1122.0V310.4H1112.1ZM571.6 310.1H575.2V313.6H571.6ZM886.9 310.1H890.4V313.6H886.9ZM1102.4 310.1H1105.9V313.6H1102.4ZM1115.3 310.1H1122.0V313.6H1115.3ZM143.8 313.3H150.5V316.8H143.8ZM571.6 313.3H578.4V316.8H571.6ZM886.9 313.3H890.4V316.8H886.9ZM1102.4 313.3H1105.9V316.8H1102.4ZM1115.3 313.3H1122.0V316.8H1115.3ZM130.9 316.5H153.8V320.0H130.9ZM574.9 316.5H578.4V320.0H574.9ZM886.9 316.5H890.4V320.0H886.9ZM1102.4 316.5H1109.1V320.0H1102.4ZM1112.1 316.5H1118.8V320.0H1112.1ZM124.5 319.7H134.5V323.2H124.5ZM147.0 319.7H157.0V323.2H147.0ZM574.9 319.7H581.6V323.2H574.9ZM886.9 319.7H890.4V323.2H886.9ZM1102.4 319.7H1109.1V323.2H1102.4ZM1112.1 319.7H1118.8V323.2H1112.1ZM111.6 322.9H124.8V326.5H111.6ZM153.5 322.9H160.2V326.5H153.5ZM578.1 322.9H581.6V326.5H578.1ZM886.9 322.9H890.4V326.5H886.9ZM1102.4 322.9H1109.1V326.5H1102.4ZM1112.1 322.9H1118.8V326.5H1112.1ZM111.6 326.2H115.2V329.7H111.6ZM156.7 326.2H160.2V329.7H156.7ZM578.1 326.2H584.8V329.7H578.1ZM886.9 326.2H890.4V329.7H886.9ZM1099.2 326.2H1105.9V329.7H1099.2ZM1112.1 326.2H1118.8V329.7H1112.1ZM111.6 329.4H115.2V332.9H111.6ZM156.7 329.4H160.2V332.9H156.7ZM581.3 329.4H584.8V332.9H581.3ZM886.9 329.4H890.4V332.9H886.9ZM1099.2 329.4H1105.9V332.9H1099.2ZM1112.1 329.4H1118.8V332.9H1112.1ZM581.3 332.6H584.8V336.1H581.3ZM886.9 332.6H890.4V336.1H886.9ZM1096.0 332.6H1102.7V336.1H1096.0ZM1112.1 332.6H1118.8V336.1H1112.1ZM159.9 335.8H163.4V339.3H159.9ZM581.3 335.8H588.0V339.3H581.3ZM886.9 335.8H890.4V339.3H886.9ZM1092.8 335.8H1102.7V339.3H1092.8ZM1112.1 335.8H1118.8V339.3H1112.1ZM584.5 339.0H588.0V342.5H584.5ZM886.9 339.0H893.6V342.5H886.9ZM1092.8 339.0H1099.5V342.5H1092.8ZM1105.6 339.0H1118.8V342.5H1105.6ZM584.5 342.2H588.0V345.8H584.5ZM883.7 342.2H890.4V345.8H883.7ZM1089.5 342.2H1096.3V345.8H1089.5ZM1099.2 342.2H1112.4V345.8H1099.2ZM584.5 345.5H591.2V349.0H584.5ZM880.4 345.5H887.2V349.0H880.4ZM1086.3 345.5H1105.9V349.0H1086.3ZM587.7 348.7H591.2V352.2H587.7ZM877.2 348.7H884.0V352.2H877.2ZM1086.3 348.7H1099.5V352.2H1086.3ZM587.7 351.9H594.5V355.4H587.7ZM877.2 351.9H880.7V355.4H877.2ZM1083.1 351.9H1089.8V355.4H1083.1ZM147.0 355.1H150.5V358.6H147.0ZM590.9 355.1H594.5V358.6H590.9ZM874.0 355.1H880.7V358.6H874.0ZM111.6 358.3H115.2V361.8H111.6ZM137.4 358.3H140.9V361.8H137.4ZM590.9 358.3H594.5V361.8H590.9ZM874.0 358.3H877.5V361.8H874.0ZM111.6 361.5H128.0V365.1H111.6ZM590.9 361.5H594.5V365.1H590.9ZM874.0 361.5H880.7V365.1H874.0ZM590.9 364.8H594.5V368.3H590.9ZM874.0 364.8H880.7V368.3H874.0ZM590.9 368.0H597.7V371.5H590.9ZM877.2 368.0H880.7V371.5H877.2ZM590.9 371.2H597.7V374.7H590.9ZM874.0 371.2H880.7V374.7H874.0ZM594.2 374.4H600.9V377.9H594.2ZM870.8 374.4H877.5V377.9H870.8ZM597.4 377.6H604.1V381.1H597.4ZM864.4 377.6H874.3V381.1H864.4ZM600.6 380.8H607.3V384.4H600.6ZM861.1 380.8H867.9V384.4H861.1ZM603.8 384.1H607.3V387.6H603.8ZM857.9 384.1H864.7V387.6H857.9ZM603.8 387.3H607.3V390.8H603.8ZM854.7 387.3H864.7V390.8H854.7ZM603.8 390.5H610.5V394.0H603.8ZM851.5 390.5H858.2V394.0H851.5ZM603.8 393.7H610.5V397.2H603.8ZM848.3 393.7H855.0V397.2H848.3ZM603.8 396.9H610.5V400.4H603.8ZM841.8 396.9H851.8V400.4H841.8ZM607.0 400.1H613.8V403.7H607.0ZM838.6 400.1H845.4V403.7H838.6ZM610.2 403.4H617.0V406.9H610.2ZM835.4 403.4H842.1V406.9H835.4ZM610.2 406.6H620.2V410.1H610.2ZM832.2 406.6H838.9V410.1H832.2ZM613.5 409.8H623.4V413.3H613.5ZM825.8 409.8H835.7V413.3H825.8ZM616.7 413.0H623.4V416.5H616.7ZM819.3 413.0H829.3V416.5H819.3ZM619.9 416.2H629.8V419.7H619.9ZM812.9 416.2H826.1V419.7H812.9ZM623.1 419.4H633.1V423.0H623.1ZM803.2 419.4H819.6V423.0H803.2ZM629.5 422.7H636.3V426.2H629.5ZM796.8 422.7H810.0V426.2H796.8ZM629.5 425.9H642.7V429.4H629.5ZM793.6 425.9H803.5V429.4H793.6ZM632.8 429.1H649.1V432.6H632.8ZM787.2 429.1H797.1V432.6H787.2ZM642.4 432.3H652.4V435.8H642.4ZM777.5 432.3H793.9V435.8H777.5ZM648.8 435.5H655.6V439.0H648.8ZM771.1 435.5H787.5V439.0H771.1ZM648.8 438.7H655.6V442.3H648.8ZM764.6 438.7H777.8V442.3H764.6ZM652.1 442.0H658.8V445.5H652.1ZM755.0 442.0H771.4V445.5H755.0ZM652.1 445.2H674.9V448.7H652.1ZM745.3 445.2H764.9V448.7H745.3ZM652.1 448.4H678.1V451.9H652.1ZM732.5 448.4H755.3V451.9H732.5ZM674.6 451.6H681.3V455.1H674.6ZM722.8 451.6H745.6V455.1H722.8ZM677.8 454.8H691.0V458.4H677.8ZM703.5 454.8H732.8V458.4H703.5ZM684.2 458.1H703.8V461.6H684.2ZM420.4 596.4H449.7V599.9H420.4ZM414.0 599.6H420.7V603.1H414.0ZM449.4 599.6H452.9V603.1H449.4ZM407.6 602.8H414.3V606.3H407.6ZM452.6 602.8H456.1V606.3H452.6ZM404.4 606.0H411.1V609.5H404.4ZM452.6 606.0H456.1V609.5H452.6ZM401.1 609.2H407.9V612.8H401.1ZM465.5 609.2H475.4V612.8H465.5ZM401.1 612.5H404.7V616.0H401.1ZM449.4 612.5H452.9V616.0H449.4ZM462.3 612.5H465.8V616.0H462.3ZM475.1 612.5H478.7V616.0H475.1ZM401.1 615.7H404.7V619.2H401.1ZM404.4 618.9H407.9V622.4H404.4ZM407.6 622.1H411.1V625.6H407.6ZM430.1 622.1H433.6V625.6H430.1ZM475.1 622.1H478.7V625.6H475.1Z"/>
<path fill="#28bceb" d="M555.6 126.7H559.1V130.2H555.6ZM893.3 126.7H903.3V130.2H893.3ZM919.0 126.7H938.6V130.2H919.0ZM568.4 129.9H571.9V133.5H568.4ZM600.6 129.9H610.5V133.5H600.6ZM886.9 129.9H893.6V133.5H886.9ZM938.3 129.9H957.9V133.5H938.3ZM565.2 133.2H568.7V136.7H565.2ZM581.3 133.2H584.8V136.7H581.3ZM597.4 133.2H600.9V136.7H597.4ZM613.5 133.2H620.2V136.7H613.5ZM886.9 133.2H890.4V136.7H886.9ZM951.2 133.2H964.4V136.7H951.2ZM568.4 136.4H571.9V139.9H568.4ZM616.7 136.4H620.2V139.9H616.7ZM960.9 136.4H964.4V139.9H960.9ZM253.2 139.6H256.7V143.1H253.2ZM272.5 139.6H276.0V143.1H272.5ZM571.6 139.6H575.2V143.1H571.6ZM616.7 139.6H620.2V143.1H616.7ZM790.4 139.6H800.3V143.1H790.4ZM886.9 139.6H890.4V143.1H886.9ZM960.9 139.6H964.4V143.1H960.9ZM240.3 142.8H243.8V146.3H240.3ZM275.7 142.8H279.2V146.3H275.7ZM574.9 142.8H578.4V146.3H574.9ZM616.7 142.8H620.2V146.3H616.7ZM790.4 142.8H793.9V146.3H790.4ZM796.8 142.8H803.5V146.3H796.8ZM886.9 142.8H890.4V146.3H886.9ZM960.9 142.8H967.6V146.3H960.9ZM233.9 146.0H237.4V149.5H233.9ZM616.7 146.0H620.2V149.5H616.7ZM787.2 146.0H793.9V149.5H787.2ZM800.0 146.0H803.5V149.5H800.0ZM886.9 146.0H890.4V149.5H886.9ZM960.9 146.0H967.6V149.5H960.9ZM227.4 149.2H231.0V152.8H227.4ZM616.7 149.2H620.2V152.8H616.7ZM787.2 149.2H793.9V152.8H787.2ZM800.0 149.2H806.8V152.8H800.0ZM886.9 149.2H890.4V152.8H886.9ZM960.9 149.2H967.6V152.8H960.9ZM224.2 152.5H227.7V156.0H224.2ZM272.5 152.5H276.0V156.0H272.5ZM616.7 152.5H620.2V156.0H616.7ZM787.2 152.5H790.7V156.0H787.2ZM803.2 152.5H810.0V156.0H803.2ZM886.9 152.5H890.4V156.0H886.9ZM960.9 152.5H964.4V156.0H960.9ZM266.0 155.7H269.6V159.2H266.0ZM607.0 155.7H610.5V159.2H607.0ZM616.7 155.7H620.2V159.2H616.7ZM787.2 155.7H790.7V159.2H787.2ZM806.5 155.7H810.0V159.2H806.5ZM886.9 155.7H890.4V159.2H886.9ZM960.9 155.7H964.4V159.2H960.9ZM221.0 158.9H224.5V162.4H221.0ZM587.7 158.9H591.2V162.4H587.7ZM787.2 158.9H790.7V162.4H787.2ZM809.7 158.9H813.2V162.4H809.7ZM886.9 158.9H890.4V162.4H886.9ZM960.9 158.9H964.4V162.4H960.9ZM224.2 162.1H240.6V165.6H224.2ZM594.2 162.1H600.9V165.6H594.2ZM787.2 162.1H790.7V165.6H787.2ZM809.7 162.1H816.4V165.6H809.7ZM883.7 162.1H887.2V165.6H883.7ZM960.9 162.1H964.4V165.6H960.9ZM783.9 165.3H787.5V168.8H783.9ZM816.1 165.3H822.8V168.8H816.1ZM883.7 165.3H887.2V168.8H883.7ZM960.9 165.3H967.6V168.8H960.9ZM780.7 168.5H784.2V172.1H780.7ZM822.5 168.5H845.4V172.1H822.5ZM880.4 168.5H884.0V172.1H880.4ZM964.1 168.5H967.6V172.1H964.1ZM636.0 171.8H649.1V175.3H636.0ZM777.5 171.8H781.0V175.3H777.5ZM845.1 171.8H851.8V175.3H845.1ZM877.2 171.8H880.7V175.3H877.2ZM964.1 171.8H967.6V175.3H964.1ZM636.0 175.0H652.4V178.5H636.0ZM771.1 175.0H777.8V178.5H771.1ZM848.3 175.0H893.6V178.5H848.3ZM964.1 175.0H970.8V178.5H964.1ZM636.0 178.2H642.7V181.7H636.0ZM648.8 178.2H655.6V181.7H648.8ZM761.4 178.2H768.2V181.7H761.4ZM861.1 178.2H880.7V181.7H861.1ZM890.1 178.2H896.8V181.7H890.1ZM967.3 178.2H974.0V181.7H967.3ZM636.0 181.4H642.7V184.9H636.0ZM648.8 181.4H655.6V184.9H648.8ZM755.0 181.4H758.5V184.9H755.0ZM870.8 181.4H877.5V184.9H870.8ZM896.5 181.4H900.0V184.9H896.5ZM970.5 181.4H974.0V184.9H970.5ZM163.1 184.6H173.1V188.1H163.1ZM636.0 184.6H642.7V188.1H636.0ZM652.1 184.6H655.6V188.1H652.1ZM745.3 184.6H752.1V188.1H745.3ZM867.6 184.6H874.3V188.1H867.6ZM899.7 184.6H903.3V188.1H899.7ZM973.7 184.6H980.5V188.1H973.7ZM153.5 187.8H176.3V191.4H153.5ZM632.8 187.8H639.5V191.4H632.8ZM652.1 187.8H658.8V191.4H652.1ZM738.9 187.8H745.6V191.4H738.9ZM867.6 187.8H874.3V191.4H867.6ZM976.9 187.8H980.5V191.4H976.9ZM147.0 191.1H182.7V194.6H147.0ZM201.7 191.1H205.2V194.6H201.7ZM629.5 191.1H639.5V194.6H629.5ZM655.3 191.1H665.2V194.6H655.3ZM732.5 191.1H739.2V194.6H732.5ZM867.6 191.1H871.1V194.6H867.6ZM976.9 191.1H983.7V194.6H976.9ZM143.8 194.3H211.7V197.8H143.8ZM629.5 194.3H636.3V197.8H629.5ZM661.7 194.3H678.1V197.8H661.7ZM722.8 194.3H729.6V197.8H722.8ZM867.6 194.3H871.1V197.8H867.6ZM980.2 194.3H983.7V197.8H980.2ZM140.6 197.5H166.6V201.0H140.6ZM185.6 197.5H189.1V201.0H185.6ZM211.4 197.5H214.9V201.0H211.4ZM623.1 197.5H633.1V201.0H623.1ZM674.6 197.5H681.3V201.0H674.6ZM716.4 197.5H719.9V201.0H716.4ZM867.6 197.5H871.1V201.0H867.6ZM983.4 197.5H986.9V201.0H983.4ZM140.6 200.7H160.2V204.2H140.6ZM217.8 200.7H221.3V204.2H217.8ZM619.9 200.7H629.8V204.2H619.9ZM681.0 200.7H687.7V204.2H681.0ZM710.0 200.7H713.5V204.2H710.0ZM867.6 200.7H874.3V204.2H867.6ZM983.4 200.7H990.1V204.2H983.4ZM137.4 203.9H157.0V207.4H137.4ZM221.0 203.9H224.5V207.4H221.0ZM616.7 203.9H623.4V207.4H616.7ZM687.4 203.9H703.8V207.4H687.4ZM870.8 203.9H874.3V207.4H870.8ZM986.6 203.9H993.3V207.4H986.6ZM137.4 207.1H153.8V210.7H137.4ZM603.8 207.1H620.2V210.7H603.8ZM870.8 207.1H877.5V210.7H870.8ZM989.8 207.1H1003.0V210.7H989.8ZM134.2 210.4H153.8V213.9H134.2ZM600.6 210.4H613.8V213.9H600.6ZM870.8 210.4H874.3V213.9H870.8ZM909.4 210.4H912.9V213.9H909.4ZM999.5 210.4H1006.2V213.9H999.5ZM134.2 213.6H150.5V217.1H134.2ZM594.2 213.6H607.3V217.1H594.2ZM870.8 213.6H874.3V217.1H870.8ZM1002.7 213.6H1009.4V217.1H1002.7ZM134.2 216.8H150.5V220.3H134.2ZM578.1 216.8H600.9V220.3H578.1ZM912.6 216.8H916.1V220.3H912.6ZM1005.9 216.8H1015.8V220.3H1005.9ZM134.2 220.0H150.5V223.5H134.2ZM571.6 220.0H594.5V223.5H571.6ZM870.8 220.0H874.3V223.5H870.8ZM915.8 220.0H919.3V223.5H915.8ZM1012.3 220.0H1022.3V223.5H1012.3ZM137.4 223.2H150.5V226.7H137.4ZM565.2 223.2H581.6V226.7H565.2ZM870.8 223.2H874.3V226.7H870.8ZM915.8 223.2H919.3V226.7H915.8ZM1022.0 223.2H1028.7V226.7H1022.0ZM140.6 226.4H153.8V230.0H140.6ZM558.8 226.4H575.2V230.0H558.8ZM870.8 226.4H874.3V230.0H870.8ZM922.3 226.4H925.8V230.0H922.3ZM1028.4 226.4H1035.1V230.0H1028.4ZM140.6 229.7H153.8V233.2H140.6ZM250.0 229.7H253.5V233.2H250.0ZM558.8 229.7H571.9V233.2H558.8ZM874.0 229.7H877.5V233.2H874.0ZM922.3 229.7H925.8V233.2H922.3ZM1034.8 229.7H1044.8V233.2H1034.8ZM143.8 232.9H157.0V236.4H143.8ZM558.8 232.9H565.5V236.4H558.8ZM874.0 232.9H877.5V236.4H874.0ZM925.5 232.9H932.2V236.4H925.5ZM1041.3 232.9H1051.2V236.4H1041.3ZM147.0 236.1H160.2V239.6H147.0ZM259.6 236.1H276.0V239.6H259.6ZM558.8 236.1H565.5V239.6H558.8ZM874.0 236.1H877.5V239.6H874.0ZM928.7 236.1H935.4V239.6H928.7ZM1050.9 236.1H1057.7V239.6H1050.9ZM150.2 239.3H163.4V242.8H150.2ZM262.8 239.3H276.0V242.8H262.8ZM558.8 239.3H568.7V242.8H558.8ZM874.0 239.3H877.5V242.8H874.0ZM931.9 239.3H938.6V242.8H931.9ZM1057.4 239.3H1064.1V242.8H1057.4ZM153.5 242.5H166.6V246.0H153.5ZM266.0 242.5H276.0V246.0H266.0ZM558.8 242.5H568.7V246.0H558.8ZM874.0 242.5H877.5V246.0H874.0ZM935.1 242.5H948.3V246.0H935.1ZM1063.8 242.5H1070.5V246.0H1063.8ZM156.7 245.7H169.8V249.3H156.7ZM266.0 245.7H272.8V249.3H266.0ZM562.0 245.7H568.7V249.3H562.0ZM877.2 245.7H880.7V249.3H877.2ZM938.3 245.7H941.9V249.3H938.3ZM948.0 245.7H967.6V249.3H948.0ZM1067.0 245.7H1073.8V249.3H1067.0ZM159.9 249.0H176.3V252.5H159.9ZM266.0 249.0H269.6V252.5H266.0ZM562.0 249.0H568.7V252.5H562.0ZM877.2 249.0H884.0V252.5H877.2ZM967.3 249.0H974.0V252.5H967.3ZM1073.5 249.0H1077.0V252.5H1073.5ZM159.9 252.2H189.1V255.7H159.9ZM262.8 252.2H269.6V255.7H262.8ZM562.0 252.2H571.9V255.7H562.0ZM880.4 252.2H884.0V255.7H880.4ZM980.2 252.2H986.9V255.7H980.2ZM1079.9 252.2H1083.4V255.7H1079.9ZM163.1 255.4H198.8V258.9H163.1ZM262.8 255.4H266.3V258.9H262.8ZM565.2 255.4H571.9V258.9H565.2ZM880.4 255.4H884.0V258.9H880.4ZM986.6 255.4H990.1V258.9H986.6ZM1083.1 255.4H1086.6V258.9H1083.1ZM188.8 258.6H211.7V262.1H188.8ZM224.2 258.6H227.7V262.1H224.2ZM259.6 258.6H266.3V262.1H259.6ZM565.2 258.6H571.9V262.1H565.2ZM880.4 258.6H884.0V262.1H880.4ZM993.0 258.6H996.5V262.1H993.0ZM1086.3 258.6H1089.8V262.1H1086.3ZM201.7 261.8H208.4V265.3H201.7ZM259.6 261.8H263.1V265.3H259.6ZM565.2 261.8H571.9V265.3H565.2ZM880.4 261.8H884.0V265.3H880.4ZM999.5 261.8H1003.0V265.3H999.5ZM1089.5 261.8H1093.1V265.3H1089.5ZM256.4 265.0H263.1V268.6H256.4ZM565.2 265.0H571.9V268.6H565.2ZM880.4 265.0H884.0V268.6H880.4ZM1002.7 265.0H1006.2V268.6H1002.7ZM1092.8 265.0H1096.3V268.6H1092.8ZM230.7 268.3H234.2V271.8H230.7ZM250.0 268.3H256.7V271.8H250.0ZM565.2 268.3H571.9V271.8H565.2ZM883.7 268.3H887.2V271.8H883.7ZM1002.7 268.3H1009.4V271.8H1002.7ZM1096.0 268.3H1099.5V271.8H1096.0ZM230.7 271.5H234.2V275.0H230.7ZM243.5 271.5H253.5V275.0H243.5ZM565.2 271.5H571.9V275.0H565.2ZM883.7 271.5H887.2V275.0H883.7ZM1005.9 271.5H1012.6V275.0H1005.9ZM1099.2 271.5H1102.7V275.0H1099.2ZM230.7 274.7H243.8V278.2H230.7ZM565.2 274.7H571.9V278.2H565.2ZM883.7 274.7H887.2V278.2H883.7ZM1005.9 274.7H1015.8V278.2H1005.9ZM233.9 277.9H240.6V281.4H233.9ZM568.4 277.9H575.2V281.4H568.4ZM883.7 277.9H887.2V281.4H883.7ZM1009.1 277.9H1019.1V281.4H1009.1ZM1102.4 277.9H1105.9V281.4H1102.4ZM568.4 281.1H575.2V284.6H568.4ZM883.7 281.1H890.4V284.6H883.7ZM1012.3 281.1H1028.7V284.6H1012.3ZM1041.3 281.1H1064.1V284.6H1041.3ZM1105.6 281.1H1109.1V284.6H1105.6ZM568.4 284.3H575.2V287.9H568.4ZM883.7 284.3H887.2V287.9H883.7ZM1012.3 284.3H1044.8V287.9H1012.3ZM1073.5 284.3H1077.0V287.9H1073.5ZM568.4 287.6H575.2V291.1H568.4ZM883.7 287.6H887.2V291.1H883.7ZM1018.8 287.6H1041.6V291.1H1018.8ZM1079.9 287.6H1083.4V291.1H1079.9ZM1108.8 287.6H1112.4V291.1H1108.8ZM568.4 290.8H578.4V294.3H568.4ZM1025.2 290.8H1041.6V294.3H1025.2ZM1086.3 290.8H1089.8V294.3H1086.3ZM1108.8 290.8H1112.4V294.3H1108.8ZM571.6 294.0H578.4V297.5H571.6ZM1092.8 294.0H1096.3V297.5H1092.8ZM1105.6 294.0H1112.4V297.5H1105.6ZM571.6 297.2H578.4V300.7H571.6ZM880.4 297.2H884.0V300.7H880.4ZM1096.0 297.2H1102.7V300.7H1096.0ZM1105.6 297.2H1112.4V300.7H1105.6ZM571.6 300.4H578.4V303.9H571.6ZM880.4 300.4H884.0V303.9H880.4ZM1102.4 300.4H1112.4V303.9H1102.4ZM571.6 303.6H581.6V307.2H571.6ZM880.4 303.6H884.0V307.2H880.4ZM1102.4 303.6H1112.4V307.2H1102.4ZM574.9 306.9H581.6V310.4H574.9ZM880.4 306.9H884.0V310.4H880.4ZM1105.6 306.9H1112.4V310.4H1105.6ZM574.9 310.1H581.6V313.6H574.9ZM880.4 310.1H887.2V313.6H880.4ZM1105.6 310.1H1115.6V313.6H1105.6ZM578.1 313.3H584.8V316.8H578.1ZM883.7 313.3H887.2V316.8H883.7ZM1105.6 313.3H1115.6V316.8H1105.6ZM578.1 316.5H584.8V320.0H578.1ZM883.7 316.5H887.2V320.0H883.7ZM1108.8 316.5H1112.4V320.0H1108.8ZM134.2 319.7H147.3V323.2H134.2ZM581.3 319.7H588.0V323.2H581.3ZM883.7 319.7H887.2V323.2H883.7ZM1108.8 319.7H1112.4V323.2H1108.8ZM124.5 322.9H153.8V326.5H124.5ZM581.3 322.9H588.0V326.5H581.3ZM883.7 322.9H887.2V326.5H883.7ZM1108.8 322.9H1112.4V326.5H1108.8ZM114.9 326.2H134.5V329.7H114.9ZM143.8 326.2H157.0V329.7H143.8ZM584.5 326.2H591.2V329.7H584.5ZM883.7 326.2H887.2V329.7H883.7ZM1105.6 326.2H1112.4V329.7H1105.6ZM114.9 329.4H121.6V332.9H114.9ZM150.2 329.4H157.0V332.9H150.2ZM584.5 329.4H591.2V332.9H584.5ZM883.7 329.4H887.2V332.9H883.7ZM1105.6 329.4H1112.4V332.9H1105.6ZM111.6 332.6H118.4V336.1H111.6ZM153.5 332.6H160.2V336.1H153.5ZM584.5 332.6H591.2V336.1H584.5ZM880.4 332.6H887.2V336.1H880.4ZM1102.4 332.6H1112.4V336.1H1102.4ZM111.6 335.8H118.4V339.3H111.6ZM153.5 335.8H160.2V339.3H153.5ZM587.7 335.8H594.5V339.3H587.7ZM883.7 335.8H887.2V339.3H883.7ZM1102.4 335.8H1112.4V339.3H1102.4ZM111.6 339.0H115.2V342.5H111.6ZM156.7 339.0H160.2V342.5H156.7ZM587.7 339.0H594.5V342.5H587.7ZM880.4 339.0H887.2V342.5H880.4ZM1099.2 339.0H1105.9V342.5H1099.2ZM111.6 342.2H115.2V345.8H111.6ZM156.7 342.2H160.2V345.8H156.7ZM587.7 342.2H594.5V345.8H587.7ZM877.2 342.2H884.0V345.8H877.2ZM1096.0 342.2H1099.5V345.8H1096.0ZM111.6 345.5H115.2V349.0H111.6ZM153.5 345.5H160.2V349.0H153.5ZM590.9 345.5H594.5V349.0H590.9ZM874.0 345.5H880.7V349.0H874.0ZM111.6 348.7H118.4V352.2H111.6ZM150.2 348.7H157.0V352.2H150.2ZM590.9 348.7H597.7V352.2H590.9ZM874.0 348.7H877.5V352.2H874.0ZM111.6 351.9H118.4V355.4H111.6ZM147.0 351.9H153.8V355.4H147.0ZM594.2 351.9H597.7V355.4H594.2ZM870.8 351.9H877.5V355.4H870.8ZM111.6 355.1H118.4V358.6H111.6ZM127.7 355.1H147.3V358.6H127.7ZM594.2 355.1H600.9V358.6H594.2ZM870.8 355.1H874.3V358.6H870.8ZM114.9 358.3H137.7V361.8H114.9ZM594.2 358.3H600.9V361.8H594.2ZM870.8 358.3H874.3V361.8H870.8ZM594.2 361.5H600.9V365.1H594.2ZM870.8 361.5H874.3V365.1H870.8ZM594.2 364.8H600.9V368.3H594.2ZM870.8 364.8H874.3V368.3H870.8ZM597.4 368.0H604.1V371.5H597.4ZM870.8 368.0H877.5V371.5H870.8ZM597.4 371.2H607.3V374.7H597.4ZM864.4 371.2H874.3V374.7H864.4ZM600.6 374.4H610.5V377.9H600.6ZM861.1 374.4H871.1V377.9H861.1ZM603.8 377.6H610.5V381.1H603.8ZM857.9 377.6H864.7V381.1H857.9ZM607.0 380.8H613.8V384.4H607.0ZM854.7 380.8H861.4V384.4H854.7ZM607.0 384.1H613.8V387.6H607.0ZM851.5 384.1H858.2V387.6H851.5ZM607.0 387.3H613.8V390.8H607.0ZM845.1 387.3H855.0V390.8H845.1ZM610.2 390.5H617.0V394.0H610.2ZM841.8 390.5H851.8V394.0H841.8ZM610.2 393.7H617.0V397.2H610.2ZM835.4 393.7H848.6V397.2H835.4ZM610.2 396.9H620.2V400.4H610.2ZM832.2 396.9H842.1V400.4H832.2ZM613.5 400.1H620.2V403.7H613.5ZM829.0 400.1H838.9V403.7H829.0ZM616.7 403.4H623.4V406.9H616.7ZM822.5 403.4H835.7V406.9H822.5ZM619.9 406.6H626.6V410.1H619.9ZM819.3 406.6H832.5V410.1H819.3ZM623.1 409.8H629.8V413.3H623.1ZM812.9 409.8H826.1V413.3H812.9ZM623.1 413.0H636.3V416.5H623.1ZM803.2 413.0H819.6V416.5H803.2ZM629.5 416.2H639.5V419.7H629.5ZM796.8 416.2H813.2V419.7H796.8ZM632.8 419.4H642.7V423.0H632.8ZM790.4 419.4H803.5V423.0H790.4ZM636.0 422.7H652.4V426.2H636.0ZM783.9 422.7H797.1V426.2H783.9ZM642.4 425.9H655.6V429.4H642.4ZM774.3 425.9H793.9V429.4H774.3ZM648.8 429.1H658.8V432.6H648.8ZM767.9 429.1H787.5V432.6H767.9ZM652.1 432.3H662.0V435.8H652.1ZM761.4 432.3H777.8V435.8H761.4ZM655.3 435.5H665.2V439.0H655.3ZM751.8 435.5H771.4V439.0H751.8ZM655.3 438.7H678.1V442.3H655.3ZM745.3 438.7H764.9V442.3H745.3ZM658.5 442.0H681.3V445.5H658.5ZM735.7 442.0H755.3V445.5H735.7ZM674.6 445.2H684.5V448.7H674.6ZM729.3 445.2H745.6V448.7H729.3ZM677.8 448.4H687.7V451.9H677.8ZM719.6 448.4H732.8V451.9H719.6ZM681.0 451.6H723.1V455.1H681.0ZM690.7 454.8H703.8V458.4H690.7ZM420.4 599.6H430.4V603.1H420.4ZM439.8 599.6H449.7V603.1H439.8ZM414.0 602.8H420.7V606.3H414.0ZM449.4 602.8H452.9V606.3H449.4ZM410.8 606.0H414.3V609.5H410.8ZM449.4 606.0H452.9V609.5H449.4ZM407.6 609.2H411.1V612.8H407.6ZM449.4 609.2H452.9V612.8H449.4ZM404.4 612.5H407.9V616.0H404.4ZM446.2 612.5H449.7V616.0H446.2ZM465.5 612.5H469.0V616.0H465.5ZM404.4 615.7H407.9V619.2H404.4ZM407.6 618.9H411.1V622.4H407.6ZM410.8 622.1H430.4V625.6H410.8ZM471.9 622.1H475.4V625.6H471.9Z"/>
<path fill="#23c3e4" d="M903.0 126.7H919.3V130.2H903.0ZM562.0 129.9H565.5V133.5H562.0ZM893.3 129.9H903.3V133.5H893.3ZM919.0 129.9H938.6V133.5H919.0ZM600.6 133.2H613.8V136.7H600.6ZM890.1 133.2H896.8V136.7H890.1ZM931.9 133.2H951.5V136.7H931.9ZM613.5 136.4H617.0V139.9H613.5ZM886.9 136.4H893.6V139.9H886.9ZM941.6 136.4H961.2V139.9H941.6ZM256.4 139.6H272.8V143.1H256.4ZM613.5 139.6H617.0V143.1H613.5ZM890.1 139.6H893.6V143.1H890.1ZM948.0 139.6H961.2V143.1H948.0ZM243.5 142.8H247.0V146.3H243.5ZM613.5 142.8H617.0V146.3H613.5ZM793.6 142.8H797.1V146.3H793.6ZM890.1 142.8H893.6V146.3H890.1ZM951.2 142.8H961.2V146.3H951.2ZM237.1 146.0H240.6V149.5H237.1ZM613.5 146.0H617.0V149.5H613.5ZM793.6 146.0H800.3V149.5H793.6ZM890.1 146.0H893.6V149.5H890.1ZM954.4 146.0H961.2V149.5H954.4ZM230.7 149.2H234.2V152.8H230.7ZM272.5 149.2H276.0V152.8H272.5ZM613.5 149.2H617.0V152.8H613.5ZM793.6 149.2H800.3V152.8H793.6ZM890.1 149.2H893.6V152.8H890.1ZM954.4 149.2H961.2V152.8H954.4ZM269.3 152.5H272.8V156.0H269.3ZM584.5 152.5H588.0V156.0H584.5ZM610.2 152.5H617.0V156.0H610.2ZM790.4 152.5H803.5V156.0H790.4ZM890.1 152.5H893.6V156.0H890.1ZM954.4 152.5H961.2V156.0H954.4ZM221.0 155.7H224.5V159.2H221.0ZM259.6 155.7H266.3V159.2H259.6ZM603.8 155.7H607.3V159.2H603.8ZM790.4 155.7H797.1V159.2H790.4ZM800.0 155.7H806.8V159.2H800.0ZM890.1 155.7H893.6V159.2H890.1ZM954.4 155.7H961.2V159.2H954.4ZM224.2 158.9H227.7V162.4H224.2ZM590.9 158.9H604.1V162.4H590.9ZM790.4 158.9H793.9V162.4H790.4ZM803.2 158.9H810.0V162.4H803.2ZM890.1 158.9H893.6V162.4H890.1ZM954.4 158.9H961.2V162.4H954.4ZM790.4 162.1H793.9V165.6H790.4ZM806.5 162.1H810.0V165.6H806.5ZM886.9 162.1H890.4V165.6H886.9ZM954.4 162.1H961.2V165.6H954.4ZM787.2 165.3H790.7V168.8H787.2ZM809.7 165.3H816.4V168.8H809.7ZM886.9 165.3H890.4V168.8H886.9ZM954.4 165.3H961.2V168.8H954.4ZM783.9 168.5H790.7V172.1H783.9ZM816.1 168.5H822.8V172.1H816.1ZM883.7 168.5H890.4V172.1H883.7ZM957.6 168.5H964.4V172.1H957.6ZM780.7 171.8H787.5V175.3H780.7ZM822.5 171.8H845.4V175.3H822.5ZM880.4 171.8H893.6V175.3H880.4ZM957.6 171.8H964.4V175.3H957.6ZM777.5 175.0H781.0V178.5H777.5ZM841.8 175.0H848.6V178.5H841.8ZM893.3 175.0H896.8V178.5H893.3ZM957.6 175.0H964.4V178.5H957.6ZM642.4 178.2H649.1V181.7H642.4ZM767.9 178.2H774.6V181.7H767.9ZM848.3 178.2H861.4V181.7H848.3ZM896.5 178.2H900.0V181.7H896.5ZM960.9 178.2H967.6V181.7H960.9ZM642.4 181.4H649.1V184.9H642.4ZM758.2 181.4H764.9V184.9H758.2ZM854.7 181.4H871.1V184.9H854.7ZM899.7 181.4H903.3V184.9H899.7ZM960.9 181.4H970.8V184.9H960.9ZM642.4 184.6H652.4V188.1H642.4ZM751.8 184.6H758.5V188.1H751.8ZM864.4 184.6H867.9V188.1H864.4ZM964.1 184.6H974.0V188.1H964.1ZM639.2 187.8H652.4V191.4H639.2ZM745.3 187.8H752.1V191.4H745.3ZM864.4 187.8H867.9V191.4H864.4ZM903.0 187.8H906.5V191.4H903.0ZM967.3 187.8H977.2V191.4H967.3ZM639.2 191.1H655.6V194.6H639.2ZM738.9 191.1H745.6V194.6H738.9ZM864.4 191.1H867.9V194.6H864.4ZM906.2 191.1H909.7V194.6H906.2ZM970.5 191.1H977.2V194.6H970.5ZM636.0 194.3H645.9V197.8H636.0ZM648.8 194.3H662.0V197.8H648.8ZM729.3 194.3H736.0V197.8H729.3ZM864.4 194.3H867.9V197.8H864.4ZM906.2 194.3H909.7V197.8H906.2ZM973.7 194.3H980.5V197.8H973.7ZM166.3 197.5H185.9V201.0H166.3ZM188.8 197.5H211.7V201.0H188.8ZM632.8 197.5H642.7V201.0H632.8ZM655.3 197.5H674.9V201.0H655.3ZM719.6 197.5H726.3V201.0H719.6ZM864.4 197.5H867.9V201.0H864.4ZM909.4 197.5H912.9V201.0H909.4ZM976.9 197.5H983.7V201.0H976.9ZM159.9 200.7H218.1V204.2H159.9ZM629.5 200.7H639.5V204.2H629.5ZM674.6 200.7H681.3V204.2H674.6ZM713.2 200.7H719.9V204.2H713.2ZM864.4 200.7H867.9V204.2H864.4ZM909.4 200.7H912.9V204.2H909.4ZM976.9 200.7H983.7V204.2H976.9ZM156.7 203.9H189.1V207.4H156.7ZM211.4 203.9H221.3V207.4H211.4ZM623.1 203.9H636.3V207.4H623.1ZM677.8 203.9H687.7V207.4H677.8ZM703.5 203.9H713.5V207.4H703.5ZM864.4 203.9H871.1V207.4H864.4ZM909.4 203.9H912.9V207.4H909.4ZM980.2 203.9H986.9V207.4H980.2ZM153.5 207.1H176.3V210.7H153.5ZM221.0 207.1H231.0V210.7H221.0ZM619.9 207.1H633.1V210.7H619.9ZM687.4 207.1H697.4V210.7H687.4ZM867.6 207.1H871.1V210.7H867.6ZM909.4 207.1H912.9V210.7H909.4ZM983.4 207.1H990.1V210.7H983.4ZM153.5 210.4H173.1V213.9H153.5ZM230.7 210.4H234.2V213.9H230.7ZM613.5 210.4H626.6V213.9H613.5ZM867.6 210.4H871.1V213.9H867.6ZM912.6 210.4H916.1V213.9H912.6ZM989.8 210.4H999.8V213.9H989.8ZM150.2 213.6H169.8V217.1H150.2ZM237.1 213.6H240.6V217.1H237.1ZM607.0 213.6H623.4V217.1H607.0ZM867.6 213.6H871.1V217.1H867.6ZM912.6 213.6H916.1V217.1H912.6ZM993.0 213.6H1003.0V217.1H993.0ZM150.2 216.8H169.8V220.3H150.2ZM243.5 216.8H247.0V220.3H243.5ZM600.6 216.8H620.2V220.3H600.6ZM867.6 216.8H871.1V220.3H867.6ZM915.8 216.8H919.3V220.3H915.8ZM999.5 216.8H1006.2V220.3H999.5ZM150.2 220.0H166.6V223.5H150.2ZM246.7 220.0H250.3V223.5H246.7ZM594.2 220.0H613.8V223.5H594.2ZM867.6 220.0H871.1V223.5H867.6ZM919.0 220.0H922.6V223.5H919.0ZM1005.9 220.0H1012.6V223.5H1005.9ZM150.2 223.2H166.6V226.7H150.2ZM246.7 223.2H250.3V226.7H246.7ZM581.3 223.2H607.3V226.7H581.3ZM867.6 223.2H871.1V226.7H867.6ZM919.0 223.2H925.8V226.7H919.0ZM1012.3 223.2H1022.3V226.7H1012.3ZM153.5 226.4H169.8V230.0H153.5ZM574.9 226.4H604.1V230.0H574.9ZM867.6 226.4H871.1V230.0H867.6ZM925.5 226.4H929.0V230.0H925.5ZM1018.8 226.4H1028.7V230.0H1018.8ZM153.5 229.7H169.8V233.2H153.5ZM571.6 229.7H597.7V233.2H571.6ZM870.8 229.7H874.3V233.2H870.8ZM925.5 229.7H932.2V233.2H925.5ZM1025.2 229.7H1035.1V233.2H1025.2ZM156.7 232.9H173.1V236.4H156.7ZM250.0 232.9H253.5V236.4H250.0ZM565.2 232.9H584.8V236.4H565.2ZM870.8 232.9H874.3V236.4H870.8ZM931.9 232.9H935.4V236.4H931.9ZM1034.8 232.9H1041.6V236.4H1034.8ZM159.9 236.1H176.3V239.6H159.9ZM253.2 236.1H259.9V239.6H253.2ZM565.2 236.1H581.6V239.6H565.2ZM870.8 236.1H874.3V239.6H870.8ZM935.1 236.1H941.9V239.6H935.1ZM1041.3 236.1H1051.2V239.6H1041.3ZM163.1 239.3H182.7V242.8H163.1ZM256.4 239.3H263.1V242.8H256.4ZM568.4 239.3H578.4V242.8H568.4ZM870.8 239.3H874.3V242.8H870.8ZM938.3 239.3H951.5V242.8H938.3ZM1050.9 239.3H1057.7V242.8H1050.9ZM166.3 242.5H185.9V246.0H166.3ZM259.6 242.5H266.3V246.0H259.6ZM568.4 242.5H578.4V246.0H568.4ZM870.8 242.5H874.3V246.0H870.8ZM948.0 242.5H964.4V246.0H948.0ZM1057.4 242.5H1064.1V246.0H1057.4ZM169.5 245.7H192.4V249.3H169.5ZM259.6 245.7H266.3V249.3H259.6ZM568.4 245.7H581.6V249.3H568.4ZM874.0 245.7H877.5V249.3H874.0ZM967.3 245.7H970.8V249.3H967.3ZM1063.8 245.7H1067.3V249.3H1063.8ZM176.0 249.0H198.8V252.5H176.0ZM259.6 249.0H266.3V252.5H259.6ZM568.4 249.0H581.6V252.5H568.4ZM874.0 249.0H877.5V252.5H874.0ZM973.7 249.0H983.7V252.5H973.7ZM1067.0 249.0H1073.8V252.5H1067.0ZM188.8 252.2H211.7V255.7H188.8ZM259.6 252.2H263.1V255.7H259.6ZM571.6 252.2H581.6V255.7H571.6ZM877.2 252.2H880.7V255.7H877.2ZM986.6 252.2H990.1V255.7H986.6ZM1073.5 252.2H1080.2V255.7H1073.5ZM198.5 255.4H224.5V258.9H198.5ZM256.4 255.4H263.1V258.9H256.4ZM571.6 255.4H581.6V258.9H571.6ZM877.2 255.4H880.7V258.9H877.2ZM989.8 255.4H996.5V258.9H989.8ZM1079.9 255.4H1083.4V258.9H1079.9ZM227.4 258.6H231.0V262.1H227.4ZM253.2 258.6H259.9V262.1H253.2ZM571.6 258.6H581.6V262.1H571.6ZM877.2 258.6H880.7V262.1H877.2ZM996.2 258.6H1003.0V262.1H996.2ZM1083.1 258.6H1086.6V262.1H1083.1ZM230.7 261.8H234.2V265.3H230.7ZM250.0 261.8H259.9V265.3H250.0ZM571.6 261.8H581.6V265.3H571.6ZM877.2 261.8H880.7V265.3H877.2ZM1002.7 261.8H1006.2V265.3H1002.7ZM1086.3 261.8H1089.8V265.3H1086.3ZM230.7 265.0H237.4V268.6H230.7ZM246.7 265.0H256.7V268.6H246.7ZM571.6 265.0H581.6V268.6H571.6ZM877.2 265.0H880.7V268.6H877.2ZM1005.9 265.0H1009.4V268.6H1005.9ZM1089.5 265.0H1093.1V268.6H1089.5ZM233.9 268.3H250.3V271.8H233.9ZM571.6 268.3H581.6V271.8H571.6ZM880.4 268.3H884.0V271.8H880.4ZM1009.1 268.3H1015.8V271.8H1009.1ZM1092.8 268.3H1096.3V271.8H1092.8ZM233.9 271.5H243.8V275.0H233.9ZM571.6 271.5H581.6V275.0H571.6ZM880.4 271.5H884.0V275.0H880.4ZM1012.3 271.5H1019.1V275.0H1012.3ZM1096.0 271.5H1099.5V275.0H1096.0ZM571.6 274.7H584.8V278.2H571.6ZM880.4 274.7H884.0V278.2H880.4ZM1015.5 274.7H1028.7V278.2H1015.5ZM1099.2 274.7H1102.7V278.2H1099.2ZM574.9 277.9H584.8V281.4H574.9ZM880.4 277.9H884.0V281.4H880.4ZM1018.8 277.9H1054.4V281.4H1018.8ZM574.9 281.1H584.8V284.6H574.9ZM1028.4 281.1H1041.6V284.6H1028.4ZM1063.8 281.1H1073.8V284.6H1063.8ZM1102.4 281.1H1105.9V284.6H1102.4ZM574.9 284.3H584.8V287.9H574.9ZM880.4 284.3H884.0V287.9H880.4ZM1076.7 284.3H1083.4V287.9H1076.7ZM1105.6 284.3H1109.1V287.9H1105.6ZM574.9 287.6H584.8V291.1H574.9ZM880.4 287.6H884.0V291.1H880.4ZM1083.1 287.6H1089.8V291.1H1083.1ZM1102.4 287.6H1109.1V291.1H1102.4ZM578.1 290.8H584.8V294.3H578.1ZM880.4 290.8H884.0V294.3H880.4ZM1089.5 290.8H1099.5V294.3H1089.5ZM1102.4 290.8H1109.1V294.3H1102.4ZM578.1 294.0H584.8V297.5H578.1ZM880.4 294.0H884.0V297.5H880.4ZM1096.0 294.0H1105.9V297.5H1096.0ZM578.1 297.2H588.0V300.7H578.1ZM1102.4 297.2H1105.9V300.7H1102.4ZM578.1 300.4H588.0V303.9H578.1ZM877.2 300.4H880.7V303.9H877.2ZM581.3 303.6H588.0V307.2H581.3ZM877.2 303.6H880.7V307.2H877.2ZM581.3 306.9H591.2V310.4H581.3ZM877.2 306.9H880.7V310.4H877.2ZM581.3 310.1H591.2V313.6H581.3ZM877.2 310.1H880.7V313.6H877.2ZM584.5 313.3H594.5V316.8H584.5ZM880.4 313.3H884.0V316.8H880.4ZM584.5 316.5H594.5V320.0H584.5ZM880.4 316.5H884.0V320.0H880.4ZM587.7 319.7H594.5V323.2H587.7ZM880.4 319.7H884.0V323.2H880.4ZM587.7 322.9H597.7V326.5H587.7ZM880.4 322.9H884.0V326.5H880.4ZM134.2 326.2H144.1V329.7H134.2ZM590.9 326.2H597.7V329.7H590.9ZM877.2 326.2H884.0V329.7H877.2ZM121.3 329.4H150.5V332.9H121.3ZM590.9 329.4H597.7V332.9H590.9ZM877.2 329.4H884.0V332.9H877.2ZM118.1 332.6H153.8V336.1H118.1ZM590.9 332.6H600.9V336.1H590.9ZM877.2 332.6H880.7V336.1H877.2ZM118.1 335.8H131.2V339.3H118.1ZM140.6 335.8H153.8V339.3H140.6ZM594.2 335.8H600.9V339.3H594.2ZM877.2 335.8H884.0V339.3H877.2ZM114.9 339.0H128.0V342.5H114.9ZM143.8 339.0H157.0V342.5H143.8ZM594.2 339.0H600.9V342.5H594.2ZM874.0 339.0H880.7V342.5H874.0ZM114.9 342.2H124.8V345.8H114.9ZM143.8 342.2H157.0V345.8H143.8ZM594.2 342.2H600.9V345.8H594.2ZM870.8 342.2H877.5V345.8H870.8ZM114.9 345.5H124.8V349.0H114.9ZM140.6 345.5H153.8V349.0H140.6ZM594.2 345.5H604.1V349.0H594.2ZM867.6 345.5H874.3V349.0H867.6ZM118.1 348.7H150.5V352.2H118.1ZM597.4 348.7H604.1V352.2H597.4ZM867.6 348.7H874.3V352.2H867.6ZM118.1 351.9H147.3V355.4H118.1ZM597.4 351.9H607.3V355.4H597.4ZM864.4 351.9H871.1V355.4H864.4ZM118.1 355.1H128.0V358.6H118.1ZM600.6 355.1H607.3V358.6H600.6ZM864.4 355.1H871.1V358.6H864.4ZM600.6 358.3H607.3V361.8H600.6ZM864.4 358.3H871.1V361.8H864.4ZM600.6 361.5H610.5V365.1H600.6ZM864.4 361.5H871.1V365.1H864.4ZM600.6 364.8H610.5V368.3H600.6ZM861.1 364.8H871.1V368.3H861.1ZM603.8 368.0H613.8V371.5H603.8ZM857.9 368.0H871.1V371.5H857.9ZM607.0 371.2H617.0V374.7H607.0ZM854.7 371.2H864.7V374.7H854.7ZM610.2 374.4H617.0V377.9H610.2ZM851.5 374.4H861.4V377.9H851.5ZM610.2 377.6H620.2V381.1H610.2ZM848.3 377.6H858.2V381.1H848.3ZM613.5 380.8H620.2V384.4H613.5ZM841.8 380.8H855.0V384.4H841.8ZM613.5 384.1H623.4V387.6H613.5ZM838.6 384.1H851.8V387.6H838.6ZM613.5 387.3H623.4V390.8H613.5ZM832.2 387.3H845.4V390.8H832.2ZM616.7 390.5H626.6V394.0H616.7ZM825.8 390.5H842.1V394.0H825.8ZM616.7 393.7H626.6V397.2H616.7ZM822.5 393.7H835.7V397.2H822.5ZM619.9 396.9H629.8V400.4H619.9ZM816.1 396.9H832.5V400.4H816.1ZM619.9 400.1H633.1V403.7H619.9ZM812.9 400.1H829.3V403.7H812.9ZM623.1 403.4H636.3V406.9H623.1ZM803.2 403.4H822.8V406.9H803.2ZM626.3 406.6H642.7V410.1H626.3ZM793.6 406.6H819.6V410.1H793.6ZM629.5 409.8H645.9V413.3H629.5ZM787.2 409.8H813.2V413.3H787.2ZM636.0 413.0H652.4V416.5H636.0ZM780.7 413.0H803.5V416.5H780.7ZM639.2 416.2H658.8V419.7H639.2ZM774.3 416.2H797.1V419.7H774.3ZM642.4 419.4H665.2V423.0H642.4ZM767.9 419.4H790.7V423.0H767.9ZM652.1 422.7H668.4V426.2H652.1ZM761.4 422.7H784.2V426.2H761.4ZM655.3 425.9H674.9V429.4H655.3ZM755.0 425.9H774.6V429.4H755.0ZM658.5 429.1H684.5V432.6H658.5ZM748.6 429.1H768.2V432.6H748.6ZM661.7 432.3H687.7V435.8H661.7ZM742.1 432.3H761.7V435.8H742.1ZM664.9 435.5H687.7V439.0H664.9ZM738.9 435.5H752.1V439.0H738.9ZM677.8 438.7H691.0V442.3H677.8ZM732.5 438.7H745.6V442.3H732.5ZM681.0 442.0H694.2V445.5H681.0ZM726.0 442.0H736.0V445.5H726.0ZM684.2 445.2H697.4V448.7H684.2ZM716.4 445.2H729.6V448.7H716.4ZM687.4 448.4H719.9V451.9H687.4ZM430.1 599.6H440.1V603.1H430.1ZM420.4 602.8H424.0V606.3H420.4ZM443.0 602.8H449.7V606.3H443.0ZM414.0 606.0H417.5V609.5H414.0ZM446.2 606.0H449.7V609.5H446.2ZM410.8 609.2H414.3V612.8H410.8ZM446.2 609.2H449.7V612.8H446.2ZM407.6 612.5H411.1V616.0H407.6ZM443.0 612.5H446.5V616.0H443.0ZM468.7 612.5H475.4V616.0H468.7ZM407.6 615.7H411.1V619.2H407.6ZM462.3 615.7H465.8V619.2H462.3ZM475.1 615.7H478.7V619.2H475.1ZM410.8 618.9H417.5V622.4H410.8ZM475.1 618.9H478.7V622.4H475.1ZM465.5 622.1H472.2V625.6H465.5Z"/>
<path fill="#1fc9dd" d="M565.2 129.9H568.7V133.5H565.2ZM903.0 129.9H919.3V133.5H903.0ZM896.5 133.2H932.2V136.7H896.5ZM590.9 136.4H613.8V139.9H590.9ZM893.3 136.4H900.0V139.9H893.3ZM925.5 136.4H941.9V139.9H925.5ZM610.2 139.6H613.8V143.1H610.2ZM893.3 139.6H896.8V143.1H893.3ZM931.9 139.6H948.3V143.1H931.9ZM272.5 142.8H276.0V146.3H272.5ZM610.2 142.8H613.8V146.3H610.2ZM893.3 142.8H896.8V146.3H893.3ZM938.3 142.8H951.5V146.3H938.3ZM272.5 146.0H276.0V149.5H272.5ZM578.1 146.0H581.6V149.5H578.1ZM893.3 146.0H896.8V149.5H893.3ZM941.6 146.0H954.7V149.5H941.6ZM610.2 149.2H613.8V152.8H610.2ZM893.3 149.2H896.8V152.8H893.3ZM944.8 149.2H954.7V152.8H944.8ZM603.8 152.5H610.5V156.0H603.8ZM893.3 152.5H896.8V156.0H893.3ZM944.8 152.5H954.7V156.0H944.8ZM224.2 155.7H227.7V159.2H224.2ZM256.4 155.7H259.9V159.2H256.4ZM587.7 155.7H591.2V159.2H587.7ZM600.6 155.7H604.1V159.2H600.6ZM796.8 155.7H800.3V159.2H796.8ZM893.3 155.7H896.8V159.2H893.3ZM944.8 155.7H954.7V159.2H944.8ZM793.6 158.9H803.5V162.4H793.6ZM893.3 158.9H896.8V162.4H893.3ZM944.8 158.9H954.7V162.4H944.8ZM793.6 162.1H806.8V165.6H793.6ZM890.1 162.1H893.6V165.6H890.1ZM944.8 162.1H954.7V165.6H944.8ZM790.4 165.3H797.1V168.8H790.4ZM803.2 165.3H810.0V168.8H803.2ZM890.1 165.3H893.6V168.8H890.1ZM944.8 165.3H954.7V168.8H944.8ZM790.4 168.5H793.9V172.1H790.4ZM809.7 168.5H816.4V172.1H809.7ZM890.1 168.5H896.8V172.1H890.1ZM948.0 168.5H957.9V172.1H948.0ZM787.2 171.8H790.7V175.3H787.2ZM816.1 171.8H822.8V175.3H816.1ZM893.3 171.8H900.0V175.3H893.3ZM948.0 171.8H957.9V175.3H948.0ZM780.7 175.0H787.5V178.5H780.7ZM822.5 175.0H842.1V178.5H822.5ZM896.5 175.0H903.3V178.5H896.5ZM951.2 175.0H957.9V178.5H951.2ZM774.3 178.2H781.0V181.7H774.3ZM835.4 178.2H848.6V181.7H835.4ZM899.7 178.2H903.3V181.7H899.7ZM951.2 178.2H961.2V181.7H951.2ZM764.6 181.4H774.6V184.9H764.6ZM841.8 181.4H855.0V184.9H841.8ZM903.0 181.4H906.5V184.9H903.0ZM954.4 181.4H961.2V184.9H954.4ZM758.2 184.6H764.9V188.1H758.2ZM848.3 184.6H864.7V188.1H848.3ZM903.0 184.6H909.7V188.1H903.0ZM957.6 184.6H964.4V188.1H957.6ZM751.8 187.8H758.5V191.4H751.8ZM857.9 187.8H864.7V191.4H857.9ZM906.2 187.8H912.9V191.4H906.2ZM957.6 187.8H967.6V191.4H957.6ZM745.3 191.1H748.9V194.6H745.3ZM857.9 191.1H864.7V194.6H857.9ZM909.4 191.1H912.9V194.6H909.4ZM960.9 191.1H970.8V194.6H960.9ZM645.6 194.3H649.1V197.8H645.6ZM735.7 194.3H742.4V197.8H735.7ZM857.9 194.3H864.7V197.8H857.9ZM909.4 194.3H912.9V197.8H909.4ZM964.1 194.3H974.0V197.8H964.1ZM642.4 197.5H655.6V201.0H642.4ZM726.0 197.5H732.8V201.0H726.0ZM857.9 197.5H864.7V201.0H857.9ZM912.6 197.5H916.1V201.0H912.6ZM967.3 197.5H977.2V201.0H967.3ZM639.2 200.7H674.9V204.2H639.2ZM719.6 200.7H723.1V204.2H719.6ZM861.1 200.7H864.7V204.2H861.1ZM912.6 200.7H916.1V204.2H912.6ZM970.5 200.7H977.2V204.2H970.5ZM188.8 203.9H211.7V207.4H188.8ZM636.0 203.9H678.1V207.4H636.0ZM713.2 203.9H716.7V207.4H713.2ZM861.1 203.9H864.7V207.4H861.1ZM912.6 203.9H916.1V207.4H912.6ZM973.7 203.9H980.5V207.4H973.7ZM176.0 207.1H221.3V210.7H176.0ZM632.8 207.1H645.9V210.7H632.8ZM674.6 207.1H687.7V210.7H674.6ZM697.1 207.1H710.3V210.7H697.1ZM861.1 207.1H867.9V210.7H861.1ZM912.6 207.1H916.1V210.7H912.6ZM976.9 207.1H983.7V210.7H976.9ZM172.8 210.4H231.0V213.9H172.8ZM626.3 210.4H642.7V213.9H626.3ZM861.1 210.4H867.9V213.9H861.1ZM915.8 210.4H919.3V213.9H915.8ZM980.2 210.4H990.1V213.9H980.2ZM169.5 213.6H195.6V217.1H169.5ZM227.4 213.6H237.4V217.1H227.4ZM623.1 213.6H636.3V217.1H623.1ZM864.4 213.6H867.9V217.1H864.4ZM915.8 213.6H922.6V217.1H915.8ZM986.6 213.6H993.3V217.1H986.6ZM169.5 216.8H195.6V220.3H169.5ZM233.9 216.8H243.8V220.3H233.9ZM619.9 216.8H633.1V220.3H619.9ZM864.4 216.8H867.9V220.3H864.4ZM919.0 216.8H925.8V220.3H919.0ZM993.0 216.8H999.8V220.3H993.0ZM166.3 220.0H189.1V223.5H166.3ZM240.3 220.0H247.0V223.5H240.3ZM613.5 220.0H629.8V223.5H613.5ZM864.4 220.0H867.9V223.5H864.4ZM922.3 220.0H929.0V223.5H922.3ZM999.5 220.0H1006.2V223.5H999.5ZM166.3 223.2H189.1V226.7H166.3ZM243.5 223.2H247.0V226.7H243.5ZM607.0 223.2H626.6V226.7H607.0ZM864.4 223.2H867.9V226.7H864.4ZM925.5 223.2H932.2V226.7H925.5ZM1005.9 223.2H1012.6V226.7H1005.9ZM169.5 226.4H192.4V230.0H169.5ZM243.5 226.4H250.3V230.0H243.5ZM603.8 226.4H620.2V230.0H603.8ZM864.4 226.4H867.9V230.0H864.4ZM928.7 226.4H935.4V230.0H928.7ZM1012.3 226.4H1019.1V230.0H1012.3ZM169.5 229.7H192.4V233.2H169.5ZM246.7 229.7H250.3V233.2H246.7ZM597.4 229.7H620.2V233.2H597.4ZM864.4 229.7H871.1V233.2H864.4ZM931.9 229.7H938.6V233.2H931.9ZM1018.8 229.7H1025.5V233.2H1018.8ZM172.8 232.9H195.6V236.4H172.8ZM246.7 232.9H250.3V236.4H246.7ZM584.5 232.9H613.8V236.4H584.5ZM867.6 232.9H871.1V236.4H867.6ZM935.1 232.9H945.1V236.4H935.1ZM1028.4 232.9H1035.1V236.4H1028.4ZM176.0 236.1H198.8V239.6H176.0ZM250.0 236.1H253.5V239.6H250.0ZM581.3 236.1H610.5V239.6H581.3ZM867.6 236.1H871.1V239.6H867.6ZM941.6 236.1H951.5V239.6H941.6ZM1034.8 236.1H1041.6V239.6H1034.8ZM182.4 239.3H202.0V242.8H182.4ZM250.0 239.3H256.7V242.8H250.0ZM578.1 239.3H607.3V242.8H578.1ZM867.6 239.3H871.1V242.8H867.6ZM951.2 239.3H964.4V242.8H951.2ZM1041.3 239.3H1051.2V242.8H1041.3ZM185.6 242.5H205.2V246.0H185.6ZM253.2 242.5H259.9V246.0H253.2ZM578.1 242.5H600.9V246.0H578.1ZM867.6 242.5H871.1V246.0H867.6ZM964.1 242.5H970.8V246.0H964.1ZM1050.9 242.5H1057.7V246.0H1050.9ZM192.1 245.7H211.7V249.3H192.1ZM253.2 245.7H259.9V249.3H253.2ZM581.3 245.7H600.9V249.3H581.3ZM870.8 245.7H874.3V249.3H870.8ZM970.5 245.7H980.5V249.3H970.5ZM1057.4 245.7H1064.1V249.3H1057.4ZM198.5 249.0H218.1V252.5H198.5ZM253.2 249.0H259.9V252.5H253.2ZM581.3 249.0H597.7V252.5H581.3ZM870.8 249.0H874.3V252.5H870.8ZM983.4 249.0H986.9V252.5H983.4ZM1063.8 249.0H1067.3V252.5H1063.8ZM211.4 252.2H227.7V255.7H211.4ZM250.0 252.2H259.9V255.7H250.0ZM581.3 252.2H597.7V255.7H581.3ZM874.0 252.2H877.5V255.7H874.0ZM989.8 252.2H993.3V255.7H989.8ZM1070.2 252.2H1073.8V255.7H1070.2ZM224.2 255.4H234.2V258.9H224.2ZM246.7 255.4H256.7V258.9H246.7ZM581.3 255.4H597.7V258.9H581.3ZM874.0 255.4H877.5V258.9H874.0ZM996.2 255.4H999.8V258.9H996.2ZM1073.5 255.4H1080.2V258.9H1073.5ZM230.7 258.6H253.5V262.1H230.7ZM581.3 258.6H597.7V262.1H581.3ZM874.0 258.6H877.5V262.1H874.0ZM1002.7 258.6H1006.2V262.1H1002.7ZM1079.9 258.6H1083.4V262.1H1079.9ZM233.9 261.8H250.3V265.3H233.9ZM581.3 261.8H594.5V265.3H581.3ZM874.0 261.8H877.5V265.3H874.0ZM1005.9 261.8H1009.4V265.3H1005.9ZM1083.1 261.8H1086.6V265.3H1083.1ZM237.1 265.0H247.0V268.6H237.1ZM581.3 265.0H597.7V268.6H581.3ZM1009.1 265.0H1015.8V268.6H1009.1ZM1086.3 265.0H1089.8V268.6H1086.3ZM581.3 268.3H594.5V271.8H581.3ZM877.2 268.3H880.7V271.8H877.2ZM1015.5 268.3H1022.3V271.8H1015.5ZM1089.5 268.3H1093.1V271.8H1089.5ZM581.3 271.5H594.5V275.0H581.3ZM877.2 271.5H880.7V275.0H877.2ZM1018.8 271.5H1028.7V275.0H1018.8ZM1092.8 271.5H1096.3V275.0H1092.8ZM584.5 274.7H594.5V278.2H584.5ZM877.2 274.7H880.7V278.2H877.2ZM1028.4 274.7H1044.8V278.2H1028.4ZM1096.0 274.7H1099.5V278.2H1096.0ZM584.5 277.9H597.7V281.4H584.5ZM877.2 277.9H880.7V281.4H877.2ZM1054.1 277.9H1067.3V281.4H1054.1ZM1096.0 277.9H1102.7V281.4H1096.0ZM584.5 281.1H594.5V284.6H584.5ZM880.4 281.1H884.0V284.6H880.4ZM1073.5 281.1H1080.2V284.6H1073.5ZM1099.2 281.1H1102.7V284.6H1099.2ZM584.5 284.3H597.7V287.9H584.5ZM877.2 284.3H880.7V287.9H877.2ZM1083.1 284.3H1089.8V287.9H1083.1ZM1099.2 284.3H1105.9V287.9H1099.2ZM584.5 287.6H597.7V291.1H584.5ZM877.2 287.6H880.7V291.1H877.2ZM1089.5 287.6H1102.7V291.1H1089.5ZM584.5 290.8H597.7V294.3H584.5ZM877.2 290.8H880.7V294.3H877.2ZM1099.2 290.8H1102.7V294.3H1099.2ZM584.5 294.0H597.7V297.5H584.5ZM877.2 294.0H880.7V297.5H877.2ZM587.7 297.2H597.7V300.7H587.7ZM877.2 297.2H880.7V300.7H877.2ZM587.7 300.4H597.7V303.9H587.7ZM874.0 300.4H877.5V303.9H874.0ZM587.7 303.6H600.9V307.2H587.7ZM874.0 303.6H877.5V307.2H874.0ZM590.9 306.9H600.9V310.4H590.9ZM874.0 306.9H877.5V310.4H874.0ZM590.9 310.1H600.9V313.6H590.9ZM874.0 310.1H877.5V313.6H874.0ZM594.2 313.3H600.9V316.8H594.2ZM874.0 313.3H880.7V316.8H874.0ZM594.2 316.5H604.1V320.0H594.2ZM874.0 316.5H880.7V320.0H874.0ZM594.2 319.7H604.1V323.2H594.2ZM874.0 319.7H880.7V323.2H874.0ZM597.4 322.9H607.3V326.5H597.4ZM870.8 322.9H880.7V326.5H870.8ZM597.4 326.2H607.3V329.7H597.4ZM870.8 326.2H877.5V329.7H870.8ZM597.4 329.4H607.3V332.9H597.4ZM870.8 329.4H877.5V332.9H870.8ZM600.6 332.6H607.3V336.1H600.6ZM870.8 332.6H877.5V336.1H870.8ZM130.9 335.8H140.9V339.3H130.9ZM600.6 335.8H610.5V339.3H600.6ZM867.6 335.8H877.5V339.3H867.6ZM127.7 339.0H144.1V342.5H127.7ZM600.6 339.0H610.5V342.5H600.6ZM864.4 339.0H874.3V342.5H864.4ZM124.5 342.2H144.1V345.8H124.5ZM600.6 342.2H610.5V345.8H600.6ZM861.1 342.2H871.1V345.8H861.1ZM124.5 345.5H140.9V349.0H124.5ZM603.8 345.5H613.8V349.0H603.8ZM861.1 345.5H867.9V349.0H861.1ZM603.8 348.7H613.8V352.2H603.8ZM857.9 348.7H867.9V352.2H857.9ZM607.0 351.9H617.0V355.4H607.0ZM857.9 351.9H864.7V355.4H857.9ZM607.0 355.1H617.0V358.6H607.0ZM854.7 355.1H864.7V358.6H854.7ZM607.0 358.3H617.0V361.8H607.0ZM854.7 358.3H864.7V361.8H854.7ZM610.2 361.5H620.2V365.1H610.2ZM851.5 361.5H864.7V365.1H851.5ZM610.2 364.8H623.4V368.3H610.2ZM848.3 364.8H861.4V368.3H848.3ZM613.5 368.0H623.4V371.5H613.5ZM841.8 368.0H858.2V371.5H841.8ZM616.7 371.2H626.6V374.7H616.7ZM838.6 371.2H855.0V374.7H838.6ZM616.7 374.4H629.8V377.9H616.7ZM835.4 374.4H851.8V377.9H835.4ZM619.9 377.6H629.8V381.1H619.9ZM829.0 377.6H848.6V381.1H829.0ZM619.9 380.8H633.1V384.4H619.9ZM822.5 380.8H842.1V384.4H822.5ZM623.1 384.1H636.3V387.6H623.1ZM819.3 384.1H838.9V387.6H819.3ZM623.1 387.3H639.5V390.8H623.1ZM809.7 387.3H832.5V390.8H809.7ZM626.3 390.5H639.5V394.0H626.3ZM806.5 390.5H826.1V394.0H806.5ZM626.3 393.7H642.7V397.2H626.3ZM793.6 393.7H822.8V397.2H793.6ZM629.5 396.9H649.1V400.4H629.5ZM790.4 396.9H816.4V400.4H790.4ZM632.8 400.1H658.8V403.7H632.8ZM783.9 400.1H813.2V403.7H783.9ZM636.0 403.4H665.2V406.9H636.0ZM780.7 403.4H803.5V406.9H780.7ZM642.4 406.6H674.9V410.1H642.4ZM774.3 406.6H793.9V410.1H774.3ZM645.6 409.8H678.1V413.3H645.6ZM681.0 409.8H684.5V413.3H681.0ZM767.9 409.8H787.5V413.3H767.9ZM652.1 413.0H697.4V416.5H652.1ZM764.6 413.0H781.0V416.5H764.6ZM658.5 416.2H700.6V419.7H658.5ZM758.2 416.2H774.6V419.7H758.2ZM664.9 419.4H700.6V423.0H664.9ZM755.0 419.4H768.2V423.0H755.0ZM668.1 422.7H700.6V426.2H668.1ZM748.6 422.7H761.7V426.2H748.6ZM674.6 425.9H700.6V429.4H674.6ZM745.3 425.9H755.3V429.4H745.3ZM684.2 429.1H700.6V432.6H684.2ZM738.9 429.1H748.9V432.6H738.9ZM687.4 432.3H700.6V435.8H687.4ZM732.5 432.3H742.4V435.8H732.5ZM687.4 435.5H703.8V439.0H687.4ZM726.0 435.5H739.2V439.0H726.0ZM690.7 438.7H707.0V442.3H690.7ZM719.6 438.7H732.8V442.3H719.6ZM693.9 442.0H726.3V445.5H693.9ZM697.1 445.2H716.7V448.7H697.1ZM423.7 602.8H443.3V606.3H423.7ZM417.2 606.0H420.7V609.5H417.2ZM443.0 606.0H446.5V609.5H443.0ZM414.0 609.2H417.5V612.8H414.0ZM443.0 609.2H446.5V612.8H443.0ZM410.8 612.5H414.3V616.0H410.8ZM439.8 612.5H443.3V616.0H439.8ZM410.8 615.7H417.5V619.2H410.8ZM436.5 615.7H440.1V619.2H436.5ZM465.5 615.7H469.0V619.2H465.5ZM417.2 618.9H424.0V622.4H417.2ZM430.1 618.9H433.6V622.4H430.1ZM465.5 618.9H469.0V622.4H465.5Z"/>
<path fill="#1ccdd8" d="M571.6 133.2H575.2V136.7H571.6ZM578.1 133.2H581.6V136.7H578.1ZM584.5 136.4H591.2V139.9H584.5ZM899.7 136.4H925.8V139.9H899.7ZM603.8 139.6H610.5V143.1H603.8ZM896.5 139.6H932.2V143.1H896.5ZM246.7 142.8H250.3V146.3H246.7ZM269.3 142.8H272.8V146.3H269.3ZM896.5 142.8H903.3V146.3H896.5ZM915.8 142.8H919.3V146.3H915.8ZM922.3 142.8H938.6V146.3H922.3ZM240.3 146.0H243.8V149.5H240.3ZM607.0 146.0H613.8V149.5H607.0ZM896.5 146.0H900.0V149.5H896.5ZM925.5 146.0H941.9V149.5H925.5ZM233.9 149.2H237.4V152.8H233.9ZM269.3 149.2H272.8V152.8H269.3ZM581.3 149.2H584.8V152.8H581.3ZM607.0 149.2H610.5V152.8H607.0ZM896.5 149.2H900.0V152.8H896.5ZM928.7 149.2H945.1V152.8H928.7ZM227.4 152.5H231.0V156.0H227.4ZM266.0 152.5H269.6V156.0H266.0ZM587.7 152.5H591.2V156.0H587.7ZM896.5 152.5H900.0V156.0H896.5ZM928.7 152.5H945.1V156.0H928.7ZM253.2 155.7H256.7V159.2H253.2ZM590.9 155.7H600.9V159.2H590.9ZM896.5 155.7H900.0V159.2H896.5ZM928.7 155.7H945.1V159.2H928.7ZM227.4 158.9H231.0V162.4H227.4ZM240.3 158.9H243.8V162.4H240.3ZM896.5 158.9H900.0V162.4H896.5ZM931.9 158.9H945.1V162.4H931.9ZM893.3 162.1H900.0V165.6H893.3ZM935.1 162.1H945.1V165.6H935.1ZM796.8 165.3H803.5V168.8H796.8ZM893.3 165.3H903.3V168.8H893.3ZM935.1 165.3H945.1V168.8H935.1ZM793.6 168.5H810.0V172.1H793.6ZM896.5 168.5H903.3V172.1H896.5ZM935.1 168.5H948.3V172.1H935.1ZM790.4 171.8H797.1V175.3H790.4ZM806.5 171.8H816.4V175.3H806.5ZM899.7 171.8H903.3V175.3H899.7ZM938.3 171.8H948.3V175.3H938.3ZM787.2 175.0H790.7V178.5H787.2ZM812.9 175.0H822.8V178.5H812.9ZM903.0 175.0H906.5V178.5H903.0ZM938.3 175.0H951.5V178.5H938.3ZM780.7 178.2H787.5V181.7H780.7ZM822.5 178.2H835.7V181.7H822.5ZM903.0 178.2H909.7V181.7H903.0ZM941.6 178.2H951.5V181.7H941.6ZM774.3 181.4H777.8V184.9H774.3ZM829.0 181.4H842.1V184.9H829.0ZM906.2 181.4H916.1V184.9H906.2ZM941.6 181.4H954.7V184.9H941.6ZM764.6 184.6H771.4V188.1H764.6ZM835.4 184.6H848.6V188.1H835.4ZM909.4 184.6H916.1V188.1H909.4ZM944.8 184.6H957.9V188.1H944.8ZM758.2 187.8H761.7V191.4H758.2ZM845.1 187.8H858.2V191.4H845.1ZM912.6 187.8H919.3V191.4H912.6ZM948.0 187.8H957.9V191.4H948.0ZM748.6 191.1H755.3V194.6H748.6ZM845.1 191.1H858.2V194.6H845.1ZM912.6 191.1H919.3V194.6H912.6ZM948.0 191.1H961.2V194.6H948.0ZM742.1 194.3H745.6V197.8H742.1ZM851.5 194.3H858.2V197.8H851.5ZM912.6 194.3H922.6V197.8H912.6ZM951.2 194.3H964.4V197.8H951.2ZM732.5 197.5H739.2V201.0H732.5ZM851.5 197.5H858.2V201.0H851.5ZM915.8 197.5H922.6V201.0H915.8ZM957.6 197.5H967.6V201.0H957.6ZM722.8 200.7H729.6V204.2H722.8ZM854.7 200.7H861.4V204.2H854.7ZM915.8 200.7H922.6V204.2H915.8ZM964.1 200.7H970.8V204.2H964.1ZM716.4 203.9H723.1V207.4H716.4ZM854.7 203.9H861.4V207.4H854.7ZM915.8 203.9H922.6V207.4H915.8ZM964.1 203.9H974.0V207.4H964.1ZM645.6 207.1H674.9V210.7H645.6ZM710.0 207.1H713.5V210.7H710.0ZM857.9 207.1H861.4V210.7H857.9ZM915.8 207.1H922.6V210.7H915.8ZM970.5 207.1H977.2V210.7H970.5ZM642.4 210.4H707.0V213.9H642.4ZM854.7 210.4H861.4V213.9H854.7ZM919.0 210.4H925.8V213.9H919.0ZM973.7 210.4H980.5V213.9H973.7ZM195.3 213.6H227.7V217.1H195.3ZM636.0 213.6H687.7V217.1H636.0ZM857.9 213.6H864.7V217.1H857.9ZM922.3 213.6H929.0V217.1H922.3ZM976.9 213.6H986.9V217.1H976.9ZM195.3 216.8H234.2V220.3H195.3ZM632.8 216.8H662.0V220.3H632.8ZM857.9 216.8H864.7V220.3H857.9ZM925.5 216.8H929.0V220.3H925.5ZM983.4 216.8H993.3V220.3H983.4ZM188.8 220.0H240.6V223.5H188.8ZM629.5 220.0H645.9V223.5H629.5ZM857.9 220.0H864.7V223.5H857.9ZM928.7 220.0H935.4V223.5H928.7ZM989.8 220.0H999.8V223.5H989.8ZM188.8 223.2H218.1V226.7H188.8ZM230.7 223.2H243.8V226.7H230.7ZM626.3 223.2H642.7V226.7H626.3ZM857.9 223.2H864.7V226.7H857.9ZM931.9 223.2H938.6V226.7H931.9ZM996.2 223.2H1006.2V226.7H996.2ZM192.1 226.4H211.7V230.0H192.1ZM237.1 226.4H243.8V230.0H237.1ZM619.9 226.4H639.5V230.0H619.9ZM861.1 226.4H864.7V230.0H861.1ZM935.1 226.4H941.9V230.0H935.1ZM1005.9 226.4H1012.6V230.0H1005.9ZM192.1 229.7H214.9V233.2H192.1ZM240.3 229.7H247.0V233.2H240.3ZM619.9 229.7H636.3V233.2H619.9ZM861.1 229.7H864.7V233.2H861.1ZM938.3 229.7H945.1V233.2H938.3ZM1012.3 229.7H1019.1V233.2H1012.3ZM195.3 232.9H211.7V236.4H195.3ZM240.3 232.9H247.0V236.4H240.3ZM613.5 232.9H636.3V236.4H613.5ZM864.4 232.9H867.9V236.4H864.4ZM944.8 232.9H954.7V236.4H944.8ZM1022.0 232.9H1028.7V236.4H1022.0ZM198.5 236.1H214.9V239.6H198.5ZM243.5 236.1H250.3V239.6H243.5ZM610.2 236.1H633.1V239.6H610.2ZM864.4 236.1H867.9V239.6H864.4ZM951.2 236.1H961.2V239.6H951.2ZM1028.4 236.1H1035.1V239.6H1028.4ZM201.7 239.3H218.1V242.8H201.7ZM240.3 239.3H250.3V242.8H240.3ZM607.0 239.3H626.6V242.8H607.0ZM864.4 239.3H867.9V242.8H864.4ZM964.1 239.3H970.8V242.8H964.1ZM1038.1 239.3H1041.6V242.8H1038.1ZM204.9 242.5H221.3V246.0H204.9ZM240.3 242.5H253.5V246.0H240.3ZM600.6 242.5H626.6V246.0H600.6ZM864.4 242.5H867.9V246.0H864.4ZM970.5 242.5H977.2V246.0H970.5ZM1044.5 242.5H1051.2V246.0H1044.5ZM211.4 245.7H231.0V249.3H211.4ZM243.5 245.7H253.5V249.3H243.5ZM600.6 245.7H620.2V249.3H600.6ZM867.6 245.7H871.1V249.3H867.6ZM980.2 245.7H986.9V249.3H980.2ZM1050.9 245.7H1057.7V249.3H1050.9ZM217.8 249.0H253.5V252.5H217.8ZM597.4 249.0H620.2V252.5H597.4ZM867.6 249.0H871.1V252.5H867.6ZM986.6 249.0H993.3V252.5H986.6ZM1057.4 249.0H1064.1V252.5H1057.4ZM227.4 252.2H250.3V255.7H227.4ZM597.4 252.2H617.0V255.7H597.4ZM867.6 252.2H874.3V255.7H867.6ZM993.0 252.2H999.8V255.7H993.0ZM1063.8 252.2H1070.5V255.7H1063.8ZM233.9 255.4H247.0V258.9H233.9ZM597.4 255.4H617.0V258.9H597.4ZM870.8 255.4H874.3V258.9H870.8ZM999.5 255.4H1006.2V258.9H999.5ZM1070.2 255.4H1073.8V258.9H1070.2ZM597.4 258.6H610.5V262.1H597.4ZM870.8 258.6H874.3V262.1H870.8ZM1005.9 258.6H1009.4V262.1H1005.9ZM1076.7 258.6H1080.2V262.1H1076.7ZM594.2 261.8H613.8V265.3H594.2ZM870.8 261.8H874.3V265.3H870.8ZM1009.1 261.8H1015.8V265.3H1009.1ZM1079.9 261.8H1083.4V265.3H1079.9ZM597.4 265.0H610.5V268.6H597.4ZM870.8 265.0H877.5V268.6H870.8ZM1015.5 265.0H1022.3V268.6H1015.5ZM1083.1 265.0H1086.6V268.6H1083.1ZM594.2 268.3H610.5V271.8H594.2ZM874.0 268.3H877.5V271.8H874.0ZM1022.0 268.3H1028.7V271.8H1022.0ZM1086.3 268.3H1089.8V271.8H1086.3ZM594.2 271.5H610.5V275.0H594.2ZM874.0 271.5H877.5V275.0H874.0ZM1028.4 271.5H1038.4V275.0H1028.4ZM1089.5 271.5H1093.1V275.0H1089.5ZM594.2 274.7H610.5V278.2H594.2ZM874.0 274.7H877.5V278.2H874.0ZM1044.5 274.7H1057.7V278.2H1044.5ZM1092.8 274.7H1096.3V278.2H1092.8ZM597.4 277.9H610.5V281.4H597.4ZM874.0 277.9H877.5V281.4H874.0ZM1067.0 277.9H1077.0V281.4H1067.0ZM1092.8 277.9H1096.3V281.4H1092.8ZM594.2 281.1H610.5V284.6H594.2ZM874.0 281.1H880.7V284.6H874.0ZM1079.9 281.1H1099.5V284.6H1079.9ZM597.4 284.3H610.5V287.9H597.4ZM874.0 284.3H877.5V287.9H874.0ZM1089.5 284.3H1099.5V287.9H1089.5ZM597.4 287.6H610.5V291.1H597.4ZM874.0 287.6H877.5V291.1H874.0ZM597.4 290.8H610.5V294.3H597.4ZM874.0 290.8H877.5V294.3H874.0ZM597.4 294.0H610.5V297.5H597.4ZM874.0 294.0H877.5V297.5H874.0ZM597.4 297.2H610.5V300.7H597.4ZM870.8 297.2H877.5V300.7H870.8ZM597.4 300.4H610.5V303.9H597.4ZM870.8 300.4H874.3V303.9H870.8ZM600.6 303.6H610.5V307.2H600.6ZM870.8 303.6H874.3V307.2H870.8ZM600.6 306.9H610.5V310.4H600.6ZM867.6 306.9H874.3V310.4H867.6ZM600.6 310.1H613.8V313.6H600.6ZM867.6 310.1H874.3V313.6H867.6ZM600.6 313.3H617.0V316.8H600.6ZM867.6 313.3H874.3V316.8H867.6ZM603.8 316.5H613.8V320.0H603.8ZM864.4 316.5H874.3V320.0H864.4ZM603.8 319.7H617.0V323.2H603.8ZM864.4 319.7H874.3V323.2H864.4ZM607.0 322.9H617.0V326.5H607.0ZM864.4 322.9H871.1V326.5H864.4ZM607.0 326.2H617.0V329.7H607.0ZM864.4 326.2H871.1V329.7H864.4ZM607.0 329.4H620.2V332.9H607.0ZM861.1 329.4H871.1V332.9H861.1ZM607.0 332.6H620.2V336.1H607.0ZM861.1 332.6H871.1V336.1H861.1ZM610.2 335.8H620.2V339.3H610.2ZM854.7 335.8H867.9V339.3H854.7ZM610.2 339.0H620.2V342.5H610.2ZM854.7 339.0H864.7V342.5H854.7ZM610.2 342.2H623.4V345.8H610.2ZM851.5 342.2H861.4V345.8H851.5ZM613.5 345.5H623.4V349.0H613.5ZM851.5 345.5H861.4V349.0H851.5ZM613.5 348.7H623.4V352.2H613.5ZM845.1 348.7H858.2V352.2H845.1ZM616.7 351.9H626.6V355.4H616.7ZM845.1 351.9H858.2V355.4H845.1ZM616.7 355.1H629.8V358.6H616.7ZM841.8 355.1H855.0V358.6H841.8ZM616.7 358.3H633.1V361.8H616.7ZM838.6 358.3H855.0V361.8H838.6ZM619.9 361.5H633.1V365.1H619.9ZM832.2 361.5H851.8V365.1H832.2ZM623.1 364.8H639.5V368.3H623.1ZM829.0 364.8H848.6V368.3H829.0ZM623.1 368.0H639.5V371.5H623.1ZM819.3 368.0H842.1V371.5H819.3ZM626.3 371.2H645.9V374.7H626.3ZM816.1 371.2H838.9V374.7H816.1ZM629.5 374.4H645.9V377.9H629.5ZM812.9 374.4H835.7V377.9H812.9ZM629.5 377.6H649.1V381.1H629.5ZM806.5 377.6H829.3V381.1H806.5ZM632.8 380.8H655.6V384.4H632.8ZM803.2 380.8H822.8V384.4H803.2ZM636.0 384.1H658.8V387.6H636.0ZM661.7 384.1H668.4V387.6H661.7ZM700.3 384.1H703.8V387.6H700.3ZM716.4 384.1H719.9V387.6H716.4ZM796.8 384.1H819.6V387.6H796.8ZM639.2 387.3H671.7V390.8H639.2ZM674.6 387.3H678.1V390.8H674.6ZM684.2 387.3H687.7V390.8H684.2ZM700.3 387.3H716.7V390.8H700.3ZM790.4 387.3H810.0V390.8H790.4ZM639.2 390.5H687.7V394.0H639.2ZM690.7 390.5H697.4V394.0H690.7ZM700.3 390.5H713.5V394.0H700.3ZM716.4 390.5H719.9V394.0H716.4ZM787.2 390.5H806.8V394.0H787.2ZM642.4 393.7H723.1V397.2H642.4ZM783.9 393.7H793.9V397.2H783.9ZM648.8 396.9H723.1V400.4H648.8ZM777.5 396.9H790.7V400.4H777.5ZM658.5 400.1H719.9V403.7H658.5ZM771.1 400.1H784.2V403.7H771.1ZM664.9 403.4H719.9V406.9H664.9ZM767.9 403.4H781.0V406.9H767.9ZM674.6 406.6H716.7V410.1H674.6ZM764.6 406.6H774.6V410.1H764.6ZM677.8 409.8H681.3V413.3H677.8ZM684.2 409.8H716.7V413.3H684.2ZM758.2 409.8H768.2V413.3H758.2ZM697.1 413.0H716.7V416.5H697.1ZM755.0 413.0H764.9V416.5H755.0ZM700.3 416.2H713.5V419.7H700.3ZM748.6 416.2H758.5V419.7H748.6ZM700.3 419.4H713.5V423.0H700.3ZM745.3 419.4H755.3V423.0H745.3ZM700.3 422.7H713.5V426.2H700.3ZM742.1 422.7H748.9V426.2H742.1ZM700.3 425.9H713.5V429.4H700.3ZM732.5 425.9H745.6V429.4H732.5ZM700.3 429.1H713.5V432.6H700.3ZM726.0 429.1H739.2V432.6H726.0ZM700.3 432.3H719.9V435.8H700.3ZM722.8 432.3H732.8V435.8H722.8ZM703.5 435.5H726.3V439.0H703.5ZM706.7 438.7H719.9V442.3H706.7ZM420.4 606.0H427.2V609.5H420.4ZM436.5 606.0H443.3V609.5H436.5ZM417.2 609.2H420.7V612.8H417.2ZM439.8 609.2H443.3V612.8H439.8ZM414.0 612.5H417.5V616.0H414.0ZM436.5 612.5H440.1V616.0H436.5ZM417.2 615.7H420.7V619.2H417.2ZM433.3 615.7H436.8V619.2H433.3ZM468.7 615.7H475.4V619.2H468.7ZM423.7 618.9H430.4V622.4H423.7ZM468.7 618.9H475.4V622.4H468.7Z"/>
<path fill="#1ad4d0" d="M568.4 133.2H571.9V136.7H568.4ZM574.9 133.2H578.4V136.7H574.9ZM597.4 139.6H604.1V143.1H597.4ZM250.0 142.8H253.5V146.3H250.0ZM266.0 142.8H269.6V146.3H266.0ZM578.1 142.8H581.6V146.3H578.1ZM603.8 142.8H610.5V146.3H603.8ZM903.0 142.8H916.1V146.3H903.0ZM919.0 142.8H922.6V146.3H919.0ZM269.3 146.0H272.8V149.5H269.3ZM603.8 146.0H607.3V149.5H603.8ZM899.7 146.0H925.8V149.5H899.7ZM584.5 149.2H588.0V152.8H584.5ZM603.8 149.2H607.3V152.8H603.8ZM899.7 149.2H929.0V152.8H899.7ZM230.7 152.5H234.2V156.0H230.7ZM262.8 152.5H266.3V156.0H262.8ZM590.9 152.5H594.5V156.0H590.9ZM600.6 152.5H604.1V156.0H600.6ZM899.7 152.5H929.0V156.0H899.7ZM227.4 155.7H231.0V159.2H227.4ZM899.7 155.7H929.0V159.2H899.7ZM230.7 158.9H234.2V162.4H230.7ZM237.1 158.9H240.6V162.4H237.1ZM899.7 158.9H932.2V162.4H899.7ZM899.7 162.1H935.4V165.6H899.7ZM903.0 165.3H935.4V168.8H903.0ZM903.0 168.5H935.4V172.1H903.0ZM796.8 171.8H806.8V175.3H796.8ZM903.0 171.8H938.6V175.3H903.0ZM790.4 175.0H800.3V178.5H790.4ZM803.2 175.0H813.2V178.5H803.2ZM906.2 175.0H938.6V178.5H906.2ZM787.2 178.2H793.9V181.7H787.2ZM812.9 178.2H822.8V181.7H812.9ZM909.4 178.2H941.9V181.7H909.4ZM777.5 181.4H784.2V184.9H777.5ZM819.3 181.4H829.3V184.9H819.3ZM915.8 181.4H941.9V184.9H915.8ZM771.1 184.6H774.6V188.1H771.1ZM825.8 184.6H835.7V188.1H825.8ZM915.8 184.6H945.1V188.1H915.8ZM761.4 187.8H768.2V191.4H761.4ZM835.4 187.8H845.4V191.4H835.4ZM919.0 187.8H948.3V191.4H919.0ZM755.0 191.1H761.7V194.6H755.0ZM838.6 191.1H845.4V194.6H838.6ZM919.0 191.1H948.3V194.6H919.0ZM745.3 194.3H755.3V197.8H745.3ZM845.1 194.3H851.8V197.8H845.1ZM922.3 194.3H951.5V197.8H922.3ZM738.9 197.5H745.6V201.0H738.9ZM845.1 197.5H851.8V201.0H845.1ZM922.3 197.5H957.9V201.0H922.3ZM729.3 200.7H739.2V204.2H729.3ZM848.3 200.7H855.0V204.2H848.3ZM922.3 200.7H964.4V204.2H922.3ZM722.8 203.9H726.3V207.4H722.8ZM848.3 203.9H855.0V207.4H848.3ZM922.3 203.9H938.6V207.4H922.3ZM951.2 203.9H964.4V207.4H951.2ZM713.2 207.1H719.9V210.7H713.2ZM848.3 207.1H858.2V210.7H848.3ZM922.3 207.1H935.4V210.7H922.3ZM957.6 207.1H970.8V210.7H957.6ZM706.7 210.4H710.3V213.9H706.7ZM848.3 210.4H855.0V213.9H848.3ZM925.5 210.4H938.6V213.9H925.5ZM964.1 210.4H974.0V213.9H964.1ZM687.4 213.6H700.6V217.1H687.4ZM851.5 213.6H858.2V217.1H851.5ZM928.7 213.6H935.4V217.1H928.7ZM970.5 213.6H977.2V217.1H970.5ZM661.7 216.8H694.2V220.3H661.7ZM851.5 216.8H858.2V220.3H851.5ZM928.7 216.8H941.9V220.3H928.7ZM976.9 216.8H983.7V220.3H976.9ZM645.6 220.0H681.3V223.5H645.6ZM854.7 220.0H858.2V223.5H854.7ZM935.1 220.0H945.1V223.5H935.1ZM983.4 220.0H990.1V223.5H983.4ZM217.8 223.2H231.0V226.7H217.8ZM642.4 223.2H671.7V226.7H642.4ZM854.7 223.2H858.2V226.7H854.7ZM938.3 223.2H945.1V226.7H938.3ZM989.8 223.2H996.5V226.7H989.8ZM211.4 226.4H237.4V230.0H211.4ZM639.2 226.4H665.2V230.0H639.2ZM854.7 226.4H861.4V230.0H854.7ZM941.6 226.4H948.3V230.0H941.6ZM996.2 226.4H1006.2V230.0H996.2ZM214.6 229.7H240.6V233.2H214.6ZM636.0 229.7H655.6V233.2H636.0ZM854.7 229.7H861.4V233.2H854.7ZM944.8 229.7H954.7V233.2H944.8ZM1002.7 229.7H1012.6V233.2H1002.7ZM211.4 232.9H240.6V236.4H211.4ZM636.0 232.9H652.4V236.4H636.0ZM854.7 232.9H864.7V236.4H854.7ZM954.4 232.9H964.4V236.4H954.4ZM1015.5 232.9H1022.3V236.4H1015.5ZM214.6 236.1H243.8V239.6H214.6ZM632.8 236.1H645.9V239.6H632.8ZM857.9 236.1H864.7V239.6H857.9ZM960.9 236.1H970.8V239.6H960.9ZM1022.0 236.1H1028.7V239.6H1022.0ZM217.8 239.3H240.6V242.8H217.8ZM626.3 239.3H645.9V242.8H626.3ZM857.9 239.3H864.7V242.8H857.9ZM970.5 239.3H977.2V242.8H970.5ZM1031.6 239.3H1038.4V242.8H1031.6ZM221.0 242.5H240.6V246.0H221.0ZM626.3 242.5H639.5V246.0H626.3ZM642.4 242.5H645.9V246.0H642.4ZM857.9 242.5H864.7V246.0H857.9ZM976.9 242.5H983.7V246.0H976.9ZM1038.1 242.5H1044.8V246.0H1038.1ZM230.7 245.7H243.8V249.3H230.7ZM619.9 245.7H639.5V249.3H619.9ZM861.1 245.7H867.9V249.3H861.1ZM986.6 245.7H990.1V249.3H986.6ZM1047.7 245.7H1051.2V249.3H1047.7ZM619.9 249.0H636.3V252.5H619.9ZM861.1 249.0H867.9V252.5H861.1ZM993.0 249.0H996.5V252.5H993.0ZM1054.1 249.0H1057.7V252.5H1054.1ZM616.7 252.2H633.1V255.7H616.7ZM861.1 252.2H867.9V255.7H861.1ZM999.5 252.2H1003.0V255.7H999.5ZM1060.6 252.2H1064.1V255.7H1060.6ZM616.7 255.4H629.8V258.9H616.7ZM864.4 255.4H871.1V258.9H864.4ZM1005.9 255.4H1009.4V258.9H1005.9ZM1063.8 255.4H1070.5V258.9H1063.8ZM610.2 258.6H633.1V262.1H610.2ZM864.4 258.6H871.1V262.1H864.4ZM1009.1 258.6H1015.8V262.1H1009.1ZM1070.2 258.6H1077.0V262.1H1070.2ZM613.5 261.8H629.8V265.3H613.5ZM864.4 261.8H871.1V265.3H864.4ZM1015.5 261.8H1022.3V265.3H1015.5ZM1076.7 261.8H1080.2V265.3H1076.7ZM610.2 265.0H629.8V268.6H610.2ZM864.4 265.0H871.1V268.6H864.4ZM1022.0 265.0H1025.5V268.6H1022.0ZM1079.9 265.0H1083.4V268.6H1079.9ZM610.2 268.3H629.8V271.8H610.2ZM867.6 268.3H874.3V271.8H867.6ZM1028.4 268.3H1035.1V271.8H1028.4ZM1083.1 268.3H1086.6V271.8H1083.1ZM610.2 271.5H626.6V275.0H610.2ZM867.6 271.5H874.3V275.0H867.6ZM1038.1 271.5H1051.2V275.0H1038.1ZM1086.3 271.5H1089.8V275.0H1086.3ZM610.2 274.7H626.6V278.2H610.2ZM870.8 274.7H874.3V278.2H870.8ZM1057.4 274.7H1070.5V278.2H1057.4ZM1073.5 274.7H1077.0V278.2H1073.5ZM1086.3 274.7H1093.1V278.2H1086.3ZM610.2 277.9H626.6V281.4H610.2ZM870.8 277.9H874.3V281.4H870.8ZM1076.7 277.9H1093.1V281.4H1076.7ZM610.2 281.1H626.6V284.6H610.2ZM867.6 281.1H874.3V284.6H867.6ZM610.2 284.3H626.6V287.9H610.2ZM870.8 284.3H874.3V287.9H870.8ZM610.2 287.6H623.4V291.1H610.2ZM867.6 287.6H874.3V291.1H867.6ZM610.2 290.8H620.2V294.3H610.2ZM867.6 290.8H874.3V294.3H867.6ZM610.2 294.0H623.4V297.5H610.2ZM867.6 294.0H874.3V297.5H867.6ZM610.2 297.2H623.4V300.7H610.2ZM864.4 297.2H871.1V300.7H864.4ZM610.2 300.4H623.4V303.9H610.2ZM864.4 300.4H871.1V303.9H864.4ZM610.2 303.6H626.6V307.2H610.2ZM864.4 303.6H871.1V307.2H864.4ZM610.2 306.9H626.6V310.4H610.2ZM861.1 306.9H867.9V310.4H861.1ZM613.5 310.1H626.6V313.6H613.5ZM861.1 310.1H867.9V313.6H861.1ZM616.7 313.3H626.6V316.8H616.7ZM861.1 313.3H867.9V316.8H861.1ZM613.5 316.5H626.6V320.0H613.5ZM861.1 316.5H864.7V320.0H861.1ZM616.7 319.7H629.8V323.2H616.7ZM857.9 319.7H864.7V323.2H857.9ZM616.7 322.9H626.6V326.5H616.7ZM854.7 322.9H864.7V326.5H854.7ZM616.7 326.2H633.1V329.7H616.7ZM854.7 326.2H864.7V329.7H854.7ZM619.9 329.4H629.8V332.9H619.9ZM851.5 329.4H861.4V332.9H851.5ZM619.9 332.6H629.8V336.1H619.9ZM848.3 332.6H861.4V336.1H848.3ZM619.9 335.8H636.3V339.3H619.9ZM848.3 335.8H855.0V339.3H848.3ZM619.9 339.0H636.3V342.5H619.9ZM841.8 339.0H855.0V342.5H841.8ZM623.1 342.2H636.3V345.8H623.1ZM838.6 342.2H851.8V345.8H838.6ZM623.1 345.5H639.5V349.0H623.1ZM835.4 345.5H851.8V349.0H835.4ZM623.1 348.7H639.5V352.2H623.1ZM832.2 348.7H845.4V352.2H832.2ZM626.3 351.9H642.7V355.4H626.3ZM829.0 351.9H845.4V355.4H829.0ZM629.5 355.1H645.9V358.6H629.5ZM829.0 355.1H842.1V358.6H829.0ZM632.8 358.3H649.1V361.8H632.8ZM822.5 358.3H838.9V361.8H822.5ZM632.8 361.5H649.1V365.1H632.8ZM652.1 361.5H658.8V365.1H652.1ZM664.9 361.5H668.4V365.1H664.9ZM726.0 361.5H729.6V365.1H726.0ZM816.1 361.5H832.5V365.1H816.1ZM639.2 364.8H655.6V368.3H639.2ZM658.5 364.8H662.0V368.3H658.5ZM668.1 364.8H671.7V368.3H668.1ZM812.9 364.8H829.3V368.3H812.9ZM639.2 368.0H665.2V371.5H639.2ZM697.1 368.0H742.4V371.5H697.1ZM806.5 368.0H819.6V371.5H806.5ZM645.6 371.2H678.1V374.7H645.6ZM681.0 371.2H742.4V374.7H681.0ZM803.2 371.2H816.4V374.7H803.2ZM645.6 374.4H742.4V377.9H645.6ZM796.8 374.4H813.2V377.9H796.8ZM648.8 377.6H742.4V381.1H648.8ZM793.6 377.6H806.8V381.1H793.6ZM655.3 380.8H739.2V384.4H655.3ZM790.4 380.8H803.5V384.4H790.4ZM658.5 384.1H662.0V387.6H658.5ZM668.1 384.1H700.6V387.6H668.1ZM703.5 384.1H716.7V387.6H703.5ZM719.6 384.1H739.2V387.6H719.6ZM783.9 384.1H797.1V387.6H783.9ZM671.4 387.3H674.9V390.8H671.4ZM677.8 387.3H684.5V390.8H677.8ZM687.4 387.3H700.6V390.8H687.4ZM716.4 387.3H739.2V390.8H716.4ZM780.7 387.3H790.7V390.8H780.7ZM687.4 390.5H691.0V394.0H687.4ZM697.1 390.5H700.6V394.0H697.1ZM713.2 390.5H716.7V394.0H713.2ZM719.6 390.5H736.0V394.0H719.6ZM777.5 390.5H787.5V394.0H777.5ZM722.8 393.7H736.0V397.2H722.8ZM774.3 393.7H784.2V397.2H774.3ZM722.8 396.9H732.8V400.4H722.8ZM767.9 396.9H777.8V400.4H767.9ZM719.6 400.1H729.6V403.7H719.6ZM764.6 400.1H771.4V403.7H764.6ZM719.6 403.4H726.3V406.9H719.6ZM761.4 403.4H768.2V406.9H761.4ZM716.4 406.6H729.6V410.1H716.4ZM755.0 406.6H764.9V410.1H755.0ZM716.4 409.8H726.3V413.3H716.4ZM748.6 409.8H758.5V413.3H748.6ZM716.4 413.0H726.3V416.5H716.4ZM745.3 413.0H755.3V416.5H745.3ZM713.2 416.2H726.3V419.7H713.2ZM742.1 416.2H748.9V419.7H742.1ZM713.2 419.4H726.3V423.0H713.2ZM735.7 419.4H745.6V423.0H735.7ZM713.2 422.7H729.6V426.2H713.2ZM732.5 422.7H742.4V426.2H732.5ZM713.2 425.9H732.8V429.4H713.2ZM713.2 429.1H726.3V432.6H713.2ZM719.6 432.3H723.1V435.8H719.6ZM426.9 606.0H436.8V609.5H426.9ZM420.4 609.2H424.0V612.8H420.4ZM436.5 609.2H440.1V612.8H436.5ZM417.2 612.5H420.7V616.0H417.2ZM433.3 612.5H436.8V616.0H433.3ZM420.4 615.7H424.0V619.2H420.4ZM430.1 615.7H433.6V619.2H430.1Z"/>
<path fill="#18d9c8" d="M571.6 136.4H575.2V139.9H571.6ZM581.3 136.4H584.8V139.9H581.3ZM574.9 139.6H578.4V143.1H574.9ZM590.9 139.6H597.7V143.1H590.9ZM253.2 142.8H266.3V146.3H253.2ZM597.4 142.8H604.1V146.3H597.4ZM266.0 146.0H269.6V149.5H266.0ZM581.3 146.0H584.8V149.5H581.3ZM600.6 146.0H604.1V149.5H600.6ZM237.1 149.2H240.6V152.8H237.1ZM266.0 149.2H269.6V152.8H266.0ZM587.7 149.2H591.2V152.8H587.7ZM600.6 149.2H604.1V152.8H600.6ZM259.6 152.5H263.1V156.0H259.6ZM594.2 152.5H600.9V156.0H594.2ZM250.0 155.7H253.5V159.2H250.0ZM233.9 158.9H237.4V162.4H233.9ZM800.0 175.0H803.5V178.5H800.0ZM793.6 178.2H813.2V181.7H793.6ZM783.9 181.4H793.9V184.9H783.9ZM809.7 181.4H819.6V184.9H809.7ZM774.3 184.6H781.0V188.1H774.3ZM819.3 184.6H826.1V188.1H819.3ZM767.9 187.8H777.8V191.4H767.9ZM822.5 187.8H835.7V191.4H822.5ZM761.4 191.1H768.2V194.6H761.4ZM832.2 191.1H838.9V194.6H832.2ZM755.0 194.3H761.7V197.8H755.0ZM835.4 194.3H845.4V197.8H835.4ZM745.3 197.5H758.5V201.0H745.3ZM835.4 197.5H845.4V201.0H835.4ZM738.9 200.7H748.9V204.2H738.9ZM841.8 200.7H848.6V204.2H841.8ZM726.0 203.9H739.2V207.4H726.0ZM845.1 203.9H848.6V207.4H845.1ZM938.3 203.9H951.5V207.4H938.3ZM719.6 207.1H723.1V210.7H719.6ZM845.1 207.1H848.6V210.7H845.1ZM935.1 207.1H957.9V210.7H935.1ZM710.0 210.4H716.7V213.9H710.0ZM845.1 210.4H848.6V213.9H845.1ZM938.3 210.4H964.4V213.9H938.3ZM700.3 213.6H710.3V217.1H700.3ZM845.1 213.6H851.8V217.1H845.1ZM935.1 213.6H954.7V217.1H935.1ZM957.6 213.6H970.8V217.1H957.6ZM693.9 216.8H703.8V220.3H693.9ZM845.1 216.8H851.8V220.3H845.1ZM941.6 216.8H948.3V220.3H941.6ZM951.2 216.8H954.7V220.3H951.2ZM957.6 216.8H961.2V220.3H957.6ZM964.1 216.8H977.2V220.3H964.1ZM681.0 220.0H697.4V223.5H681.0ZM848.3 220.0H855.0V223.5H848.3ZM944.8 220.0H954.7V223.5H944.8ZM973.7 220.0H983.7V223.5H973.7ZM671.4 223.2H691.0V226.7H671.4ZM848.3 223.2H855.0V226.7H848.3ZM944.8 223.2H957.9V226.7H944.8ZM983.4 223.2H990.1V226.7H983.4ZM664.9 226.4H681.3V230.0H664.9ZM848.3 226.4H855.0V230.0H848.3ZM948.0 226.4H957.9V230.0H948.0ZM989.8 226.4H996.5V230.0H989.8ZM655.3 229.7H681.3V233.2H655.3ZM848.3 229.7H855.0V233.2H848.3ZM954.4 229.7H964.4V233.2H954.4ZM999.5 229.7H1003.0V233.2H999.5ZM652.1 232.9H678.1V236.4H652.1ZM848.3 232.9H855.0V236.4H848.3ZM964.1 232.9H970.8V236.4H964.1ZM1005.9 232.9H1015.8V236.4H1005.9ZM645.6 236.1H668.4V239.6H645.6ZM851.5 236.1H858.2V239.6H851.5ZM970.5 236.1H977.2V239.6H970.5ZM1015.5 236.1H1022.3V239.6H1015.5ZM645.6 239.3H668.4V242.8H645.6ZM851.5 239.3H858.2V242.8H851.5ZM976.9 239.3H986.9V242.8H976.9ZM1025.2 239.3H1031.9V242.8H1025.2ZM639.2 242.5H642.7V246.0H639.2ZM645.6 242.5H662.0V246.0H645.6ZM854.7 242.5H858.2V246.0H854.7ZM983.4 242.5H990.1V246.0H983.4ZM1031.6 242.5H1038.4V246.0H1031.6ZM639.2 245.7H655.6V249.3H639.2ZM658.5 245.7H662.0V249.3H658.5ZM854.7 245.7H861.4V249.3H854.7ZM989.8 245.7H996.5V249.3H989.8ZM1041.3 245.7H1048.0V249.3H1041.3ZM636.0 249.0H658.8V252.5H636.0ZM854.7 249.0H861.4V252.5H854.7ZM996.2 249.0H1003.0V252.5H996.2ZM1047.7 249.0H1054.4V252.5H1047.7ZM632.8 252.2H652.4V255.7H632.8ZM655.3 252.2H662.0V255.7H655.3ZM854.7 252.2H861.4V255.7H854.7ZM1002.7 252.2H1006.2V255.7H1002.7ZM1054.1 252.2H1060.9V255.7H1054.1ZM629.5 255.4H649.1V258.9H629.5ZM652.1 255.4H655.6V258.9H652.1ZM854.7 255.4H864.7V258.9H854.7ZM1009.1 255.4H1012.6V258.9H1009.1ZM1060.6 255.4H1064.1V258.9H1060.6ZM632.8 258.6H652.4V262.1H632.8ZM857.9 258.6H864.7V262.1H857.9ZM1015.5 258.6H1019.1V262.1H1015.5ZM1067.0 258.6H1070.5V262.1H1067.0ZM629.5 261.8H645.9V265.3H629.5ZM857.9 261.8H864.7V265.3H857.9ZM1022.0 261.8H1025.5V265.3H1022.0ZM1070.2 261.8H1077.0V265.3H1070.2ZM629.5 265.0H645.9V268.6H629.5ZM857.9 265.0H864.7V268.6H857.9ZM1025.2 265.0H1031.9V268.6H1025.2ZM1073.5 265.0H1080.2V268.6H1073.5ZM629.5 268.3H645.9V271.8H629.5ZM857.9 268.3H867.9V271.8H857.9ZM1034.8 268.3H1044.8V271.8H1034.8ZM1076.7 268.3H1083.4V271.8H1076.7ZM626.3 271.5H639.5V275.0H626.3ZM642.4 271.5H645.9V275.0H642.4ZM857.9 271.5H867.9V275.0H857.9ZM1050.9 271.5H1067.3V275.0H1050.9ZM1070.2 271.5H1086.6V275.0H1070.2ZM626.3 274.7H636.3V278.2H626.3ZM861.1 274.7H871.1V278.2H861.1ZM1070.2 274.7H1073.8V278.2H1070.2ZM1076.7 274.7H1086.6V278.2H1076.7ZM626.3 277.9H639.5V281.4H626.3ZM861.1 277.9H871.1V281.4H861.1ZM626.3 281.1H639.5V284.6H626.3ZM864.4 281.1H867.9V284.6H864.4ZM626.3 284.3H642.7V287.9H626.3ZM864.4 284.3H871.1V287.9H864.4ZM623.1 287.6H639.5V291.1H623.1ZM861.1 287.6H867.9V291.1H861.1ZM619.9 290.8H636.3V294.3H619.9ZM861.1 290.8H867.9V294.3H861.1ZM623.1 294.0H633.1V297.5H623.1ZM861.1 294.0H867.9V297.5H861.1ZM623.1 297.2H636.3V300.7H623.1ZM861.1 297.2H864.7V300.7H861.1ZM623.1 300.4H639.5V303.9H623.1ZM857.9 300.4H864.7V303.9H857.9ZM626.3 303.6H636.3V307.2H626.3ZM857.9 303.6H864.7V307.2H857.9ZM626.3 306.9H639.5V310.4H626.3ZM857.9 306.9H861.4V310.4H857.9ZM626.3 310.1H636.3V313.6H626.3ZM639.2 310.1H642.7V313.6H639.2ZM854.7 310.1H861.4V313.6H854.7ZM626.3 313.3H639.5V316.8H626.3ZM854.7 313.3H861.4V316.8H854.7ZM626.3 316.5H636.3V320.0H626.3ZM851.5 316.5H861.4V320.0H851.5ZM629.5 319.7H639.5V323.2H629.5ZM851.5 319.7H858.2V323.2H851.5ZM626.3 322.9H642.7V326.5H626.3ZM848.3 322.9H855.0V326.5H848.3ZM632.8 326.2H639.5V329.7H632.8ZM845.1 326.2H855.0V329.7H845.1ZM629.5 329.4H642.7V332.9H629.5ZM645.6 329.4H649.1V332.9H645.6ZM845.1 329.4H851.8V332.9H845.1ZM629.5 332.6H645.9V336.1H629.5ZM838.6 332.6H848.6V336.1H838.6ZM636.0 335.8H645.9V339.3H636.0ZM838.6 335.8H848.6V339.3H838.6ZM636.0 339.0H649.1V342.5H636.0ZM652.1 339.0H655.6V342.5H652.1ZM832.2 339.0H842.1V342.5H832.2ZM636.0 342.2H658.8V345.8H636.0ZM829.0 342.2H838.9V345.8H829.0ZM639.2 345.5H662.0V349.0H639.2ZM664.9 345.5H668.4V349.0H664.9ZM722.8 345.5H726.3V349.0H722.8ZM829.0 345.5H835.7V349.0H829.0ZM639.2 348.7H665.2V352.2H639.2ZM671.4 348.7H681.3V352.2H671.4ZM697.1 348.7H700.6V352.2H697.1ZM745.3 348.7H752.1V352.2H745.3ZM825.8 348.7H832.5V352.2H825.8ZM642.4 351.9H665.2V355.4H642.4ZM668.1 351.9H691.0V355.4H668.1ZM693.9 351.9H703.8V355.4H693.9ZM706.7 351.9H710.3V355.4H706.7ZM713.2 351.9H748.9V355.4H713.2ZM751.8 351.9H755.3V355.4H751.8ZM816.1 351.9H829.3V355.4H816.1ZM645.6 355.1H687.7V358.6H645.6ZM690.7 355.1H694.2V358.6H690.7ZM697.1 355.1H758.5V358.6H697.1ZM761.4 355.1H764.9V358.6H761.4ZM816.1 355.1H829.3V358.6H816.1ZM648.8 358.3H761.7V361.8H648.8ZM812.9 358.3H822.8V361.8H812.9ZM648.8 361.5H652.4V365.1H648.8ZM658.5 361.5H665.2V365.1H658.5ZM668.1 361.5H726.3V365.1H668.1ZM729.3 361.5H758.5V365.1H729.3ZM806.5 361.5H816.4V365.1H806.5ZM655.3 364.8H658.8V368.3H655.3ZM661.7 364.8H668.4V368.3H661.7ZM671.4 364.8H755.3V368.3H671.4ZM803.2 364.8H813.2V368.3H803.2ZM664.9 368.0H697.4V371.5H664.9ZM742.1 368.0H755.3V371.5H742.1ZM800.0 368.0H806.8V371.5H800.0ZM677.8 371.2H681.3V374.7H677.8ZM742.1 371.2H755.3V374.7H742.1ZM793.6 371.2H803.5V374.7H793.6ZM742.1 374.4H752.1V377.9H742.1ZM793.6 374.4H797.1V377.9H793.6ZM742.1 377.6H748.9V381.1H742.1ZM787.2 377.6H793.9V381.1H787.2ZM738.9 380.8H748.9V384.4H738.9ZM783.9 380.8H790.7V384.4H783.9ZM738.9 384.1H748.9V387.6H738.9ZM777.5 384.1H784.2V387.6H777.5ZM738.9 387.3H745.6V390.8H738.9ZM774.3 387.3H781.0V390.8H774.3ZM735.7 390.5H745.6V394.0H735.7ZM771.1 390.5H777.8V394.0H771.1ZM735.7 393.7H742.4V397.2H735.7ZM767.9 393.7H774.6V397.2H767.9ZM732.5 396.9H742.4V400.4H732.5ZM761.4 396.9H768.2V400.4H761.4ZM729.3 400.1H739.2V403.7H729.3ZM755.0 400.1H764.9V403.7H755.0ZM726.0 403.4H739.2V406.9H726.0ZM755.0 403.4H761.7V406.9H755.0ZM729.3 406.6H739.2V410.1H729.3ZM745.3 406.6H755.3V410.1H745.3ZM726.0 409.8H748.9V413.3H726.0ZM726.0 413.0H745.6V416.5H726.0ZM726.0 416.2H742.4V419.7H726.0ZM726.0 419.4H736.0V423.0H726.0ZM729.3 422.7H732.8V426.2H729.3ZM423.7 609.2H436.8V612.8H423.7ZM420.4 612.5H433.6V616.0H420.4ZM423.7 615.7H430.4V619.2H423.7Z"/>
<path fill="#18ddc2" d="M587.7 139.6H591.2V143.1H587.7ZM590.9 142.8H597.7V146.3H590.9ZM243.5 146.0H247.0V149.5H243.5ZM584.5 146.0H588.0V149.5H584.5ZM597.4 146.0H600.9V149.5H597.4ZM262.8 149.2H266.3V152.8H262.8ZM590.9 149.2H600.9V152.8H590.9ZM233.9 152.5H237.4V156.0H233.9ZM256.4 152.5H259.9V156.0H256.4ZM230.7 155.7H234.2V159.2H230.7ZM243.5 155.7H250.3V159.2H243.5ZM793.6 181.4H810.0V184.9H793.6ZM780.7 184.6H793.9V188.1H780.7ZM809.7 184.6H819.6V188.1H809.7ZM777.5 187.8H781.0V191.4H777.5ZM819.3 187.8H822.8V191.4H819.3ZM767.9 191.1H777.8V194.6H767.9ZM822.5 191.1H832.5V194.6H822.5ZM761.4 194.3H771.4V197.8H761.4ZM825.8 194.3H835.7V197.8H825.8ZM758.2 197.5H764.9V201.0H758.2ZM832.2 197.5H835.7V201.0H832.2ZM748.6 200.7H755.3V204.2H748.6ZM758.2 200.7H761.7V204.2H758.2ZM835.4 200.7H842.1V204.2H835.4ZM738.9 203.9H752.1V207.4H738.9ZM835.4 203.9H845.4V207.4H835.4ZM722.8 207.1H729.6V210.7H722.8ZM732.5 207.1H736.0V210.7H732.5ZM841.8 207.1H845.4V210.7H841.8ZM716.4 210.4H719.9V213.9H716.4ZM838.6 210.4H845.4V213.9H838.6ZM710.0 213.6H713.5V217.1H710.0ZM838.6 213.6H845.4V217.1H838.6ZM954.4 213.6H957.9V217.1H954.4ZM703.5 216.8H707.0V220.3H703.5ZM841.8 216.8H845.4V220.3H841.8ZM948.0 216.8H951.5V220.3H948.0ZM954.4 216.8H957.9V220.3H954.4ZM960.9 216.8H964.4V220.3H960.9ZM697.1 220.0H700.6V223.5H697.1ZM841.8 220.0H848.6V223.5H841.8ZM954.4 220.0H974.0V223.5H954.4ZM690.7 223.2H697.4V226.7H690.7ZM841.8 223.2H848.6V226.7H841.8ZM957.6 223.2H983.7V226.7H957.6ZM681.0 226.4H694.2V230.0H681.0ZM841.8 226.4H848.6V230.0H841.8ZM957.6 226.4H990.1V230.0H957.6ZM681.0 229.7H687.7V233.2H681.0ZM845.1 229.7H848.6V233.2H845.1ZM964.1 229.7H983.7V233.2H964.1ZM986.6 229.7H999.8V233.2H986.6ZM677.8 232.9H687.7V236.4H677.8ZM845.1 232.9H848.6V236.4H845.1ZM970.5 232.9H986.9V236.4H970.5ZM993.0 232.9H1006.2V236.4H993.0ZM668.1 236.1H684.5V239.6H668.1ZM841.8 236.1H851.8V239.6H841.8ZM976.9 236.1H986.9V239.6H976.9ZM1005.9 236.1H1015.8V239.6H1005.9ZM668.1 239.3H681.3V242.8H668.1ZM845.1 239.3H851.8V242.8H845.1ZM986.6 239.3H993.3V242.8H986.6ZM1018.8 239.3H1025.5V242.8H1018.8ZM661.7 242.5H678.1V246.0H661.7ZM845.1 242.5H855.0V246.0H845.1ZM989.8 242.5H996.5V246.0H989.8ZM1028.4 242.5H1031.9V246.0H1028.4ZM655.3 245.7H658.8V249.3H655.3ZM661.7 245.7H678.1V249.3H661.7ZM848.3 245.7H855.0V249.3H848.3ZM996.2 245.7H1003.0V249.3H996.2ZM1034.8 245.7H1041.6V249.3H1034.8ZM658.5 249.0H674.9V252.5H658.5ZM848.3 249.0H855.0V252.5H848.3ZM1002.7 249.0H1006.2V252.5H1002.7ZM1041.3 249.0H1048.0V252.5H1041.3ZM652.1 252.2H655.6V255.7H652.1ZM661.7 252.2H671.7V255.7H661.7ZM848.3 252.2H855.0V255.7H848.3ZM1005.9 252.2H1012.6V255.7H1005.9ZM1050.9 252.2H1054.4V255.7H1050.9ZM648.8 255.4H652.4V258.9H648.8ZM655.3 255.4H668.4V258.9H655.3ZM848.3 255.4H855.0V258.9H848.3ZM1012.3 255.4H1015.8V258.9H1012.3ZM1057.4 255.4H1060.9V258.9H1057.4ZM652.1 258.6H665.2V262.1H652.1ZM668.1 258.6H671.7V262.1H668.1ZM848.3 258.6H858.2V262.1H848.3ZM1018.8 258.6H1022.3V262.1H1018.8ZM1060.6 258.6H1067.3V262.1H1060.6ZM645.6 261.8H662.0V265.3H645.6ZM848.3 261.8H858.2V265.3H848.3ZM1025.2 261.8H1031.9V265.3H1025.2ZM1063.8 261.8H1070.5V265.3H1063.8ZM645.6 265.0H662.0V268.6H645.6ZM851.5 265.0H858.2V268.6H851.5ZM1031.6 265.0H1041.6V268.6H1031.6ZM1067.0 265.0H1073.8V268.6H1067.0ZM645.6 268.3H658.8V271.8H645.6ZM661.7 268.3H665.2V271.8H661.7ZM851.5 268.3H858.2V271.8H851.5ZM1044.5 268.3H1077.0V271.8H1044.5ZM639.2 271.5H642.7V275.0H639.2ZM645.6 271.5H662.0V275.0H645.6ZM851.5 271.5H858.2V275.0H851.5ZM1067.0 271.5H1070.5V275.0H1067.0ZM636.0 274.7H655.6V278.2H636.0ZM851.5 274.7H861.4V278.2H851.5ZM639.2 277.9H658.8V281.4H639.2ZM851.5 277.9H861.4V281.4H851.5ZM639.2 281.1H655.6V284.6H639.2ZM851.5 281.1H864.7V284.6H851.5ZM642.4 284.3H652.4V287.9H642.4ZM851.5 284.3H864.7V287.9H851.5ZM639.2 287.6H652.4V291.1H639.2ZM854.7 287.6H861.4V291.1H854.7ZM636.0 290.8H652.4V294.3H636.0ZM851.5 290.8H861.4V294.3H851.5ZM632.8 294.0H649.1V297.5H632.8ZM652.1 294.0H655.6V297.5H652.1ZM854.7 294.0H861.4V297.5H854.7ZM636.0 297.2H652.4V300.7H636.0ZM854.7 297.2H861.4V300.7H854.7ZM639.2 300.4H652.4V303.9H639.2ZM851.5 300.4H858.2V303.9H851.5ZM636.0 303.6H655.6V307.2H636.0ZM658.5 303.6H662.0V307.2H658.5ZM851.5 303.6H858.2V307.2H851.5ZM639.2 306.9H652.4V310.4H639.2ZM851.5 306.9H858.2V310.4H851.5ZM636.0 310.1H639.5V313.6H636.0ZM642.4 310.1H655.6V313.6H642.4ZM848.3 310.1H855.0V313.6H848.3ZM639.2 313.3H655.6V316.8H639.2ZM845.1 313.3H855.0V316.8H845.1ZM636.0 316.5H655.6V320.0H636.0ZM658.5 316.5H662.0V320.0H658.5ZM845.1 316.5H851.8V320.0H845.1ZM639.2 319.7H655.6V323.2H639.2ZM661.7 319.7H665.2V323.2H661.7ZM841.8 319.7H851.8V323.2H841.8ZM642.4 322.9H658.8V326.5H642.4ZM838.6 322.9H848.6V326.5H838.6ZM639.2 326.2H662.0V329.7H639.2ZM664.9 326.2H668.4V329.7H664.9ZM674.6 326.2H678.1V329.7H674.6ZM835.4 326.2H845.4V329.7H835.4ZM642.4 329.4H645.9V332.9H642.4ZM648.8 329.4H665.2V332.9H648.8ZM668.1 329.4H671.7V332.9H668.1ZM677.8 329.4H681.3V332.9H677.8ZM838.6 329.4H845.4V332.9H838.6ZM645.6 332.6H671.7V336.1H645.6ZM674.6 332.6H678.1V336.1H674.6ZM681.0 332.6H684.5V336.1H681.0ZM697.1 332.6H700.6V336.1H697.1ZM703.5 332.6H713.5V336.1H703.5ZM726.0 332.6H729.6V336.1H726.0ZM832.2 332.6H838.9V336.1H832.2ZM645.6 335.8H678.1V339.3H645.6ZM681.0 335.8H697.4V339.3H681.0ZM706.7 335.8H710.3V339.3H706.7ZM713.2 335.8H729.6V339.3H713.2ZM738.9 335.8H742.4V339.3H738.9ZM745.3 335.8H748.9V339.3H745.3ZM832.2 335.8H838.9V339.3H832.2ZM648.8 339.0H652.4V342.5H648.8ZM655.3 339.0H732.8V342.5H655.3ZM735.7 339.0H739.2V342.5H735.7ZM742.1 339.0H745.6V342.5H742.1ZM748.6 339.0H761.7V342.5H748.6ZM764.6 339.0H771.4V342.5H764.6ZM825.8 339.0H832.5V342.5H825.8ZM658.5 342.2H771.4V345.8H658.5ZM825.8 342.2H829.3V345.8H825.8ZM661.7 345.5H665.2V349.0H661.7ZM668.1 345.5H723.1V349.0H668.1ZM726.0 345.5H774.6V349.0H726.0ZM819.3 345.5H829.3V349.0H819.3ZM664.9 348.7H671.7V352.2H664.9ZM681.0 348.7H697.4V352.2H681.0ZM700.3 348.7H745.6V352.2H700.3ZM751.8 348.7H774.6V352.2H751.8ZM816.1 348.7H826.1V352.2H816.1ZM664.9 351.9H668.4V355.4H664.9ZM690.7 351.9H694.2V355.4H690.7ZM703.5 351.9H707.0V355.4H703.5ZM710.0 351.9H713.5V355.4H710.0ZM748.6 351.9H752.1V355.4H748.6ZM755.0 351.9H771.4V355.4H755.0ZM812.9 351.9H816.4V355.4H812.9ZM687.4 355.1H691.0V358.6H687.4ZM693.9 355.1H697.4V358.6H693.9ZM758.2 355.1H761.7V358.6H758.2ZM764.6 355.1H771.4V358.6H764.6ZM809.7 355.1H816.4V358.6H809.7ZM761.4 358.3H771.4V361.8H761.4ZM803.2 358.3H813.2V361.8H803.2ZM758.2 361.5H768.2V365.1H758.2ZM800.0 361.5H806.8V365.1H800.0ZM755.0 364.8H764.9V368.3H755.0ZM796.8 364.8H803.5V368.3H796.8ZM755.0 368.0H764.9V371.5H755.0ZM793.6 368.0H800.3V371.5H793.6ZM755.0 371.2H761.7V374.7H755.0ZM790.4 371.2H793.9V374.7H790.4ZM751.8 374.4H758.5V377.9H751.8ZM787.2 374.4H793.9V377.9H787.2ZM748.6 377.6H758.5V381.1H748.6ZM780.7 377.6H787.5V381.1H780.7ZM748.6 380.8H761.7V384.4H748.6ZM777.5 380.8H784.2V384.4H777.5ZM748.6 384.1H755.3V387.6H748.6ZM774.3 384.1H777.8V387.6H774.3ZM745.3 387.3H755.3V390.8H745.3ZM767.9 387.3H774.6V390.8H767.9ZM745.3 390.5H752.1V394.0H745.3ZM764.6 390.5H771.4V394.0H764.6ZM742.1 393.7H752.1V397.2H742.1ZM755.0 393.7H768.2V397.2H755.0ZM742.1 396.9H761.7V400.4H742.1ZM738.9 400.1H755.3V403.7H738.9ZM738.9 403.4H755.3V406.9H738.9ZM738.9 406.6H745.6V410.1H738.9Z"/>
<path fill="#19e2bb" d="M574.9 136.4H581.6V139.9H574.9ZM578.1 139.6H588.0V143.1H578.1ZM581.3 142.8H584.8V146.3H581.3ZM587.7 142.8H591.2V146.3H587.7ZM262.8 146.0H266.3V149.5H262.8ZM587.7 146.0H597.7V149.5H587.7ZM240.3 149.2H243.8V152.8H240.3ZM233.9 155.7H243.8V159.2H233.9ZM793.6 184.6H810.0V188.1H793.6ZM780.7 187.8H797.1V191.4H780.7ZM809.7 187.8H819.6V191.4H809.7ZM777.5 191.1H784.2V194.6H777.5ZM816.1 191.1H822.8V194.6H816.1ZM771.1 194.3H781.0V197.8H771.1ZM822.5 194.3H826.1V197.8H822.5ZM764.6 197.5H771.4V201.0H764.6ZM829.0 197.5H832.5V201.0H829.0ZM755.0 200.7H758.5V204.2H755.0ZM761.4 200.7H771.4V204.2H761.4ZM829.0 200.7H835.7V204.2H829.0ZM751.8 203.9H758.5V207.4H751.8ZM832.2 203.9H835.7V207.4H832.2ZM729.3 207.1H732.8V210.7H729.3ZM735.7 207.1H752.1V210.7H735.7ZM835.4 207.1H842.1V210.7H835.4ZM719.6 210.4H729.6V213.9H719.6ZM835.4 210.4H838.9V213.9H835.4ZM713.2 213.6H716.7V217.1H713.2ZM835.4 213.6H838.9V217.1H835.4ZM706.7 216.8H713.5V220.3H706.7ZM838.6 216.8H842.1V220.3H838.6ZM700.3 220.0H707.0V223.5H700.3ZM835.4 220.0H842.1V223.5H835.4ZM697.1 223.2H703.8V226.7H697.1ZM838.6 223.2H842.1V226.7H838.6ZM693.9 226.4H697.4V230.0H693.9ZM835.4 226.4H842.1V230.0H835.4ZM687.4 229.7H694.2V233.2H687.4ZM841.8 229.7H845.4V233.2H841.8ZM983.4 229.7H986.9V233.2H983.4ZM687.4 232.9H691.0V236.4H687.4ZM835.4 232.9H845.4V236.4H835.4ZM986.6 232.9H993.3V236.4H986.6ZM684.2 236.1H687.7V239.6H684.2ZM838.6 236.1H842.1V239.6H838.6ZM986.6 236.1H1006.2V239.6H986.6ZM681.0 239.3H687.7V242.8H681.0ZM838.6 239.3H845.4V242.8H838.6ZM993.0 239.3H1006.2V242.8H993.0ZM1009.1 239.3H1019.1V242.8H1009.1ZM677.8 242.5H687.7V246.0H677.8ZM835.4 242.5H845.4V246.0H835.4ZM996.2 242.5H1003.0V246.0H996.2ZM1012.3 242.5H1019.1V246.0H1012.3ZM1022.0 242.5H1028.7V246.0H1022.0ZM677.8 245.7H687.7V249.3H677.8ZM838.6 245.7H848.6V249.3H838.6ZM1002.7 245.7H1006.2V249.3H1002.7ZM1028.4 245.7H1035.1V249.3H1028.4ZM674.6 249.0H684.5V252.5H674.6ZM838.6 249.0H848.6V252.5H838.6ZM1005.9 249.0H1012.6V252.5H1005.9ZM1038.1 249.0H1041.6V252.5H1038.1ZM671.4 252.2H684.5V255.7H671.4ZM838.6 252.2H848.6V255.7H838.6ZM1012.3 252.2H1019.1V255.7H1012.3ZM1044.5 252.2H1051.2V255.7H1044.5ZM668.1 255.4H684.5V258.9H668.1ZM838.6 255.4H848.6V258.9H838.6ZM1015.5 255.4H1022.3V258.9H1015.5ZM1050.9 255.4H1057.7V258.9H1050.9ZM664.9 258.6H668.4V262.1H664.9ZM671.4 258.6H681.3V262.1H671.4ZM841.8 258.6H848.6V262.1H841.8ZM1022.0 258.6H1031.9V262.1H1022.0ZM1054.1 258.6H1060.9V262.1H1054.1ZM661.7 261.8H678.1V265.3H661.7ZM681.0 261.8H684.5V265.3H681.0ZM841.8 261.8H848.6V265.3H841.8ZM1031.6 261.8H1038.4V265.3H1031.6ZM1054.1 261.8H1057.7V265.3H1054.1ZM1060.6 261.8H1064.1V265.3H1060.6ZM661.7 265.0H674.9V268.6H661.7ZM841.8 265.0H851.8V268.6H841.8ZM1041.3 265.0H1067.3V268.6H1041.3ZM658.5 268.3H662.0V271.8H658.5ZM664.9 268.3H678.1V271.8H664.9ZM845.1 268.3H851.8V271.8H845.1ZM661.7 271.5H678.1V275.0H661.7ZM838.6 271.5H851.8V275.0H838.6ZM655.3 274.7H678.1V278.2H655.3ZM841.8 274.7H851.8V278.2H841.8ZM658.5 277.9H674.9V281.4H658.5ZM845.1 277.9H851.8V281.4H845.1ZM655.3 281.1H674.9V284.6H655.3ZM845.1 281.1H851.8V284.6H845.1ZM652.1 284.3H671.7V287.9H652.1ZM677.8 284.3H681.3V287.9H677.8ZM845.1 284.3H851.8V287.9H845.1ZM652.1 287.6H674.9V291.1H652.1ZM845.1 287.6H855.0V291.1H845.1ZM652.1 290.8H674.9V294.3H652.1ZM845.1 290.8H851.8V294.3H845.1ZM648.8 294.0H652.4V297.5H648.8ZM655.3 294.0H668.4V297.5H655.3ZM671.4 294.0H678.1V297.5H671.4ZM838.6 294.0H842.1V297.5H838.6ZM848.3 294.0H855.0V297.5H848.3ZM652.1 297.2H668.4V300.7H652.1ZM671.4 297.2H678.1V300.7H671.4ZM845.1 297.2H855.0V300.7H845.1ZM652.1 300.4H678.1V303.9H652.1ZM845.1 300.4H851.8V303.9H845.1ZM655.3 303.6H658.8V307.2H655.3ZM661.7 303.6H678.1V307.2H661.7ZM845.1 303.6H851.8V307.2H845.1ZM652.1 306.9H674.9V310.4H652.1ZM677.8 306.9H681.3V310.4H677.8ZM684.2 306.9H687.7V310.4H684.2ZM700.3 306.9H703.8V310.4H700.3ZM825.8 306.9H829.3V310.4H825.8ZM845.1 306.9H851.8V310.4H845.1ZM655.3 310.1H678.1V313.6H655.3ZM681.0 310.1H687.7V313.6H681.0ZM841.8 310.1H848.6V313.6H841.8ZM655.3 313.3H684.5V316.8H655.3ZM687.4 313.3H691.0V316.8H687.4ZM693.9 313.3H697.4V316.8H693.9ZM700.3 313.3H703.8V316.8H700.3ZM841.8 313.3H845.4V316.8H841.8ZM655.3 316.5H658.8V320.0H655.3ZM661.7 316.5H703.8V320.0H661.7ZM713.2 316.5H716.7V320.0H713.2ZM838.6 316.5H845.4V320.0H838.6ZM655.3 319.7H662.0V323.2H655.3ZM664.9 319.7H694.2V323.2H664.9ZM697.1 319.7H716.7V323.2H697.1ZM726.0 319.7H736.0V323.2H726.0ZM787.2 319.7H790.7V323.2H787.2ZM835.4 319.7H842.1V323.2H835.4ZM658.5 322.9H723.1V326.5H658.5ZM726.0 322.9H732.8V326.5H726.0ZM735.7 322.9H742.4V326.5H735.7ZM771.1 322.9H781.0V326.5H771.1ZM835.4 322.9H838.9V326.5H835.4ZM661.7 326.2H665.2V329.7H661.7ZM668.1 326.2H674.9V329.7H668.1ZM677.8 326.2H736.0V329.7H677.8ZM738.9 326.2H742.4V329.7H738.9ZM758.2 326.2H764.9V329.7H758.2ZM780.7 326.2H784.2V329.7H780.7ZM832.2 326.2H835.7V329.7H832.2ZM664.9 329.4H668.4V332.9H664.9ZM671.4 329.4H678.1V332.9H671.4ZM681.0 329.4H761.7V332.9H681.0ZM764.6 329.4H771.4V332.9H764.6ZM774.3 329.4H777.8V332.9H774.3ZM780.7 329.4H793.9V332.9H780.7ZM832.2 329.4H838.9V332.9H832.2ZM671.4 332.6H674.9V336.1H671.4ZM677.8 332.6H681.3V336.1H677.8ZM684.2 332.6H697.4V336.1H684.2ZM700.3 332.6H703.8V336.1H700.3ZM713.2 332.6H726.3V336.1H713.2ZM729.3 332.6H781.0V336.1H729.3ZM783.9 332.6H790.7V336.1H783.9ZM825.8 332.6H832.5V336.1H825.8ZM677.8 335.8H681.3V339.3H677.8ZM697.1 335.8H707.0V339.3H697.1ZM710.0 335.8H713.5V339.3H710.0ZM729.3 335.8H739.2V339.3H729.3ZM742.1 335.8H745.6V339.3H742.1ZM748.6 335.8H790.7V339.3H748.6ZM822.5 335.8H832.5V339.3H822.5ZM732.5 339.0H736.0V342.5H732.5ZM738.9 339.0H742.4V342.5H738.9ZM745.3 339.0H748.9V342.5H745.3ZM761.4 339.0H764.9V342.5H761.4ZM771.1 339.0H790.7V342.5H771.1ZM816.1 339.0H826.1V342.5H816.1ZM771.1 342.2H787.5V345.8H771.1ZM790.4 342.2H793.9V345.8H790.4ZM816.1 342.2H826.1V345.8H816.1ZM774.3 345.5H784.2V349.0H774.3ZM812.9 345.5H819.6V349.0H812.9ZM774.3 348.7H781.0V352.2H774.3ZM809.7 348.7H816.4V352.2H809.7ZM771.1 351.9H781.0V355.4H771.1ZM806.5 351.9H813.2V355.4H806.5ZM771.1 355.1H781.0V358.6H771.1ZM803.2 355.1H810.0V358.6H803.2ZM771.1 358.3H777.8V361.8H771.1ZM793.6 358.3H797.1V361.8H793.6ZM800.0 358.3H803.5V361.8H800.0ZM767.9 361.5H774.6V365.1H767.9ZM793.6 361.5H800.3V365.1H793.6ZM764.6 364.8H771.4V368.3H764.6ZM790.4 364.8H797.1V368.3H790.4ZM764.6 368.0H771.4V371.5H764.6ZM774.3 368.0H777.8V371.5H774.3ZM787.2 368.0H793.9V371.5H787.2ZM761.4 371.2H771.4V374.7H761.4ZM783.9 371.2H790.7V374.7H783.9ZM758.2 374.4H771.4V377.9H758.2ZM774.3 374.4H787.5V377.9H774.3ZM758.2 377.6H764.9V381.1H758.2ZM771.1 377.6H781.0V381.1H771.1ZM761.4 380.8H777.8V384.4H761.4ZM755.0 384.1H774.6V387.6H755.0ZM755.0 387.3H768.2V390.8H755.0ZM751.8 390.5H764.9V394.0H751.8ZM751.8 393.7H755.3V397.2H751.8Z"/>
<path fill="#1ce6b4" d="M584.5 142.8H588.0V146.3H584.5ZM246.7 146.0H253.5V149.5H246.7ZM256.4 146.0H263.1V149.5H256.4ZM259.6 149.2H263.1V152.8H259.6ZM237.1 152.5H243.8V156.0H237.1ZM253.2 152.5H256.7V156.0H253.2ZM796.8 187.8H803.5V191.4H796.8ZM806.5 187.8H810.0V191.4H806.5ZM783.9 191.1H790.7V194.6H783.9ZM809.7 191.1H816.4V194.6H809.7ZM780.7 194.3H784.2V197.8H780.7ZM816.1 194.3H822.8V197.8H816.1ZM771.1 197.5H777.8V201.0H771.1ZM819.3 197.5H829.3V201.0H819.3ZM771.1 200.7H777.8V204.2H771.1ZM825.8 200.7H829.3V204.2H825.8ZM758.2 203.9H768.2V207.4H758.2ZM829.0 203.9H832.5V207.4H829.0ZM751.8 207.1H768.2V210.7H751.8ZM829.0 207.1H835.7V210.7H829.0ZM729.3 210.4H752.1V213.9H729.3ZM758.2 210.4H761.7V213.9H758.2ZM832.2 210.4H835.7V213.9H832.2ZM716.4 213.6H726.3V217.1H716.4ZM732.5 213.6H736.0V217.1H732.5ZM832.2 213.6H835.7V217.1H832.2ZM713.2 216.8H719.9V220.3H713.2ZM832.2 216.8H838.9V220.3H832.2ZM706.7 220.0H713.5V223.5H706.7ZM832.2 220.0H835.7V223.5H832.2ZM703.5 223.2H707.0V226.7H703.5ZM832.2 223.2H838.9V226.7H832.2ZM697.1 226.4H703.8V230.0H697.1ZM829.0 226.4H835.7V230.0H829.0ZM693.9 229.7H700.6V233.2H693.9ZM835.4 229.7H842.1V233.2H835.4ZM690.7 232.9H697.4V236.4H690.7ZM832.2 232.9H835.7V236.4H832.2ZM687.4 236.1H697.4V239.6H687.4ZM832.2 236.1H838.9V239.6H832.2ZM687.4 239.3H694.2V242.8H687.4ZM832.2 239.3H838.9V242.8H832.2ZM1005.9 239.3H1009.4V242.8H1005.9ZM687.4 242.5H694.2V246.0H687.4ZM832.2 242.5H835.7V246.0H832.2ZM1002.7 242.5H1012.6V246.0H1002.7ZM1018.8 242.5H1022.3V246.0H1018.8ZM687.4 245.7H694.2V249.3H687.4ZM829.0 245.7H838.9V249.3H829.0ZM1005.9 245.7H1028.7V249.3H1005.9ZM684.2 249.0H694.2V252.5H684.2ZM832.2 249.0H838.9V252.5H832.2ZM1012.3 249.0H1019.1V252.5H1012.3ZM1022.0 249.0H1038.4V252.5H1022.0ZM684.2 252.2H691.0V255.7H684.2ZM832.2 252.2H838.9V255.7H832.2ZM1018.8 252.2H1022.3V255.7H1018.8ZM1025.2 252.2H1028.7V255.7H1025.2ZM1034.8 252.2H1044.8V255.7H1034.8ZM684.2 255.4H687.7V258.9H684.2ZM832.2 255.4H838.9V258.9H832.2ZM1022.0 255.4H1035.1V258.9H1022.0ZM1041.3 255.4H1051.2V258.9H1041.3ZM681.0 258.6H691.0V262.1H681.0ZM829.0 258.6H842.1V262.1H829.0ZM1034.8 258.6H1054.4V262.1H1034.8ZM677.8 261.8H681.3V265.3H677.8ZM684.2 261.8H687.7V265.3H684.2ZM690.7 261.8H694.2V265.3H690.7ZM835.4 261.8H842.1V265.3H835.4ZM1038.1 261.8H1054.4V265.3H1038.1ZM1057.4 261.8H1060.9V265.3H1057.4ZM674.6 265.0H691.0V268.6H674.6ZM829.0 265.0H832.5V268.6H829.0ZM835.4 265.0H842.1V268.6H835.4ZM677.8 268.3H687.7V271.8H677.8ZM832.2 268.3H845.4V271.8H832.2ZM677.8 271.5H687.7V275.0H677.8ZM690.7 271.5H694.2V275.0H690.7ZM832.2 271.5H838.9V275.0H832.2ZM677.8 274.7H687.7V278.2H677.8ZM690.7 274.7H694.2V278.2H690.7ZM832.2 274.7H842.1V278.2H832.2ZM674.6 277.9H691.0V281.4H674.6ZM832.2 277.9H845.4V281.4H832.2ZM674.6 281.1H691.0V284.6H674.6ZM693.9 281.1H697.4V284.6H693.9ZM825.8 281.1H845.4V284.6H825.8ZM671.4 284.3H678.1V287.9H671.4ZM681.0 284.3H691.0V287.9H681.0ZM829.0 284.3H845.4V287.9H829.0ZM674.6 287.6H691.0V291.1H674.6ZM693.9 287.6H700.6V291.1H693.9ZM822.5 287.6H845.4V291.1H822.5ZM674.6 290.8H703.8V294.3H674.6ZM822.5 290.8H845.4V294.3H822.5ZM668.1 294.0H671.7V297.5H668.1ZM677.8 294.0H694.2V297.5H677.8ZM697.1 294.0H700.6V297.5H697.1ZM822.5 294.0H838.9V297.5H822.5ZM841.8 294.0H848.6V297.5H841.8ZM668.1 297.2H671.7V300.7H668.1ZM677.8 297.2H713.5V300.7H677.8ZM812.9 297.2H816.4V300.7H812.9ZM819.3 297.2H822.8V300.7H819.3ZM829.0 297.2H845.4V300.7H829.0ZM677.8 300.4H694.2V303.9H677.8ZM700.3 300.4H707.0V303.9H700.3ZM713.2 300.4H716.7V303.9H713.2ZM816.1 300.4H832.5V303.9H816.1ZM835.4 300.4H845.4V303.9H835.4ZM677.8 303.6H707.0V307.2H677.8ZM710.0 303.6H716.7V307.2H710.0ZM722.8 303.6H729.6V307.2H722.8ZM806.5 303.6H810.0V307.2H806.5ZM812.9 303.6H845.4V307.2H812.9ZM674.6 306.9H678.1V310.4H674.6ZM681.0 306.9H684.5V310.4H681.0ZM687.4 306.9H700.6V310.4H687.4ZM703.5 306.9H716.7V310.4H703.5ZM719.6 306.9H726.3V310.4H719.6ZM806.5 306.9H810.0V310.4H806.5ZM819.3 306.9H826.1V310.4H819.3ZM829.0 306.9H832.5V310.4H829.0ZM835.4 306.9H845.4V310.4H835.4ZM677.8 310.1H681.3V313.6H677.8ZM687.4 310.1H736.0V313.6H687.4ZM738.9 310.1H742.4V313.6H738.9ZM745.3 310.1H748.9V313.6H745.3ZM796.8 310.1H813.2V313.6H796.8ZM816.1 310.1H842.1V313.6H816.1ZM684.2 313.3H687.7V316.8H684.2ZM690.7 313.3H694.2V316.8H690.7ZM697.1 313.3H700.6V316.8H697.1ZM703.5 313.3H745.6V316.8H703.5ZM751.8 313.3H755.3V316.8H751.8ZM767.9 313.3H774.6V316.8H767.9ZM777.5 313.3H784.2V316.8H777.5ZM790.4 313.3H813.2V316.8H790.4ZM816.1 313.3H842.1V316.8H816.1ZM703.5 316.5H713.5V320.0H703.5ZM716.4 316.5H755.3V320.0H716.4ZM758.2 316.5H777.8V320.0H758.2ZM780.7 316.5H784.2V320.0H780.7ZM790.4 316.5H810.0V320.0H790.4ZM812.9 316.5H816.4V320.0H812.9ZM829.0 316.5H838.9V320.0H829.0ZM693.9 319.7H697.4V323.2H693.9ZM716.4 319.7H726.3V323.2H716.4ZM735.7 319.7H787.5V323.2H735.7ZM790.4 319.7H816.4V323.2H790.4ZM819.3 319.7H822.8V323.2H819.3ZM825.8 319.7H835.7V323.2H825.8ZM722.8 322.9H726.3V326.5H722.8ZM732.5 322.9H736.0V326.5H732.5ZM742.1 322.9H771.4V326.5H742.1ZM780.7 322.9H810.0V326.5H780.7ZM812.9 322.9H816.4V326.5H812.9ZM819.3 322.9H835.7V326.5H819.3ZM735.7 326.2H739.2V329.7H735.7ZM742.1 326.2H758.5V329.7H742.1ZM764.6 326.2H781.0V329.7H764.6ZM783.9 326.2H806.8V329.7H783.9ZM819.3 326.2H832.5V329.7H819.3ZM761.4 329.4H764.9V332.9H761.4ZM771.1 329.4H774.6V332.9H771.1ZM777.5 329.4H781.0V332.9H777.5ZM793.6 329.4H803.5V332.9H793.6ZM816.1 329.4H819.6V332.9H816.1ZM822.5 329.4H832.5V332.9H822.5ZM780.7 332.6H784.2V336.1H780.7ZM790.4 332.6H800.3V336.1H790.4ZM803.2 332.6H806.8V336.1H803.2ZM816.1 332.6H826.1V336.1H816.1ZM790.4 335.8H803.5V339.3H790.4ZM809.7 335.8H822.8V339.3H809.7ZM790.4 339.0H797.1V342.5H790.4ZM812.9 339.0H816.4V342.5H812.9ZM787.2 342.2H790.7V345.8H787.2ZM793.6 342.2H800.3V345.8H793.6ZM803.2 342.2H806.8V345.8H803.2ZM809.7 342.2H816.4V345.8H809.7ZM783.9 345.5H797.1V349.0H783.9ZM800.0 345.5H813.2V349.0H800.0ZM780.7 348.7H793.9V352.2H780.7ZM803.2 348.7H810.0V352.2H803.2ZM780.7 351.9H787.5V355.4H780.7ZM796.8 351.9H806.8V355.4H796.8ZM780.7 355.1H803.5V358.6H780.7ZM777.5 358.3H793.9V361.8H777.5ZM796.8 358.3H800.3V361.8H796.8ZM774.3 361.5H793.9V365.1H774.3ZM771.1 364.8H790.7V368.3H771.1ZM771.1 368.0H774.6V371.5H771.1ZM777.5 368.0H787.5V371.5H777.5ZM771.1 371.2H784.2V374.7H771.1ZM771.1 374.4H774.6V377.9H771.1ZM764.6 377.6H771.4V381.1H764.6Z"/>
<path fill="#1fe9af" d="M253.2 146.0H256.7V149.5H253.2ZM243.5 149.2H247.0V152.8H243.5ZM256.4 149.2H259.9V152.8H256.4ZM243.5 152.5H253.5V156.0H243.5ZM803.2 187.8H806.8V191.4H803.2ZM790.4 191.1H793.9V194.6H790.4ZM796.8 191.1H810.0V194.6H796.8ZM783.9 194.3H790.7V197.8H783.9ZM809.7 194.3H816.4V197.8H809.7ZM777.5 197.5H784.2V201.0H777.5ZM816.1 197.5H819.6V201.0H816.1ZM777.5 200.7H781.0V204.2H777.5ZM822.5 200.7H826.1V204.2H822.5ZM767.9 203.9H774.6V207.4H767.9ZM822.5 203.9H829.3V207.4H822.5ZM767.9 207.1H771.4V210.7H767.9ZM825.8 207.1H829.3V210.7H825.8ZM751.8 210.4H758.5V213.9H751.8ZM761.4 210.4H768.2V213.9H761.4ZM829.0 210.4H832.5V213.9H829.0ZM726.0 213.6H732.8V217.1H726.0ZM735.7 213.6H752.1V217.1H735.7ZM755.0 213.6H761.7V217.1H755.0ZM829.0 213.6H832.5V217.1H829.0ZM719.6 216.8H729.6V220.3H719.6ZM713.2 220.0H719.9V223.5H713.2ZM706.7 223.2H710.3V226.7H706.7ZM829.0 223.2H832.5V226.7H829.0ZM703.5 226.4H707.0V230.0H703.5ZM700.3 229.7H703.8V233.2H700.3ZM829.0 229.7H835.7V233.2H829.0ZM697.1 232.9H700.6V236.4H697.1ZM829.0 232.9H832.5V236.4H829.0ZM697.1 236.1H700.6V239.6H697.1ZM829.0 236.1H832.5V239.6H829.0ZM693.9 239.3H697.4V242.8H693.9ZM829.0 239.3H832.5V242.8H829.0ZM693.9 242.5H700.6V246.0H693.9ZM825.8 242.5H832.5V246.0H825.8ZM693.9 245.7H697.4V249.3H693.9ZM825.8 245.7H829.3V249.3H825.8ZM693.9 249.0H697.4V252.5H693.9ZM825.8 249.0H832.5V252.5H825.8ZM1018.8 249.0H1022.3V252.5H1018.8ZM690.7 252.2H694.2V255.7H690.7ZM822.5 252.2H832.5V255.7H822.5ZM1022.0 252.2H1025.5V255.7H1022.0ZM1028.4 252.2H1035.1V255.7H1028.4ZM687.4 255.4H697.4V258.9H687.4ZM822.5 255.4H832.5V258.9H822.5ZM1034.8 255.4H1041.6V258.9H1034.8ZM690.7 258.6H697.4V262.1H690.7ZM825.8 258.6H829.3V262.1H825.8ZM1031.6 258.6H1035.1V262.1H1031.6ZM687.4 261.8H691.0V265.3H687.4ZM822.5 261.8H835.7V265.3H822.5ZM690.7 265.0H700.6V268.6H690.7ZM822.5 265.0H829.3V268.6H822.5ZM832.2 265.0H835.7V268.6H832.2ZM687.4 268.3H697.4V271.8H687.4ZM825.8 268.3H832.5V271.8H825.8ZM687.4 271.5H691.0V275.0H687.4ZM693.9 271.5H697.4V275.0H693.9ZM825.8 271.5H832.5V275.0H825.8ZM687.4 274.7H691.0V278.2H687.4ZM693.9 274.7H700.6V278.2H693.9ZM825.8 274.7H832.5V278.2H825.8ZM690.7 277.9H707.0V281.4H690.7ZM819.3 277.9H826.1V281.4H819.3ZM829.0 277.9H832.5V281.4H829.0ZM690.7 281.1H694.2V284.6H690.7ZM697.1 281.1H703.8V284.6H697.1ZM819.3 281.1H826.1V284.6H819.3ZM690.7 284.3H710.3V287.9H690.7ZM716.4 284.3H719.9V287.9H716.4ZM819.3 284.3H829.3V287.9H819.3ZM690.7 287.6H694.2V291.1H690.7ZM700.3 287.6H713.5V291.1H700.3ZM819.3 287.6H822.8V291.1H819.3ZM703.5 290.8H716.7V294.3H703.5ZM812.9 290.8H819.6V294.3H812.9ZM693.9 294.0H697.4V297.5H693.9ZM700.3 294.0H723.1V297.5H700.3ZM726.0 294.0H729.6V297.5H726.0ZM738.9 294.0H742.4V297.5H738.9ZM809.7 294.0H813.2V297.5H809.7ZM816.1 294.0H822.8V297.5H816.1ZM713.2 297.2H732.8V300.7H713.2ZM806.5 297.2H810.0V300.7H806.5ZM816.1 297.2H819.6V300.7H816.1ZM822.5 297.2H829.3V300.7H822.5ZM693.9 300.4H700.6V303.9H693.9ZM706.7 300.4H713.5V303.9H706.7ZM716.4 300.4H736.0V303.9H716.4ZM738.9 300.4H742.4V303.9H738.9ZM751.8 300.4H755.3V303.9H751.8ZM787.2 300.4H790.7V303.9H787.2ZM796.8 300.4H800.3V303.9H796.8ZM803.2 300.4H816.4V303.9H803.2ZM832.2 300.4H835.7V303.9H832.2ZM706.7 303.6H710.3V307.2H706.7ZM716.4 303.6H723.1V307.2H716.4ZM729.3 303.6H755.3V307.2H729.3ZM761.4 303.6H764.9V307.2H761.4ZM767.9 303.6H771.4V307.2H767.9ZM777.5 303.6H781.0V307.2H777.5ZM783.9 303.6H790.7V307.2H783.9ZM793.6 303.6H806.8V307.2H793.6ZM809.7 303.6H813.2V307.2H809.7ZM716.4 306.9H719.9V310.4H716.4ZM726.0 306.9H806.8V310.4H726.0ZM809.7 306.9H819.6V310.4H809.7ZM832.2 306.9H835.7V310.4H832.2ZM735.7 310.1H739.2V313.6H735.7ZM742.1 310.1H745.6V313.6H742.1ZM748.6 310.1H797.1V313.6H748.6ZM812.9 310.1H816.4V313.6H812.9ZM745.3 313.3H752.1V316.8H745.3ZM755.0 313.3H768.2V316.8H755.0ZM774.3 313.3H777.8V316.8H774.3ZM783.9 313.3H790.7V316.8H783.9ZM812.9 313.3H816.4V316.8H812.9ZM755.0 316.5H758.5V320.0H755.0ZM777.5 316.5H781.0V320.0H777.5ZM783.9 316.5H790.7V320.0H783.9ZM809.7 316.5H813.2V320.0H809.7ZM816.1 316.5H829.3V320.0H816.1ZM816.1 319.7H819.6V323.2H816.1ZM822.5 319.7H826.1V323.2H822.5ZM809.7 322.9H813.2V326.5H809.7ZM816.1 322.9H819.6V326.5H816.1ZM806.5 326.2H819.6V329.7H806.5ZM803.2 329.4H816.4V332.9H803.2ZM819.3 329.4H822.8V332.9H819.3ZM800.0 332.6H803.5V336.1H800.0ZM806.5 332.6H816.4V336.1H806.5ZM803.2 335.8H810.0V339.3H803.2ZM796.8 339.0H813.2V342.5H796.8ZM800.0 342.2H803.5V345.8H800.0ZM806.5 342.2H810.0V345.8H806.5ZM796.8 345.5H800.3V349.0H796.8ZM793.6 348.7H803.5V352.2H793.6ZM787.2 351.9H797.1V355.4H787.2Z"/>
<path fill="#25eca7" d="M246.7 149.2H256.7V152.8H246.7ZM793.6 191.1H797.1V194.6H793.6ZM790.4 194.3H810.0V197.8H790.4ZM783.9 197.5H790.7V201.0H783.9ZM809.7 197.5H816.4V201.0H809.7ZM819.3 200.7H822.8V204.2H819.3ZM774.3 203.9H781.0V207.4H774.3ZM819.3 203.9H822.8V207.4H819.3ZM771.1 207.1H777.8V210.7H771.1ZM822.5 207.1H826.1V210.7H822.5ZM767.9 210.4H774.6V213.9H767.9ZM822.5 210.4H829.3V213.9H822.5ZM751.8 213.6H755.3V217.1H751.8ZM761.4 213.6H768.2V217.1H761.4ZM825.8 213.6H829.3V217.1H825.8ZM729.3 216.8H732.8V220.3H729.3ZM738.9 216.8H755.3V220.3H738.9ZM761.4 216.8H764.9V220.3H761.4ZM825.8 216.8H832.5V220.3H825.8ZM719.6 220.0H726.3V223.5H719.6ZM825.8 220.0H832.5V223.5H825.8ZM710.0 223.2H719.9V226.7H710.0ZM825.8 223.2H829.3V226.7H825.8ZM706.7 226.4H713.5V230.0H706.7ZM822.5 226.4H829.3V230.0H822.5ZM703.5 229.7H707.0V233.2H703.5ZM825.8 229.7H829.3V233.2H825.8ZM700.3 232.9H707.0V236.4H700.3ZM825.8 232.9H829.3V236.4H825.8ZM700.3 236.1H703.8V239.6H700.3ZM825.8 236.1H829.3V239.6H825.8ZM697.1 239.3H700.6V242.8H697.1ZM822.5 239.3H829.3V242.8H822.5ZM822.5 242.5H826.1V246.0H822.5ZM697.1 245.7H700.6V249.3H697.1ZM816.1 245.7H826.1V249.3H816.1ZM697.1 249.0H700.6V252.5H697.1ZM819.3 249.0H826.1V252.5H819.3ZM693.9 252.2H700.6V255.7H693.9ZM819.3 252.2H822.8V255.7H819.3ZM697.1 255.4H700.6V258.9H697.1ZM816.1 255.4H822.8V258.9H816.1ZM697.1 258.6H700.6V262.1H697.1ZM816.1 258.6H826.1V262.1H816.1ZM693.9 261.8H700.6V265.3H693.9ZM819.3 261.8H822.8V265.3H819.3ZM700.3 265.0H703.8V268.6H700.3ZM816.1 265.0H822.8V268.6H816.1ZM697.1 268.3H703.8V271.8H697.1ZM819.3 268.3H826.1V271.8H819.3ZM697.1 271.5H710.3V275.0H697.1ZM819.3 271.5H826.1V275.0H819.3ZM700.3 274.7H710.3V278.2H700.3ZM816.1 274.7H826.1V278.2H816.1ZM706.7 277.9H713.5V281.4H706.7ZM816.1 277.9H819.6V281.4H816.1ZM825.8 277.9H829.3V281.4H825.8ZM703.5 281.1H719.9V284.6H703.5ZM812.9 281.1H819.6V284.6H812.9ZM710.0 284.3H716.7V287.9H710.0ZM719.6 284.3H723.1V287.9H719.6ZM812.9 284.3H819.6V287.9H812.9ZM713.2 287.6H729.6V291.1H713.2ZM732.5 287.6H736.0V291.1H732.5ZM809.7 287.6H819.6V291.1H809.7ZM716.4 290.8H739.2V294.3H716.4ZM803.2 290.8H813.2V294.3H803.2ZM819.3 290.8H822.8V294.3H819.3ZM722.8 294.0H726.3V297.5H722.8ZM729.3 294.0H739.2V297.5H729.3ZM742.1 294.0H748.9V297.5H742.1ZM755.0 294.0H761.7V297.5H755.0ZM774.3 294.0H777.8V297.5H774.3ZM783.9 294.0H787.5V297.5H783.9ZM796.8 294.0H810.0V297.5H796.8ZM812.9 294.0H816.4V297.5H812.9ZM732.5 297.2H761.7V300.7H732.5ZM764.6 297.2H768.2V300.7H764.6ZM771.1 297.2H774.6V300.7H771.1ZM777.5 297.2H781.0V300.7H777.5ZM783.9 297.2H806.8V300.7H783.9ZM809.7 297.2H813.2V300.7H809.7ZM735.7 300.4H739.2V303.9H735.7ZM742.1 300.4H752.1V303.9H742.1ZM755.0 300.4H787.5V303.9H755.0ZM790.4 300.4H797.1V303.9H790.4ZM800.0 300.4H803.5V303.9H800.0ZM755.0 303.6H761.7V307.2H755.0ZM764.6 303.6H768.2V307.2H764.6ZM771.1 303.6H777.8V307.2H771.1ZM780.7 303.6H784.2V307.2H780.7ZM790.4 303.6H793.9V307.2H790.4Z"/>
<path fill="#2aefa1" d="M793.6 197.5H797.1V201.0H793.6ZM803.2 197.5H810.0V201.0H803.2ZM780.7 200.7H787.5V204.2H780.7ZM809.7 200.7H819.6V204.2H809.7ZM780.7 203.9H784.2V207.4H780.7ZM812.9 203.9H819.6V207.4H812.9ZM777.5 207.1H781.0V210.7H777.5ZM816.1 207.1H822.8V210.7H816.1ZM774.3 210.4H777.8V213.9H774.3ZM767.9 213.6H771.4V217.1H767.9ZM774.3 213.6H777.8V217.1H774.3ZM822.5 213.6H826.1V217.1H822.5ZM732.5 216.8H739.2V220.3H732.5ZM755.0 216.8H761.7V220.3H755.0ZM764.6 216.8H774.6V220.3H764.6ZM822.5 216.8H826.1V220.3H822.5ZM726.0 220.0H729.6V223.5H726.0ZM732.5 220.0H771.4V223.5H732.5ZM819.3 220.0H826.1V223.5H819.3ZM719.6 223.2H723.1V226.7H719.6ZM748.6 223.2H752.1V226.7H748.6ZM764.6 223.2H768.2V226.7H764.6ZM819.3 223.2H826.1V226.7H819.3ZM713.2 226.4H719.9V230.0H713.2ZM819.3 226.4H822.8V230.0H819.3ZM706.7 229.7H713.5V233.2H706.7ZM822.5 229.7H826.1V233.2H822.5ZM706.7 232.9H710.3V236.4H706.7ZM822.5 232.9H826.1V236.4H822.5ZM703.5 236.1H707.0V239.6H703.5ZM816.1 236.1H826.1V239.6H816.1ZM700.3 239.3H707.0V242.8H700.3ZM812.9 239.3H822.8V242.8H812.9ZM700.3 242.5H703.8V246.0H700.3ZM809.7 242.5H813.2V246.0H809.7ZM816.1 242.5H822.8V246.0H816.1ZM700.3 245.7H707.0V249.3H700.3ZM806.5 249.0H819.6V252.5H806.5ZM700.3 252.2H703.8V255.7H700.3ZM809.7 252.2H819.6V255.7H809.7ZM700.3 255.4H703.8V258.9H700.3ZM809.7 255.4H816.4V258.9H809.7ZM700.3 258.6H703.8V262.1H700.3ZM809.7 258.6H816.4V262.1H809.7ZM700.3 261.8H707.0V265.3H700.3ZM809.7 261.8H819.6V265.3H809.7ZM703.5 265.0H710.3V268.6H703.5ZM809.7 265.0H816.4V268.6H809.7ZM703.5 268.3H710.3V271.8H703.5ZM809.7 268.3H813.2V271.8H809.7ZM816.1 268.3H819.6V271.8H816.1ZM710.0 271.5H713.5V275.0H710.0ZM812.9 271.5H819.6V275.0H812.9ZM710.0 274.7H713.5V278.2H710.0ZM809.7 274.7H813.2V278.2H809.7ZM722.8 277.9H726.3V281.4H722.8ZM809.7 277.9H816.4V281.4H809.7ZM719.6 281.1H726.3V284.6H719.6ZM806.5 281.1H810.0V284.6H806.5ZM722.8 284.3H732.8V287.9H722.8ZM803.2 284.3H813.2V287.9H803.2ZM729.3 287.6H732.8V291.1H729.3ZM735.7 287.6H742.4V291.1H735.7ZM745.3 287.6H752.1V291.1H745.3ZM800.0 287.6H810.0V291.1H800.0ZM738.9 290.8H755.3V294.3H738.9ZM758.2 290.8H761.7V294.3H758.2ZM787.2 290.8H803.5V294.3H787.2ZM748.6 294.0H755.3V297.5H748.6ZM761.4 294.0H774.6V297.5H761.4ZM777.5 294.0H784.2V297.5H777.5ZM787.2 294.0H797.1V297.5H787.2ZM761.4 297.2H764.9V300.7H761.4ZM767.9 297.2H771.4V300.7H767.9ZM774.3 297.2H777.8V300.7H774.3ZM780.7 297.2H784.2V300.7H780.7Z"/>
<path fill="#32f298" d="M790.4 197.5H793.9V201.0H790.4ZM796.8 197.5H803.5V201.0H796.8ZM787.2 200.7H797.1V204.2H787.2ZM800.0 200.7H810.0V204.2H800.0ZM783.9 203.9H790.7V207.4H783.9ZM809.7 203.9H813.2V207.4H809.7ZM780.7 207.1H787.5V210.7H780.7ZM777.5 210.4H784.2V213.9H777.5ZM819.3 210.4H822.8V213.9H819.3ZM771.1 213.6H774.6V217.1H771.1ZM777.5 213.6H781.0V217.1H777.5ZM816.1 213.6H822.8V217.1H816.1ZM774.3 216.8H781.0V220.3H774.3ZM819.3 216.8H822.8V220.3H819.3ZM729.3 220.0H732.8V223.5H729.3ZM771.1 220.0H774.6V223.5H771.1ZM816.1 220.0H819.6V223.5H816.1ZM722.8 223.2H729.6V226.7H722.8ZM732.5 223.2H736.0V226.7H732.5ZM738.9 223.2H742.4V226.7H738.9ZM745.3 223.2H748.9V226.7H745.3ZM751.8 223.2H764.9V226.7H751.8ZM767.9 223.2H774.6V226.7H767.9ZM816.1 223.2H819.6V226.7H816.1ZM719.6 226.4H723.1V230.0H719.6ZM758.2 226.4H771.4V230.0H758.2ZM816.1 226.4H819.6V230.0H816.1ZM764.6 229.7H768.2V233.2H764.6ZM816.1 229.7H822.8V233.2H816.1ZM710.0 232.9H713.5V236.4H710.0ZM812.9 232.9H822.8V236.4H812.9ZM706.7 236.1H710.3V239.6H706.7ZM812.9 236.1H816.4V239.6H812.9ZM706.7 239.3H710.3V242.8H706.7ZM783.9 239.3H787.5V242.8H783.9ZM809.7 239.3H813.2V242.8H809.7ZM703.5 242.5H710.3V246.0H703.5ZM806.5 242.5H810.0V246.0H806.5ZM812.9 242.5H816.4V246.0H812.9ZM803.2 245.7H806.8V249.3H803.2ZM809.7 245.7H816.4V249.3H809.7ZM700.3 249.0H707.0V252.5H700.3ZM800.0 249.0H803.5V252.5H800.0ZM703.5 252.2H707.0V255.7H703.5ZM803.2 252.2H810.0V255.7H803.2ZM703.5 255.4H710.3V258.9H703.5ZM806.5 255.4H810.0V258.9H806.5ZM706.7 258.6H710.3V262.1H706.7ZM806.5 258.6H810.0V262.1H806.5ZM706.7 261.8H710.3V265.3H706.7ZM710.0 268.3H713.5V271.8H710.0ZM812.9 268.3H816.4V271.8H812.9ZM713.2 271.5H719.9V275.0H713.2ZM806.5 271.5H813.2V275.0H806.5ZM713.2 274.7H719.9V278.2H713.2ZM806.5 274.7H810.0V278.2H806.5ZM812.9 274.7H816.4V278.2H812.9ZM713.2 277.9H723.1V281.4H713.2ZM726.0 277.9H729.6V281.4H726.0ZM806.5 277.9H810.0V281.4H806.5ZM726.0 281.1H739.2V284.6H726.0ZM803.2 281.1H806.8V284.6H803.2ZM809.7 281.1H813.2V284.6H809.7ZM732.5 284.3H745.6V287.9H732.5ZM800.0 284.3H803.5V287.9H800.0ZM742.1 287.6H745.6V291.1H742.1ZM751.8 287.6H771.4V291.1H751.8ZM783.9 287.6H787.5V291.1H783.9ZM790.4 287.6H800.3V291.1H790.4ZM755.0 290.8H758.5V294.3H755.0ZM761.4 290.8H768.2V294.3H761.4ZM771.1 290.8H787.5V294.3H771.1Z"/>
<path fill="#3cf58e" d="M796.8 200.7H800.3V204.2H796.8ZM790.4 203.9H793.9V207.4H790.4ZM796.8 203.9H800.3V207.4H796.8ZM806.5 203.9H810.0V207.4H806.5ZM787.2 207.1H797.1V210.7H787.2ZM809.7 207.1H816.4V210.7H809.7ZM812.9 210.4H819.6V213.9H812.9ZM780.7 213.6H784.2V217.1H780.7ZM780.7 216.8H784.2V220.3H780.7ZM816.1 216.8H819.6V220.3H816.1ZM774.3 220.0H781.0V223.5H774.3ZM729.3 223.2H732.8V226.7H729.3ZM735.7 223.2H739.2V226.7H735.7ZM742.1 223.2H745.6V226.7H742.1ZM774.3 223.2H784.2V226.7H774.3ZM722.8 226.4H726.3V230.0H722.8ZM742.1 226.4H745.6V230.0H742.1ZM751.8 226.4H758.5V230.0H751.8ZM771.1 226.4H777.8V230.0H771.1ZM780.7 226.4H784.2V230.0H780.7ZM812.9 226.4H816.4V230.0H812.9ZM713.2 229.7H719.9V233.2H713.2ZM755.0 229.7H764.9V233.2H755.0ZM767.9 229.7H781.0V233.2H767.9ZM713.2 232.9H716.7V236.4H713.2ZM767.9 232.9H781.0V236.4H767.9ZM800.0 232.9H803.5V236.4H800.0ZM806.5 232.9H813.2V236.4H806.5ZM710.0 236.1H713.5V239.6H710.0ZM774.3 236.1H777.8V239.6H774.3ZM780.7 236.1H784.2V239.6H780.7ZM809.7 236.1H813.2V239.6H809.7ZM710.0 239.3H716.7V242.8H710.0ZM780.7 239.3H784.2V242.8H780.7ZM790.4 239.3H793.9V242.8H790.4ZM800.0 239.3H803.5V242.8H800.0ZM806.5 239.3H810.0V242.8H806.5ZM787.2 242.5H797.1V246.0H787.2ZM800.0 242.5H806.8V246.0H800.0ZM787.2 245.7H790.7V249.3H787.2ZM796.8 245.7H800.3V249.3H796.8ZM806.5 245.7H810.0V249.3H806.5ZM706.7 249.0H710.3V252.5H706.7ZM803.2 249.0H806.8V252.5H803.2ZM706.7 252.2H710.3V255.7H706.7ZM793.6 255.4H797.1V258.9H793.6ZM800.0 255.4H806.8V258.9H800.0ZM703.5 258.6H707.0V262.1H703.5ZM710.0 258.6H713.5V262.1H710.0ZM803.2 258.6H806.8V262.1H803.2ZM710.0 261.8H713.5V265.3H710.0ZM803.2 261.8H810.0V265.3H803.2ZM710.0 265.0H716.7V268.6H710.0ZM803.2 265.0H810.0V268.6H803.2ZM713.2 268.3H719.9V271.8H713.2ZM806.5 268.3H810.0V271.8H806.5ZM719.6 271.5H723.1V275.0H719.6ZM719.6 274.7H726.3V278.2H719.6ZM803.2 274.7H806.8V278.2H803.2ZM729.3 277.9H736.0V281.4H729.3ZM738.9 277.9H742.4V281.4H738.9ZM800.0 277.9H806.8V281.4H800.0ZM738.9 281.1H745.6V284.6H738.9ZM796.8 281.1H803.5V284.6H796.8ZM745.3 284.3H752.1V287.9H745.3ZM758.2 284.3H761.7V287.9H758.2ZM764.6 284.3H768.2V287.9H764.6ZM777.5 284.3H781.0V287.9H777.5ZM790.4 284.3H800.3V287.9H790.4ZM771.1 287.6H784.2V291.1H771.1ZM787.2 287.6H790.7V291.1H787.2ZM767.9 290.8H771.4V294.3H767.9Z"/>
<path fill="#43f787" d="M793.6 203.9H797.1V207.4H793.6ZM800.0 203.9H806.8V207.4H800.0ZM803.2 207.1H810.0V210.7H803.2ZM783.9 210.4H790.7V213.9H783.9ZM793.6 210.4H800.3V213.9H793.6ZM809.7 210.4H813.2V213.9H809.7ZM783.9 213.6H790.7V217.1H783.9ZM809.7 213.6H816.4V217.1H809.7ZM783.9 216.8H787.5V220.3H783.9ZM812.9 216.8H816.4V220.3H812.9ZM780.7 220.0H787.5V223.5H780.7ZM812.9 220.0H816.4V223.5H812.9ZM803.2 223.2H806.8V226.7H803.2ZM809.7 223.2H816.4V226.7H809.7ZM726.0 226.4H729.6V230.0H726.0ZM732.5 226.4H739.2V230.0H732.5ZM745.3 226.4H752.1V230.0H745.3ZM777.5 226.4H781.0V230.0H777.5ZM787.2 226.4H793.9V230.0H787.2ZM806.5 226.4H813.2V230.0H806.5ZM719.6 229.7H726.3V233.2H719.6ZM732.5 229.7H736.0V233.2H732.5ZM745.3 229.7H755.3V233.2H745.3ZM780.7 229.7H787.5V233.2H780.7ZM796.8 229.7H800.3V233.2H796.8ZM803.2 229.7H816.4V233.2H803.2ZM716.4 232.9H723.1V236.4H716.4ZM758.2 232.9H764.9V236.4H758.2ZM780.7 232.9H790.7V236.4H780.7ZM796.8 232.9H800.3V236.4H796.8ZM803.2 232.9H806.8V236.4H803.2ZM713.2 236.1H719.9V239.6H713.2ZM758.2 236.1H774.6V239.6H758.2ZM777.5 236.1H781.0V239.6H777.5ZM783.9 236.1H810.0V239.6H783.9ZM771.1 239.3H781.0V242.8H771.1ZM787.2 239.3H790.7V242.8H787.2ZM793.6 239.3H800.3V242.8H793.6ZM803.2 239.3H806.8V242.8H803.2ZM710.0 242.5H713.5V246.0H710.0ZM764.6 242.5H768.2V246.0H764.6ZM771.1 242.5H787.5V246.0H771.1ZM796.8 242.5H800.3V246.0H796.8ZM706.7 245.7H713.5V249.3H706.7ZM780.7 245.7H787.5V249.3H780.7ZM790.4 245.7H797.1V249.3H790.4ZM800.0 245.7H803.5V249.3H800.0ZM710.0 249.0H713.5V252.5H710.0ZM783.9 249.0H800.3V252.5H783.9ZM710.0 252.2H713.5V255.7H710.0ZM790.4 252.2H803.5V255.7H790.4ZM710.0 255.4H713.5V258.9H710.0ZM796.8 255.4H800.3V258.9H796.8ZM796.8 258.6H803.5V262.1H796.8ZM713.2 261.8H716.7V265.3H713.2ZM800.0 261.8H803.5V265.3H800.0ZM716.4 265.0H719.9V268.6H716.4ZM800.0 265.0H803.5V268.6H800.0ZM719.6 268.3H723.1V271.8H719.6ZM800.0 268.3H806.8V271.8H800.0ZM722.8 271.5H729.6V275.0H722.8ZM803.2 271.5H806.8V275.0H803.2ZM726.0 274.7H736.0V278.2H726.0ZM796.8 274.7H803.5V278.2H796.8ZM735.7 277.9H739.2V281.4H735.7ZM742.1 277.9H745.6V281.4H742.1ZM793.6 277.9H800.3V281.4H793.6ZM745.3 281.1H755.3V284.6H745.3ZM780.7 281.1H784.2V284.6H780.7ZM790.4 281.1H797.1V284.6H790.4ZM751.8 284.3H758.5V287.9H751.8ZM761.4 284.3H764.9V287.9H761.4ZM767.9 284.3H771.4V287.9H767.9ZM774.3 284.3H777.8V287.9H774.3ZM780.7 284.3H790.7V287.9H780.7Z"/>
<path fill="#4ef97d" d="M796.8 207.1H803.5V210.7H796.8ZM790.4 210.4H793.9V213.9H790.4ZM800.0 210.4H806.8V213.9H800.0ZM790.4 213.6H793.9V217.1H790.4ZM800.0 213.6H810.0V217.1H800.0ZM787.2 216.8H790.7V220.3H787.2ZM796.8 216.8H800.3V220.3H796.8ZM803.2 216.8H806.8V220.3H803.2ZM809.7 216.8H813.2V220.3H809.7ZM790.4 220.0H793.9V223.5H790.4ZM796.8 220.0H803.5V223.5H796.8ZM806.5 220.0H813.2V223.5H806.5ZM783.9 223.2H787.5V226.7H783.9ZM790.4 223.2H793.9V226.7H790.4ZM800.0 223.2H803.5V226.7H800.0ZM729.3 226.4H732.8V230.0H729.3ZM738.9 226.4H742.4V230.0H738.9ZM783.9 226.4H787.5V230.0H783.9ZM793.6 226.4H800.3V230.0H793.6ZM803.2 226.4H806.8V230.0H803.2ZM726.0 229.7H732.8V233.2H726.0ZM735.7 229.7H745.6V233.2H735.7ZM787.2 229.7H797.1V233.2H787.2ZM800.0 229.7H803.5V233.2H800.0ZM722.8 232.9H726.3V236.4H722.8ZM745.3 232.9H758.5V236.4H745.3ZM764.6 232.9H768.2V236.4H764.6ZM790.4 232.9H797.1V236.4H790.4ZM755.0 236.1H758.5V239.6H755.0ZM761.4 239.3H771.4V242.8H761.4ZM713.2 242.5H719.9V246.0H713.2ZM767.9 242.5H771.4V246.0H767.9ZM713.2 245.7H716.7V249.3H713.2ZM771.1 245.7H781.0V249.3H771.1ZM713.2 249.0H716.7V252.5H713.2ZM780.7 249.0H784.2V252.5H780.7ZM713.2 252.2H716.7V255.7H713.2ZM783.9 252.2H790.7V255.7H783.9ZM713.2 255.4H716.7V258.9H713.2ZM787.2 255.4H793.9V258.9H787.2ZM716.4 258.6H719.9V262.1H716.4ZM790.4 258.6H797.1V262.1H790.4ZM716.4 261.8H723.1V265.3H716.4ZM719.6 265.0H723.1V268.6H719.6ZM796.8 265.0H800.3V268.6H796.8ZM722.8 268.3H729.6V271.8H722.8ZM796.8 268.3H800.3V271.8H796.8ZM729.3 271.5H736.0V275.0H729.3ZM796.8 271.5H803.5V275.0H796.8ZM735.7 274.7H742.4V278.2H735.7ZM745.3 277.9H755.3V281.4H745.3ZM787.2 277.9H793.9V281.4H787.2ZM755.0 281.1H761.7V284.6H755.0ZM764.6 281.1H774.6V284.6H764.6ZM777.5 281.1H781.0V284.6H777.5ZM783.9 281.1H790.7V284.6H783.9ZM771.1 284.3H774.6V287.9H771.1Z"/>
<path fill="#59fb73" d="M806.5 210.4H810.0V213.9H806.5ZM793.6 213.6H800.3V217.1H793.6ZM790.4 216.8H797.1V220.3H790.4ZM800.0 216.8H803.5V220.3H800.0ZM806.5 216.8H810.0V220.3H806.5ZM787.2 220.0H790.7V223.5H787.2ZM793.6 220.0H797.1V223.5H793.6ZM803.2 220.0H806.8V223.5H803.2ZM787.2 223.2H790.7V226.7H787.2ZM793.6 223.2H800.3V226.7H793.6ZM806.5 223.2H810.0V226.7H806.5ZM800.0 226.4H803.5V230.0H800.0ZM738.9 232.9H745.6V236.4H738.9ZM719.6 236.1H726.3V239.6H719.6ZM751.8 236.1H755.3V239.6H751.8ZM716.4 239.3H723.1V242.8H716.4ZM755.0 239.3H761.7V242.8H755.0ZM755.0 242.5H761.7V246.0H755.0ZM767.9 245.7H771.4V249.3H767.9ZM716.4 249.0H719.9V252.5H716.4ZM774.3 249.0H781.0V252.5H774.3ZM716.4 252.2H719.9V255.7H716.4ZM777.5 252.2H784.2V255.7H777.5ZM716.4 255.4H719.9V258.9H716.4ZM713.2 258.6H716.7V262.1H713.2ZM787.2 258.6H790.7V262.1H787.2ZM722.8 261.8H726.3V265.3H722.8ZM793.6 261.8H800.3V265.3H793.6ZM722.8 265.0H726.3V268.6H722.8ZM793.6 265.0H797.1V268.6H793.6ZM729.3 268.3H732.8V271.8H729.3ZM793.6 268.3H797.1V271.8H793.6ZM735.7 271.5H739.2V275.0H735.7ZM742.1 271.5H745.6V275.0H742.1ZM790.4 271.5H797.1V275.0H790.4ZM742.1 274.7H748.9V278.2H742.1ZM793.6 274.7H797.1V278.2H793.6ZM755.0 277.9H758.5V281.4H755.0ZM783.9 277.9H787.5V281.4H783.9ZM761.4 281.1H764.9V284.6H761.4ZM774.3 281.1H777.8V284.6H774.3Z"/>
<path fill="#61fc6c" d="M726.0 232.9H739.2V236.4H726.0ZM726.0 236.1H732.8V239.6H726.0ZM742.1 236.1H752.1V239.6H742.1ZM726.0 239.3H729.6V242.8H726.0ZM751.8 239.3H755.3V242.8H751.8ZM719.6 242.5H723.1V246.0H719.6ZM761.4 242.5H764.9V246.0H761.4ZM716.4 245.7H723.1V249.3H716.4ZM761.4 245.7H768.2V249.3H761.4ZM719.6 249.0H726.3V252.5H719.6ZM764.6 249.0H774.6V252.5H764.6ZM771.1 252.2H774.6V255.7H771.1ZM719.6 255.4H726.3V258.9H719.6ZM777.5 255.4H787.5V258.9H777.5ZM719.6 258.6H729.6V262.1H719.6ZM726.0 261.8H729.6V265.3H726.0ZM726.0 265.0H729.6V268.6H726.0ZM787.2 265.0H793.9V268.6H787.2ZM732.5 268.3H742.4V271.8H732.5ZM790.4 268.3H793.9V271.8H790.4ZM738.9 271.5H742.4V275.0H738.9ZM748.6 271.5H752.1V275.0H748.6ZM787.2 271.5H790.7V275.0H787.2ZM748.6 274.7H755.3V278.2H748.6ZM758.2 274.7H761.7V278.2H758.2ZM783.9 274.7H793.9V278.2H783.9ZM758.2 277.9H768.2V281.4H758.2ZM771.1 277.9H784.2V281.4H771.1Z"/>
<path fill="#6dfe62" d="M732.5 236.1H742.4V239.6H732.5ZM722.8 239.3H726.3V242.8H722.8ZM732.5 239.3H736.0V242.8H732.5ZM738.9 239.3H752.1V242.8H738.9ZM722.8 242.5H729.6V246.0H722.8ZM745.3 242.5H755.3V246.0H745.3ZM722.8 245.7H726.3V249.3H722.8ZM755.0 245.7H761.7V249.3H755.0ZM761.4 249.0H764.9V252.5H761.4ZM719.6 252.2H726.3V255.7H719.6ZM764.6 252.2H771.4V255.7H764.6ZM774.3 252.2H777.8V255.7H774.3ZM726.0 255.4H729.6V258.9H726.0ZM774.3 255.4H777.8V258.9H774.3ZM777.5 258.6H787.5V262.1H777.5ZM729.3 261.8H732.8V265.3H729.3ZM783.9 261.8H793.9V265.3H783.9ZM729.3 265.0H739.2V268.6H729.3ZM783.9 265.0H787.5V268.6H783.9ZM783.9 268.3H787.5V271.8H783.9ZM745.3 271.5H748.9V275.0H745.3ZM783.9 271.5H787.5V275.0H783.9ZM755.0 274.7H758.5V278.2H755.0ZM761.4 274.7H768.2V278.2H761.4ZM771.1 274.7H777.8V278.2H771.1ZM780.7 274.7H784.2V278.2H780.7ZM767.9 277.9H771.4V281.4H767.9Z"/>
<path fill="#79fe59" d="M729.3 239.3H732.8V242.8H729.3ZM735.7 239.3H739.2V242.8H735.7ZM729.3 242.5H732.8V246.0H729.3ZM735.7 242.5H745.6V246.0H735.7ZM726.0 245.7H732.8V249.3H726.0ZM735.7 245.7H745.6V249.3H735.7ZM751.8 245.7H755.3V249.3H751.8ZM726.0 249.0H729.6V252.5H726.0ZM755.0 249.0H761.7V252.5H755.0ZM726.0 252.2H732.8V255.7H726.0ZM767.9 255.4H774.6V258.9H767.9ZM729.3 258.6H736.0V262.1H729.3ZM774.3 258.6H777.8V262.1H774.3ZM732.5 261.8H739.2V265.3H732.5ZM774.3 261.8H784.2V265.3H774.3ZM738.9 265.0H745.6V268.6H738.9ZM780.7 265.0H784.2V268.6H780.7ZM742.1 268.3H748.9V271.8H742.1ZM777.5 268.3H784.2V271.8H777.5ZM787.2 268.3H790.7V271.8H787.2ZM751.8 271.5H761.7V275.0H751.8ZM767.9 271.5H774.6V275.0H767.9ZM777.5 271.5H784.2V275.0H777.5ZM767.9 274.7H771.4V278.2H767.9ZM777.5 274.7H781.0V278.2H777.5Z"/>
<path fill="#80ff53" d="M732.5 242.5H736.0V246.0H732.5ZM732.5 245.7H736.0V249.3H732.5ZM745.3 245.7H752.1V249.3H745.3ZM729.3 249.0H732.8V252.5H729.3ZM735.7 249.0H739.2V252.5H735.7ZM742.1 249.0H745.6V252.5H742.1ZM748.6 249.0H755.3V252.5H748.6ZM735.7 252.2H739.2V255.7H735.7ZM758.2 252.2H764.9V255.7H758.2ZM729.3 255.4H732.8V258.9H729.3ZM758.2 255.4H761.7V258.9H758.2ZM764.6 255.4H768.2V258.9H764.6ZM735.7 258.6H742.4V262.1H735.7ZM745.3 258.6H748.9V262.1H745.3ZM764.6 258.6H768.2V262.1H764.6ZM771.1 258.6H774.6V262.1H771.1ZM745.3 265.0H752.1V268.6H745.3ZM755.0 265.0H758.5V268.6H755.0ZM774.3 265.0H781.0V268.6H774.3ZM751.8 268.3H755.3V271.8H751.8ZM774.3 268.3H777.8V271.8H774.3ZM761.4 271.5H768.2V275.0H761.4ZM774.3 271.5H777.8V275.0H774.3Z"/>
<path fill="#8bff4b" d="M732.5 249.0H736.0V252.5H732.5ZM738.9 249.0H742.4V252.5H738.9ZM745.3 249.0H748.9V252.5H745.3ZM732.5 252.2H736.0V255.7H732.5ZM738.9 252.2H758.5V255.7H738.9ZM732.5 255.4H748.9V258.9H732.5ZM751.8 255.4H758.5V258.9H751.8ZM761.4 255.4H764.9V258.9H761.4ZM742.1 258.6H745.6V262.1H742.1ZM748.6 258.6H752.1V262.1H748.6ZM758.2 258.6H764.9V262.1H758.2ZM738.9 261.8H748.9V265.3H738.9ZM751.8 261.8H758.5V265.3H751.8ZM764.6 261.8H768.2V265.3H764.6ZM771.1 261.8H774.6V265.3H771.1ZM751.8 265.0H755.3V268.6H751.8ZM758.2 265.0H774.6V268.6H758.2ZM748.6 268.3H752.1V271.8H748.6ZM755.0 268.3H774.6V271.8H755.0Z"/>
<path fill="#96fe44" d="M748.6 255.4H752.1V258.9H748.6ZM751.8 258.6H758.5V262.1H751.8ZM767.9 258.6H771.4V262.1H767.9ZM748.6 261.8H752.1V265.3H748.6ZM758.2 261.8H764.9V265.3H758.2ZM767.9 261.8H771.4V265.3H767.9Z"/>
</g>
<path d="M441.5 238.5 L462.5 236.1 465.4 238.4 439.8 242.3ZM562.2 163.5 L566.9 160.6 570.4 166.4 582 167.5 593 167.5 587.8 172.2 580.8 173.3 570.4 169.9 563.4 166.4ZM561.1 124.1 L570.4 122.9 582 125.2 593.6 129.9 595.9 133.9 587.8 132.2 575 130.4 565.7 126.4ZM296.1 483.5 L302.3 480.4 306 474.9 314.6 470.6 323.2 468.1 331.7 466.3 342.8 467.3 353.9 468.1 363.7 471.8 370.4 476.7 382.1 474.9 394.4 483.5 405.4 491.5 417.7 494.5 416.5 498.2 426.3 498.8 436.1 504.4 434.9 507.4 422.6 508.7 406.7 508.1 390.1 509.9 398.7 502.5 393.1 499.5 385.8 498.2 382.1 495.8 377.8 487.8 368.6 486.6 358.8 484.7 353.9 482.3 345.3 480.4 336.7 479.2 333 477.4 338.5 474.3 325.6 473.1 315.8 481 309.6 481 308.4 483.5 302.3 485ZM382.1 529.8 L389.6 526.8 399.6 527.3 409.6 531.8 409.6 534.8 397.1 538 387.1 534.3ZM373.5 419.6 L388.2 418.4 390.7 416.6 400.5 422.7 398.1 432.5 394.4 431.3 395 424.6 389.5 422.7 374.7 425.8ZM384.5 440.5 L388.2 440.5 393.1 452.2 393.8 460.2 390.1 460.8 387 454 381.5 449.1ZM525.1 527.2 L534.6 526.8 544.2 527.7 546.5 530.6 543.7 534.1 526 534.7ZM595.8 627 L607.1 625.2 607.1 636.5 592.1 636ZM445.3 512.4 L448.7 508.6 460.1 510.1 467.8 510.5 471.6 509.1 479.2 509.1 484.9 511.5 490.7 512.9 493.1 516.3 500.2 516.7 499.7 520.6 505 521 511.7 525.8 506.9 531.1 500.2 528.2 492.6 528.2 486.9 530.6 482.6 531.5 481.1 528.2 477.3 530.1 472 538.7 468.2 536.8 466.8 532 459.2 531.1 451.5 531.1 444.8 531.1 439.1 533.5 431.9 529.2 433.4 525.3 444.8 526.8 455.3 527.2 459.2 525.3 453.9 520.1 453.4 515.3 448.7 514.4ZM645.5 121.7 L639.7 132.4 627.7 141 633.9 144.3 625.7 149.3 627.3 152.6 643 153 654.6 153 666.9 152.6 678.5 156.3 669.8 161.7 677.7 162.5 692.5 150.9 695 153 693.4 162.9 700.8 165 708.2 165 713.2 153.4 707.8 139 698.3 141 702.4 130.7 689.2 127.8 683.5 131.1 672.7 127 676 121.7M658.7 123.3 L660.3 125 664.5 123.3M532.7 120 L530.9 122.6 525.1 127.5 508.9 133.9 498.5 143.2 486.9 152.5 475.3 162.9 484.6 160 495 153.6 506.6 143.2 520.5 137.4 533.3 132.2 551.8 131.6 565.1 138 552.4 146.7 555.3 158.3 559.9 168.7 566.9 172.8 577.3 176.8 587.8 176.8 599.3 174.5 611.5 160.6 612.7 168.7 620.8 173.9 605.1 181.5 593.6 184.9 576.2 190.7 564.6 195.4 556.4 201.2 548.9 205.2 539.6 203.5 539.1 193.6 547.2 189.6 561.7 182.6 547.2 183.2 535.6 183.8 527.5 184.9 529.2 189 512.4 195.4 500.8 198.8 488 202.9 481.1 210.4 478.8 216.2 479.4 213.2 479 219 481.5 223.9 486.5 226.8 487.3 223.5 491 225.2 490.6 229.7 485.6 230.4 479 231.5 470.8 232.8 462.5 234.5 454.3 235.3 446 236.6 441.5 238.5 437.8 241 435.1 243.7 438.8 243.7 438.2 249.5 436.9 253.6 432.8 257.8 427.2 264 422.9 261.2 418.1 257.1 419.8 262.1 423.7 266 425 268.5 423.7 271.8 421.3 274.3 417.1 277.6 420.8 274.8 416.7 278.9 412.5 286.3 415 277.6 411.3 274.3 408.4 271.9 409.2 266.5 407.6 261.1 405.3 266.9 407.2 274.8 399.3 273.1 408 276.8 408.8 289.6 413.4 290.4 414.6 295 415.8 302.8 416.2 307.8 412.5 312.7 408.4 316 402.6 318.5 394.4 321 389.4 324.7 384.5 328.4 381.2 330 377.2 332.2 369.7 337.2 359.7 346 349.7 354.7 343.4 361.9 345.9 377 349.7 389.5 353.9 400 356.9 408.6 361.2 419.6 360 430.7 356.9 439.3 352 442.4 345.9 441.1 344 436.2 338.5 431.9 333 423.3 326.8 413.5 323.8 406.1 327.2 399.5 319.7 389.5 308.5 378.2 294.8 383.2 284.8 375.7 277.3 374 262.3 375 249.8 375.7 241.1 378.2 239.8 385.7 242.3 389 232.3 389.5 222.3 389 209.9 383.2 199.9 384.5 187.4 382 171.4 385.5 159.7 395 148.7 399.7 142.4 404.4 137 413.7 137.7 430.9 140.7 432.9 135 446.9 132.5 461.9 131.2 476.9 136.2 489.3 142.4 501.8 149.9 514.3 159.9 523 167.4 525.5 174.9 531.8 187.4 528 204.9 524.3 217.4 519.3 224.8 509.3 227.3 498.1 234.8 491.8 249.8 488.8 262.3 488.1 272.3 489.3 273.5 493.1 269.8 501.8 264.8 509.3 263.5 514.3 264.8 518.1 262.3 526.8 257.3 530.5 256.1 541.8 254.8 551.8 248.6 559.3 252.3 561.8 259.8 560.5 274.8 561.8 284.8 559.3 299.8 560.5 312.2 565.5 321 571.7 319.7 584.2 317.2 596.7 316 603.9 316 604 313.5 611.5 312.2 620.2 317.2 629 324.7 639 333.5 648.9 342.2 651.4 352.2 648.9 362.2 644 368.4 641.5 377.2 644 387.1 648.9 395.9 653.9 402.1 653.9 408.4 648.4 410.5 645.4 416.7 643.5 418.6 628.7 425.8 622.9 433.4 622.5 435.8 619.6 445.8 620.6 455.4 614.4 461.1 611 466.9 605.3 472.6 606.2 475.4 609.6 473.1 614.4 472.1 617.7 465.9 618.2 469.2 623.9 468.8 630.6 463 638.2 467.8 648.7 474 647.3 476.9 638.7 472.1 632 471.1 623.9 485 619.6 487.9 618.7 486 612.9 490.2 608.6 494.1 617.2 504.1 617.7 513.2 624.9 513.2 629.2 524.2 629.2 537.5 628.2 525.9 629 538.4 627.7 545.9 632.7 554.6 635.2 562.1 629 575.9 627.7 594.6 627.2 585.9 631.5 583.4 632.7 588.3 637.7 595.8 637.7 602.1 641.5 608.3 645.2 609.6 652.7 615.8 655.2 625.8 661.4 637 670.2 638.3 676.4 645.8 681.4 654.5 688.9 670.7 690.1 680.7 687.6 695.7 691.4 709.4 696.4 718.2 701.4 725.7 708.9 730.7 712.6 735.7 723.9 740.7 740.1 748.1 742.6 748.1 751.3 739.4 762.6 740.7 765 764.4 767.5 765.6 780 775.6 773.8 798.1 780 813.1 785 818.1 798.8 832 795 852 802 875.7 801.3 894.4 812.5 906.9 825 914.4 830M342.7 830 L343.4 826.2 348.4 816.2 357.2 806.2 362.2 798.8 359.7 796.3 349.7 792.5 348.4 778.8 352.2 776.3 357.2 766.3 359.7 755.1 374.7 747.6 377.2 742.6 380.9 732.6 389.6 728.8 397.1 716.4 395.9 708.9 393.4 698.9 394.6 688.9 392.1 676.4 387.1 668.9 383.4 660.2 377.2 653.9 368.4 651.4 359.7 656.4 355.9 662.7 359.7 669.4 349.7 671.4 348.4 666.4 340.9 663.9 333.5 660.2 326 660.2 322.2 658.9 314.7 655.2 313.5 647.7 304.7 641.5 297.3 636.5 294.8 641.5 286 634 287.3 624 284.8 619 274.8 610.2 266 604 263.5 599.2 259.8 596.7 247.3 595.5 232.3 590.5 222.3 586.7 209.9 581.7 202.4 576.7 194.9 569.2 184.9 561.8 172.4 556.8 159.9 559.3 148.7 563 132.5 559.3 117.5 553 104 550.5M1266 381.5 L1261 385.7 1252.3 393.2 1239.8 402 1228.6 404.4 1222.3 409.4 1214.9 421.9 1203.6 428.2 1199.9 436.9 1196.1 448.1 1186.1 458.1 1179.9 469.4 1172.4 484.3 1170.7 494.3 1179.9 505 1181.9 529.9 1179.4 546.2 1176.2 554.9 1168.7 569.9 1162.4 574.9 1168.7 579.9 1172.9 589.9 1174.9 604.8 1181.1 614.8 1196.1 623.6 1202.4 634.8 1214.9 646 1221.1 652.3 1222.3 662.3 1232.3 672.3 1243.6 678.5 1252.3 687.2 1266 696.7" fill="none" stroke="#000" stroke-width="2.8" stroke-linejoin="round" stroke-linecap="round"/>
<path d="M104.5 135 L166.2 135 166.4 130 170.4 130 172.4 135.5 176.2 138 186.1 140 198.6 143 209.9 145.7 221.1 144.2 231.1 146 239.8 147 252.8 143.7 264.8 148.2 279.8 153.7 294.8 159.5 299 164.4 300 164.8 307.4 167.3 309.2 170.3 314.7 172.8 316.6 175.9 327.6 180.8 330.1 188.8 333.2 204.7 330.1 210.9 324.6 218.2 320.9 224.4 322.7 228.1 328.9 229.3 335.6 226.2 344.2 221.9 355.3 219.5 365.1 217 374.3 213.9 374.9 208.4 371.8 206 377.4 203.9 401.9 203.5 406.8 198.6 417.9 190 426.5 186.3 470.7 186.3 471.9 183.2 480 180.2M466 185.5 L470.6 183.2 481.1 180.3 486.9 172.2 490.4 164.1 499.6 154.8 503.1 157.7 512.4 155.4 518.2 159.4 518.2 176.8 526.3 184.4 529.2 189M104.5 406.9 L110 411.9 113.7 421.9 125 428.2 140 433.2M203.6 574.2 L209.9 559.3 226.1 559.3 224.8 550.5 213.6 543 219.9 543 219.9 535.5 243.6 535.5 249.8 528 256.1 526.8M243.6 535.5 L242.3 559.3 248.6 559.3M248.6 560.5 L254.8 564.2 242.3 573 241.1 579.2 232.3 588M241.1 579.2 L249.8 583 259.8 586.7 261 595.5M261 595.5 L269.8 598 274.8 589.2 284.8 585.5 289.8 579.2 299.8 575.5 312.2 573 321 571.7M467.8 510.5 L468.7 518.7 466.8 523.4 464.9 526.3 466.8 532M287.3 624 L294.8 621.5 304.7 625.2 313.5 627.7M324.7 644 L323.5 650.2 324.7 657.7M387.1 668.9 L395.9 663.9 393.4 656.4 395.9 653.9M374.7 747.6 L390.9 755.1 398.4 761.3 408.4 760.1 422.1 767.5 434.6 776.3 444.6 786.3 449.6 795 459.6 796.3 466 795M355.7 813.5 L354.7 821.7 361.9 821.7 371.4 830M371.4 830 L378.4 821.7 381.6 812.5 388.9 804 404.6 797.5 414.6 787.5 420.8 778.8 422.1 767.5M473.1 614.4 L465.9 615.8 463 617.7 461.1 621.5 453.5 628.2 451.1 632 449.7 639.7 446.8 647.3 452.5 647.8 454.9 653 458.3 656.9 459.7 661.6 457.8 665.4 458.3 669.3 461.1 671.2 464.5 675 472.6 674.5 481.2 674 487.9 675.5 494.1 682M466 675.2 L488.5 675.2 497.2 686.4 522.2 685.1 519.7 697.6 518.4 708.9 524.7 720.1 518.4 728.8 524.7 738.8 528.4 749.6M528.4 750.1 L520.9 740.1 517.2 742.6 492.2 743.8 492.2 750.1 499.7 751.3 499.7 756.3 489.7 757.6 488.5 766.3 497.2 773.8 494.7 798.8 491 820M491 820 L481 811.2 489.7 801.3 478.5 795 466 795M491 820 L478.5 821.7 466 825 451 832.5M528.4 750.1 L537.2 755.6 547.1 754.6 549.6 751.3 564.6 746.3 570.9 740.1 574.6 736.3 562.1 732.6 560.9 716.4 555.9 712.6 578.4 716.4 605.8 706.4 610.8 702.6 609.6 698.9 617.1 698.9M617.1 698.9 L608.3 696.4 600.8 688.9 603.3 678.9 614.6 676.4 610.8 667.7 619.6 659.4 615.8 655.2M617.1 698.9 L618.3 706.4 623.3 713.9 619.6 728.8 623.3 740.1 630.8 748.8 638.3 747.6 648.3 742.6 663.3 740.8M654.5 688.9 L652 701.4 645.8 703.9 644.5 712.6 652 722.6 655.8 731.3 663.3 740.8M663.3 740.8 L669.5 741.3 670.7 733.8 682 732.6 688.2 735.1M695.7 691.9 L689.5 703.9 694.5 717.6 692 728.8 688.2 735.1M688.2 735.1 L698.2 733.8 703.2 738.8 711.9 733.8 718.2 723.9 725.7 711.4M1264.8 421.4 L1253.6 418.2 1243.6 419.9 1239.8 429.4 1236.1 430.7 1264.8 431.4M1236.1 430.7 L1237.3 464.4 1223.6 466.9 1221.8 476.9 1223.6 491.3 1171.2 491.3M1234.8 430.7 L1229.8 446.9 1219.9 454.4 1209.9 461.9 1204.9 479.4 1199.9 489.8M1176.2 554.9 L1182.4 552.9 1189.9 553.7 1196.1 551.9 1202.4 552.4 1212.4 557.4 1222.3 564.9 1228.6 571.1 1234.8 576.9 1239.8 567.4 1249.8 569.4 1264.8 566.6M1234.8 576.9 L1236.8 589.9 1242.3 597.4 1242.8 609.8 1249.8 608.6 1264.8 613.1M1174.9 589.9 L1189.9 589.9 1196.1 587.4 1202.4 589.9 1209.9 587.9 1211.1 591.1 1206.1 594.4 1198.6 592.4 1192.4 594.9 1174.9 596.1M1174.9 604.1 L1199.9 602.3 1214.9 603.6 1229.8 606.1 1242.8 604.8M1214.9 603.6 L1213.6 612.3 1209.9 616.1 1202.4 617.3 1196.1 623.6M1221.1 652.3 L1229.8 639.8 1238.6 636.1 1246.1 636.1 1252.3 646 1254.8 657.3 1264.8 656.3M1254.8 657.8 L1247.3 667.3 1243.6 678.5" fill="none" stroke="#111" stroke-width="1.94" stroke-linejoin="round"/>
<path d="M166.2 122 L166.2 130M140 135.5 L142.4 145 145.4 157.5 146.2 173.7 147.9 179.9 149.2 189.9 149.2 205.6M104.5 173.9 L146.2 173.9M149.2 205.6 L215.4 205.6M104.5 211.9 L125 212.9 140 214.4 147.9 216.4M149.2 205.6 L148.2 214.9 152.4 224.9 156.2 234.9 159.4 242.8 163.7 250.1 167.4 256.1 172.4 262.3 172.9 269.8 172.9 295.5 174.9 317.3 174.9 332.2M159.4 242.8 L213.6 242.8 212.4 249.8M104.5 250.1 L163.7 250.1M104.5 289 L172.9 289M172.9 295.5 L229.8 295.5 228.6 301.8 234.8 301.8M104.5 319.8 L115 323.5 125 326 137.5 329.7 149.9 331 162.4 329.2 174.9 332.2 180.4 334.7 180.4 340.5 181.1 361.4M180.4 340.5 L217.4 340.5M203.1 164.9 L196.1 176.2 197.4 184.9 209.9 194.9 215.4 202.4 216.1 205.6 217.4 212.4 224.8 218.6 231.1 226.1 222.3 232.4 217.4 237.4 219.4 243.6 213.6 249.8 216.1 258.6 224.8 264.8 229.8 269.8 233.6 277.3 238.6 282.3 242.3 289.8 237.3 299.8 234.8 304.8 231.1 312.3 224.8 319.8 219.9 327.2 217.4 334.7 218.6 344.7 219.9 352.2 216.1 361.9M203.1 164.9 L227.3 165.4 238.6 147M227.3 165.4 L237.3 168.7 249.8 171.2 259.8 177.4 263.5 184.4 272.3 179.9 279.8 182.4 274.8 185.4 269.8 194.9 268.5 207.4 269.8 218.6 268.5 227.9M224.8 218.6 L269.8 218.6M264.8 227.9 L321 227.9M264.8 227.9 L263.5 259.8 262.3 269.8 257.3 277.8M299 227.9 L299 262.3M242.3 289.8 L249.8 284.8 257.3 277.8 264.8 276.8 274.8 276.1 279.8 269.8 289.8 267.3 298.5 262.3 307.2 267.3 317.2 264.8 324.7 268.6 329.7 267.3 334.7 261.1 343.4 256.1 349.7 248.6 353.4 242.3 354.7 229.9 354.7 221.1M354.7 242.3 L354.7 254.1 419.6 254.1M364.7 224.9 L422.1 224.9M243.6 294.5 L413.4 294.3M229.8 315.5 L320 315.5 317.5 318M320 315.5 L330.7 312.3 349.9 314 364.7 319.8 377.2 329.2M305 314.8 L306.7 311.5 311.7 307.8 320.7 304.5 329 300.8 339.7 295M329.7 267.3 L327.2 274.8 336 282.3 324.7 289.8 314.7 294.3M336 282.3 L347.2 279.8 357.2 272.3 364.7 266.1 372.2 259.8 382.1 256.1 387.1 259.8 390.9 256.1 399.6 264.3M368.4 254.1 L368.4 259.8 377.2 256.1 390.9 256.1M256.8 315.5 L254.8 331.2 251.8 352.2 252.3 361.9M288.5 315.5 L292.8 336.2 297.8 349.5 294.8 356 296 361.9M317.5 318 L327.5 328 339.7 338.7 345.4 347 347.9 352.7 349.7 354.7M367.2 122 L367.2 155 372.2 164.9 382.1 169.9 394.6 173.7 407.1 179.9 422.1 179.4 433.3 178.7 433.3 183.7M380 224.8 L420.4 224.8 424.6 228.1 425 230.9 427.9 233 439.4 238M427.9 233 L423.7 238.8 422.5 242.9 426.2 246.2 428.7 248.7 424.6 250.5M380 254.1 L415.5 254.1 418.8 252.4M415.5 254.1 L415.9 270.6 424.6 270.6M445.2 200 L446 205 447.7 209.1 447.7 215.3 445.2 223.9 443.5 231.4 442.7 236.7M446.1 186.9 L446.7 198.6 445.8 201M462.5 200 L459.2 205 456.8 215.3M470.7 186.9 L468.2 192.4 463.3 196.1 461.5 200.4M476.6 200 L477.4 208.3 479 213.2M476.8 182.6 L477.4 198.6 478.3 200.4M447.7 215.3 L473.3 215.7 479 213.2M445.2 224.1 L471.6 224.4 473.7 228.5M466.7 224.4 L466.7 233M466 185.5 L470.6 183.2 481.1 180.3 486.9 172.2 490.4 164.1 499.6 154.8M499.6 154.8 L504.3 156.5 510.1 153.6 511.2 148.4 521.7 147.8 530.9 147.8M475.9 183.2 L478.8 212.8 473 216.2 466 216.8M181.1 360.4 L185.5 362 186.3 368.3 184.4 374.6 183.9 379.6M216.1 360.4 L211.4 362 211.4 366.4 234.9 366.7 236.5 373.8 238.8 377.7M252.3 360.4 L253 374.2M263.2 374.2 L263.2 366.4 294.5 366.4M296 360.4 L296.9 369.5 330 372.2 340 373.3 341.6 371.1M574.6 736.3 L583.4 743.8 587.1 756.3 585.9 773.8 595.8 783.8 599.6 773.8 605.8 772.5 610.8 776.3 615.8 766.3 618.3 762.6 632 762.6M632 748.8 L632 762.6 635.8 776.3 650.8 786.3 664.5 795 649.5 828.7M685.7 735.1 L687 742.6 703.2 751.3 710.7 766.3 716.9 778.8 721.9 780M796.8 780 L793.1 798.8 783.1 816.2 769.4 828.7M852 802 L839.5 816.2 838.2 828.7M858.2 802.5 L857 813.7 860.7 828.7" fill="none" stroke="#626262" stroke-width="1.7" stroke-linejoin="round"/>
<path d="M360.96 122 V829.9 M618.32 122 V829.9 M875.68 122 V829.9 M1133.04 122 V829.9 M104 765.20 H1262 M104 636.54 H1262 M104 507.88 H1262 M104 379.22 H1262 M104 250.56 H1262" fill="none" stroke="#808080" stroke-opacity="0.5" stroke-width="1.67" stroke-dasharray="1.67 2.75" stroke-dashoffset="0.6"/>
</g>
<rect x="104" y="122" width="1158" height="707.9" fill="none" stroke="#000" stroke-width="2.2"/>
<rect x="1289.5" y="62.7" width="45.7" height="869.1" fill="url(#cb)"/>
<path d="M1289.5 63.2 L1312.35 19 L1335.2 63.2 Z" fill="#7a0403"/>
<path d="M1289.5 931.8 V62.7 L1312.35 19 L1335.2 62.7 V931.8 Z" fill="none" stroke="#000" stroke-width="2.2" stroke-linejoin="miter"/>
<path d="M1336.3 931.8 h9.7 M1336.3 711 h9.7 M1336.3 533 h9.7 M1336.3 369 h9.7 M1336.3 213 h9.7 M1336.3 63 h9.7" stroke="#000" stroke-width="2.2" fill="none"/>
<g font-family="'DejaVu Sans','Liberation Sans',sans-serif" fill="#000">
<text x="1355" y="943" font-size="27.8">20</text>
<text x="1355" y="722.2" font-size="27.8">40</text>
<text x="1355" y="544.2" font-size="27.8">60</text>
<text x="1355" y="380.2" font-size="27.8">80</text>
<text x="1355" y="224.2" font-size="27.8">100</text>
<text x="1355" y="74.2" font-size="27.8">120</text>
<text transform="translate(1440 497) rotate(-90)" font-size="27.8" text-anchor="middle">10m Wind Speed (knots)</text>
<text x="682.5" y="99.5" font-size="33.3" text-anchor="middle">GEFS-P90 – Day 1 (10m Wind Speed)</text>
<text x="362.0" y="867" font-size="27.8" text-anchor="middle">80°W</text>
<text x="619.3" y="867" font-size="27.8" text-anchor="middle">60°W</text>
<text x="876.7" y="867" font-size="27.8" text-anchor="middle">40°W</text>
<text x="1134.0" y="867" font-size="27.8" text-anchor="middle">20°W</text>
<text x="90" y="773.7" font-size="27.8" text-anchor="end">0°</text>
<text x="90" y="645.0" font-size="27.8" text-anchor="end">10°N</text>
<text x="90" y="516.4" font-size="27.8" text-anchor="end">20°N</text>
<text x="90" y="387.7" font-size="27.8" text-anchor="end">30°N</text>
<text x="90" y="259.1" font-size="27.8" text-anchor="end">40°N</text>
<text x="682.5" y="904.5" font-size="25" text-anchor="middle" fill="#3a3a3a">Max: 52 kt @ 38.5°N, 47.2°W • Valid 2025-12-29 00Z</text>
</g>
</svg>
</body></html>
